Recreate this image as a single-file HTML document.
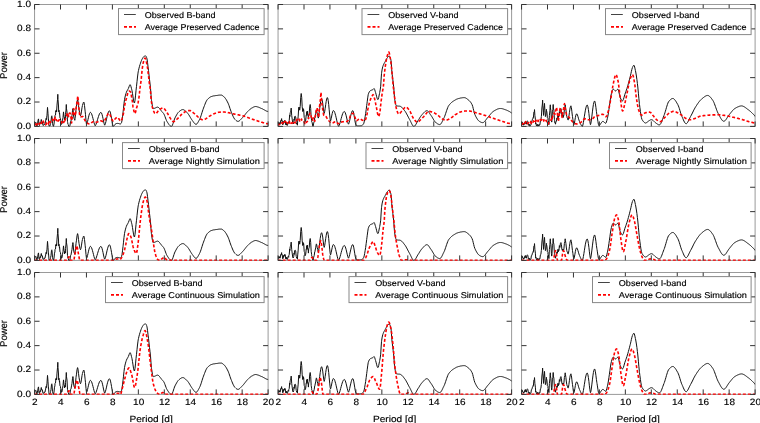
<!DOCTYPE html><html><head><meta charset="utf-8"><style>html,body{margin:0;padding:0;background:#fff;width:760px;height:423px;overflow:hidden}svg{display:block;will-change:transform}text{font-family:"Liberation Sans",sans-serif;fill:#000;stroke:#000;stroke-width:0.15px;text-rendering:geometricPrecision}</style></head><body>
<svg width="760" height="423" viewBox="0 0 760 423">
<rect width="760" height="423" fill="#fff"/>
<clipPath id="c00"><rect x="34.55" y="2.50" width="233.55" height="124.30"/></clipPath>
<rect x="34.55" y="4.50" width="233.55" height="121.90" fill="none" stroke="#9a9a9a" stroke-width="1"/>
<g clip-path="url(#c00)" fill="none" stroke-linejoin="round">
<polyline points="34.0,125.2 34.5,125.1 35.0,122.5 35.5,122.0 36.0,122.8 36.5,125.4 36.8,125.8 37.0,126.0 37.5,123.5 37.6,124.0 38.0,120.5 38.4,119.1 38.5,118.9 39.0,124.7 39.2,124.9 39.5,125.5 40.0,123.4 40.1,124.0 40.5,121.9 41.0,121.3 41.3,119.5 41.5,121.8 42.0,121.3 42.3,123.2 42.5,122.4 43.0,125.5 43.5,125.2 44.0,125.0 44.5,124.0 45.0,124.2 45.5,121.3 45.6,121.6 46.0,118.5 46.5,119.6 46.6,117.9 47.0,115.2 47.5,107.4 47.6,108.4 48.0,113.4 48.4,120.3 48.5,119.5 49.0,125.5 49.1,125.2 49.5,126.3 50.0,125.8 50.5,124.6 50.6,123.4 51.0,121.6 51.5,116.4 51.8,115.8 52.0,116.7 52.5,123.3 52.7,124.0 53.0,125.5 53.5,126.4 54.0,124.1 54.5,119.2 54.9,117.9 55.0,115.6 55.5,115.0 55.9,110.6 56.0,112.0 56.5,109.9 56.6,111.8 57.0,105.1 57.5,99.7 57.8,94.3 58.0,99.3 58.5,106.0 58.7,111.8 59.0,110.3 59.5,114.1 59.6,113.4 60.0,118.0 60.5,118.6 60.6,120.3 61.0,120.5 61.5,124.4 61.6,124.0 62.0,123.6 62.5,120.3 63.0,117.6 63.5,111.9 64.0,116.4 64.4,117.9 64.5,119.9 65.0,117.5 65.3,119.1 65.5,114.5 66.0,110.1 66.3,104.5 66.5,108.8 67.0,112.0 67.5,121.5 67.7,122.7 68.0,124.5 68.5,124.9 68.7,126.4 69.0,126.1 69.5,126.4 69.6,126.4 70.0,125.4 70.5,121.7 71.0,120.9 71.5,117.9 72.0,115.4 72.5,110.6 72.9,108.6 73.0,108.6 73.5,115.0 73.9,117.9 74.0,118.4 74.5,119.1 74.8,120.3 75.0,118.7 75.5,114.7 76.0,109.7 76.2,108.1 76.5,106.2 77.0,101.9 77.5,99.7 77.6,99.6 78.0,101.1 78.5,105.4 79.0,109.3 79.5,112.1 80.0,114.6 80.5,115.7 81.0,114.3 81.5,111.1 82.0,107.7 82.4,105.7 82.5,105.3 83.0,103.6 83.5,102.3 83.8,102.0 84.0,102.4 84.5,105.5 85.0,110.1 85.2,111.8 85.5,114.7 86.0,120.5 86.5,124.2 86.6,124.3 87.0,123.5 87.5,121.7 88.0,119.5 88.5,117.2 89.0,115.2 89.5,113.6 90.0,112.6 90.4,112.4 90.5,112.4 91.0,112.8 91.5,113.6 92.0,115.0 92.5,116.7 93.0,118.6 93.5,120.6 94.0,122.6 94.5,124.3 95.0,125.6 95.2,125.8 95.5,125.5 96.0,124.4 96.5,123.0 97.0,121.4 97.5,119.7 98.0,118.0 98.5,116.4 99.0,115.0 99.5,113.8 100.0,113.0 100.5,112.5 100.9,112.4 101.0,112.4 101.5,113.0 102.0,114.3 102.5,116.2 103.0,118.5 103.5,121.0 104.0,123.2 104.5,124.9 104.7,125.2 105.0,124.7 105.5,123.2 106.0,121.3 106.5,119.1 107.0,116.8 107.5,114.8 108.0,113.1 108.5,111.8 109.0,111.0 109.4,110.8 109.5,110.8 110.0,111.5 110.5,113.1 111.0,115.5 111.5,118.3 112.0,121.3 112.5,124.0 113.0,126.0 113.2,126.4 113.5,126.3 114.0,125.8 114.5,125.1 115.0,124.4 115.5,124.0 116.0,123.7 116.5,123.5 117.0,123.4 117.5,123.4 118.0,123.4 118.5,123.5 119.0,123.6 119.5,123.8 120.0,123.9 120.3,124.0 120.5,123.9 121.0,123.5 121.5,122.7 122.0,120.6 122.5,116.8 123.0,112.6 123.1,111.8 123.5,108.2 124.0,103.4 124.5,99.6 125.0,97.1 125.5,95.1 126.0,93.4 126.4,92.3 126.5,92.0 127.0,90.9 127.5,90.1 128.0,89.2 128.3,88.6 128.5,88.2 129.0,86.8 129.5,85.4 130.0,84.7 130.1,84.7 130.5,85.2 131.0,86.7 131.5,88.7 131.8,89.8 132.0,90.7 132.5,93.6 133.0,96.9 133.5,100.1 134.0,102.3 134.4,103.0 134.5,102.9 135.0,100.5 135.5,95.9 136.0,90.7 136.3,88.0 136.5,86.3 137.0,81.7 137.5,77.0 138.0,73.1 138.2,71.9 138.5,70.4 139.0,68.2 139.5,66.3 140.0,64.7 140.1,64.4 140.5,63.2 141.0,61.7 141.5,60.4 142.0,59.3 142.5,58.4 142.9,57.8 143.0,57.6 143.5,57.0 144.0,56.5 144.5,56.0 145.0,55.7 145.3,55.7 145.5,55.8 146.0,56.3 146.5,57.3 146.7,57.8 147.0,58.9 147.5,62.3 148.0,66.4 148.1,67.2 148.5,70.4 149.0,75.0 149.5,79.5 150.0,83.5 150.5,88.0 151.0,94.9 151.4,99.6 151.5,100.3 152.0,103.8 152.5,106.6 153.0,108.3 153.3,108.6 153.5,108.6 154.0,108.5 154.5,108.3 155.0,108.1 155.5,107.9 156.0,107.7 156.5,107.4 157.0,107.2 157.5,107.1 157.6,107.1 158.0,107.2 158.5,107.5 159.0,107.9 159.5,108.5 160.0,109.2 160.5,109.8 161.0,110.5 161.5,111.2 161.8,111.5 162.0,111.7 162.5,112.3 163.0,112.8 163.5,113.4 163.8,113.8 164.0,114.2 164.5,115.3 165.0,116.6 165.5,118.0 166.0,119.3 166.5,120.6 167.0,121.5 167.5,122.3 168.0,123.1 168.5,123.8 169.0,124.6 169.5,125.2 170.0,125.7 170.5,126.1 171.0,126.3 171.4,126.4 171.5,126.4 172.0,125.9 172.5,124.9 173.0,123.6 173.5,122.0 174.0,120.5 174.5,119.0 175.0,117.9 175.5,116.9 176.0,116.0 176.5,115.1 177.0,114.2 177.5,113.4 178.0,112.7 178.5,112.2 178.9,111.8 179.0,111.7 179.5,111.3 180.0,110.9 180.5,110.5 181.0,110.1 181.5,109.9 182.0,109.7 182.5,109.6 182.7,109.6 183.0,109.6 183.5,109.7 184.0,110.0 184.5,110.3 185.0,110.7 185.5,111.1 186.0,111.6 186.5,112.1 187.0,112.6 187.4,113.0 187.5,113.1 188.0,113.7 188.5,114.4 189.0,115.1 189.5,116.0 190.0,116.8 190.5,117.7 191.0,118.5 191.5,119.3 192.0,120.0 192.2,120.3 192.5,120.7 193.0,121.4 193.5,122.1 194.0,122.8 194.5,123.4 195.0,123.9 195.5,124.2 196.0,124.3 196.5,124.2 197.0,123.8 197.5,123.1 198.0,122.3 198.5,121.4 199.0,120.5 199.5,119.5 199.7,119.1 200.0,118.5 200.5,117.2 201.0,115.8 201.5,114.2 202.0,112.6 202.5,111.0 203.0,109.5 203.5,108.1 204.0,106.8 204.5,105.5 205.0,104.2 205.5,102.9 206.0,101.8 206.5,100.8 207.0,100.0 207.3,99.6 207.5,99.4 208.0,98.9 208.5,98.4 209.0,98.0 209.5,97.6 210.0,97.2 210.5,96.9 211.0,96.7 211.5,96.5 212.0,96.3 212.5,96.2 213.0,96.0 213.5,95.9 214.0,95.8 214.5,95.8 215.0,95.7 215.5,95.6 216.0,95.6 216.5,95.5 217.0,95.4 217.5,95.4 218.0,95.3 218.5,95.2 219.0,95.2 219.5,95.1 220.0,95.1 220.5,95.1 221.0,95.1 221.5,95.1 222.0,95.3 222.5,95.6 223.0,96.0 223.5,96.4 224.0,96.9 224.3,97.1 224.5,97.3 225.0,97.9 225.5,98.6 226.0,99.3 226.5,100.1 227.0,101.1 227.5,102.0 228.0,103.0 228.1,103.2 228.5,104.2 229.0,105.5 229.5,107.0 230.0,108.5 230.5,110.0 230.9,111.0 231.0,111.3 231.5,112.5 232.0,113.8 232.5,115.0 233.0,116.2 233.5,117.2 234.0,118.1 234.5,118.9 234.7,119.1 235.0,119.4 235.5,119.9 236.0,120.4 236.5,120.8 237.0,121.1 237.5,121.3 238.0,121.4 238.5,121.3 239.0,121.1 239.5,120.7 240.0,120.3 240.5,119.8 241.0,119.2 241.5,118.7 242.0,118.2 242.3,117.9 242.5,117.7 243.0,117.1 243.5,116.6 244.0,116.0 244.5,115.3 245.0,114.7 245.5,114.1 246.0,113.4 246.5,112.8 247.0,112.2 247.5,111.7 248.0,111.2 248.5,110.7 249.0,110.2 249.5,109.8 250.0,109.3 250.5,108.9 251.0,108.6 251.5,108.2 251.7,108.1 252.0,107.9 252.5,107.7 253.0,107.4 253.5,107.1 254.0,106.9 254.5,106.7 255.0,106.6 255.5,106.5 256.0,106.6 256.5,106.6 257.0,106.7 257.5,106.9 258.0,107.0 258.5,107.2 259.0,107.4 259.5,107.6 260.0,107.9 260.5,108.1 261.0,108.3 261.2,108.4 261.5,108.5 262.0,108.7 262.5,108.9 263.0,109.2 263.5,109.5 264.0,109.8 264.5,110.0 265.0,110.3 265.5,110.6 266.0,110.8 266.5,111.1 267.0,111.3 267.5,111.4 267.8,111.5 268.0,111.6 268.5,111.7 269.0,111.8" stroke="#111" stroke-width="1.0"/>
<polyline points="34.0,124.0 35.0,124.9 35.1,124.4 36.0,123.0 36.2,122.7 37.0,124.9 37.3,123.7 38.2,122.7 38.4,122.4 39.3,124.2 39.5,123.5 40.5,122.1 40.6,121.6 41.5,123.4 41.7,122.0 42.8,121.3 43.0,120.3 43.9,122.7 44.5,123.4 45.0,124.8 45.5,124.9 46.1,124.4 46.8,122.7 47.2,123.6 48.2,124.0 48.3,124.1 49.4,120.2 49.6,120.3 50.4,122.1 50.5,122.5 51.6,119.7 52.1,119.5 52.7,119.4 53.3,121.5 53.8,119.8 54.9,118.6 55.0,117.3 56.0,120.1 56.3,119.7 57.1,121.2 57.8,120.1 58.2,121.1 59.2,119.7 59.3,121.1 60.4,121.1 61.3,123.0 61.5,121.9 62.6,123.0 63.0,122.1 63.7,122.5 64.8,119.8 64.9,120.8 65.9,117.6 66.7,115.8 67.0,113.9 67.4,113.0 68.1,113.5 68.6,116.6 69.2,113.5 69.9,113.0 70.3,113.3 71.0,117.9 71.4,120.3 71.6,123.0 72.5,114.7 72.7,114.5 73.6,108.9 73.8,108.7 74.7,114.4 74.8,115.8 75.5,114.2 75.8,111.9 76.4,105.7 76.9,102.5 77.3,99.6 77.8,95.9 78.0,97.6 78.6,104.5 79.1,110.0 79.5,114.2 79.5,114.4 80.0,116.4 80.4,116.9 80.6,116.9 81.0,116.8 81.5,116.7 82.0,116.6 82.5,116.5 82.8,116.5 83.0,116.6 83.5,117.3 84.1,118.3 84.5,119.5 85.0,120.3 85.0,120.4 85.6,121.2 86.0,122.0 86.6,122.7 87.0,123.1 87.1,123.1 87.5,123.4 88.0,123.6 88.5,123.8 89.1,123.9 89.4,124.0 89.6,124.0 90.0,123.8 90.5,123.4 91.0,123.1 91.5,122.7 91.6,122.7 92.1,122.3 92.5,121.9 93.1,121.7 93.2,121.6 93.5,121.7 94.0,121.8 94.5,122.0 95.1,122.3 95.5,122.4 95.6,122.4 96.0,122.3 96.5,122.2 97.0,122.1 97.6,121.9 98.0,121.8 98.4,121.6 98.5,121.6 99.0,121.4 99.5,121.2 100.0,121.0 100.5,120.9 100.7,120.9 101.0,120.9 101.5,121.0 102.0,121.2 102.5,121.4 103.0,121.5 103.5,121.6 103.6,121.6 104.0,121.4 104.5,120.8 105.0,119.9 105.5,119.0 105.9,118.4 106.0,118.1 106.5,117.1 107.0,115.9 107.5,114.8 108.0,113.9 108.5,113.3 108.8,113.2 109.0,113.3 109.5,113.9 110.0,114.7 110.5,115.8 111.0,116.6 111.0,116.7 111.5,118.0 112.0,119.4 112.5,120.6 113.0,121.2 113.1,121.2 113.6,120.9 114.0,120.4 114.5,119.8 115.0,119.1 115.5,118.5 116.0,118.0 116.6,117.6 117.0,117.4 117.3,117.4 117.5,117.4 118.1,117.7 118.5,118.3 119.0,119.0 119.5,119.8 120.0,120.6 120.5,121.1 120.7,121.2 121.0,121.0 121.5,120.1 122.1,118.7 122.5,117.0 123.0,115.4 123.0,115.2 123.6,112.8 124.0,109.6 124.5,106.3 124.9,104.5 125.0,103.8 125.5,101.6 126.0,99.7 126.6,97.9 126.9,96.7 127.0,96.1 127.5,94.1 128.1,92.5 128.3,92.0 128.5,91.7 129.1,91.2 129.5,91.0 129.6,91.1 130.1,91.4 130.6,92.2 130.8,92.8 131.1,93.6 131.5,96.6 131.8,98.1 132.1,99.7 132.6,103.3 133.0,106.9 133.5,109.3 133.6,109.6 134.1,111.8 134.6,113.4 134.8,113.6 135.1,113.4 135.6,112.0 136.1,109.9 136.5,108.1 136.6,107.9 137.1,106.3 137.6,104.7 138.1,102.7 138.2,102.0 138.6,100.1 138.9,97.8 139.1,96.6 139.6,91.9 140.0,87.8 140.1,87.4 140.6,83.9 141.1,80.5 141.3,78.5 141.5,75.9 142.1,70.3 142.2,69.0 142.6,66.5 143.0,63.6 143.6,61.5 143.6,61.3 144.1,59.9 144.6,58.6 145.1,58.0 145.1,58.0 145.6,58.7 146.1,60.5 146.5,62.4 146.5,62.6 147.1,65.2 147.6,68.4 147.9,70.8 148.0,72.0 148.6,76.4 149.1,81.1 149.3,83.1 149.6,84.8 150.1,87.9 150.3,89.8 150.6,92.6 151.1,99.1 151.2,100.4 151.6,102.8 152.0,105.8 152.6,108.0 153.1,109.7 153.1,109.8 153.6,111.0 154.1,112.1 154.5,113.0 155.1,113.6 155.5,113.8 155.6,113.8 156.1,113.6 156.6,113.2 157.0,112.5 157.6,111.7 158.1,111.0 158.6,110.4 159.0,109.9 159.1,109.9 159.5,109.6 160.1,109.2 160.6,108.9 161.1,108.6 161.6,108.3 162.0,108.2 162.6,108.0 163.0,108.0 163.1,108.0 163.6,108.1 164.1,108.5 164.6,109.1 165.1,109.7 165.6,110.4 166.1,111.1 166.5,111.8 166.6,111.8 167.1,112.6 167.6,113.5 168.1,114.4 168.6,115.4 169.1,116.3 169.6,117.2 170.0,117.9 170.1,117.9 170.6,118.7 171.1,119.4 171.6,120.1 172.1,120.8 172.6,121.3 173.1,121.6 173.4,121.6 173.6,121.6 174.1,121.5 174.6,121.2 175.1,120.9 175.6,120.4 176.1,119.9 176.6,119.5 177.0,119.1 177.1,119.0 177.6,118.6 178.1,118.1 178.6,117.6 179.1,117.1 179.6,116.5 180.1,116.0 180.6,115.4 181.1,114.9 181.6,114.4 182.1,114.0 182.5,113.6 182.6,113.6 183.1,113.2 183.6,112.8 184.1,112.5 184.6,112.1 185.1,111.8 185.6,111.5 186.1,111.3 186.5,111.2 186.6,111.1 187.1,111.0 187.6,110.9 188.1,110.7 188.6,110.6 189.1,110.6 189.5,110.6 189.6,110.6 190.1,110.6 190.6,110.8 191.1,111.1 191.6,111.4 192.1,111.8 192.6,112.2 193.1,112.6 193.5,113.0 193.6,113.0 194.1,113.4 194.6,113.8 195.1,114.3 195.6,114.7 196.1,115.2 196.6,115.7 197.1,116.1 197.5,116.5 197.6,116.6 198.1,117.0 198.6,117.5 199.1,118.0 199.6,118.5 200.1,118.8 200.5,119.1 200.6,119.1 201.1,119.3 201.6,119.5 202.1,119.7 202.6,119.8 203.0,119.8 203.1,119.8 203.6,119.8 204.1,119.6 204.6,119.5 205.1,119.2 205.6,118.9 206.1,118.6 206.6,118.2 207.1,117.9 207.6,117.5 208.1,117.1 208.6,116.8 209.1,116.4 209.6,116.1 209.7,116.0 210.1,115.9 210.6,115.6 211.1,115.3 211.6,115.0 212.1,114.7 212.6,114.5 213.1,114.2 213.6,113.9 214.1,113.7 214.6,113.5 215.1,113.3 215.3,113.2 215.6,113.2 216.1,113.0 216.6,112.8 217.1,112.7 217.6,112.6 218.1,112.4 218.6,112.3 219.1,112.2 219.5,112.2 220.0,112.1 220.1,112.1 220.6,112.1 221.0,112.1 221.6,112.1 222.1,112.0 222.5,112.0 223.1,112.0 223.6,112.0 224.0,112.0 224.0,112.0 224.6,112.0 225.1,112.1 225.6,112.2 226.1,112.2 226.6,112.3 227.1,112.4 227.6,112.5 228.0,112.6 228.1,112.6 228.5,112.7 229.1,112.8 229.6,112.9 230.0,113.1 230.6,113.2 231.1,113.3 231.5,113.4 232.1,113.5 232.4,113.6 232.6,113.6 233.0,113.7 233.6,113.9 234.1,114.0 234.6,114.1 235.1,114.2 235.6,114.3 236.1,114.4 236.6,114.5 237.1,114.6 237.6,114.7 238.0,114.8 238.1,114.8 238.6,114.9 239.1,115.0 239.6,115.1 240.1,115.2 240.6,115.3 241.0,115.4 241.6,115.5 242.1,115.6 242.6,115.8 243.1,115.9 243.6,116.0 243.7,116.0 244.1,116.1 244.6,116.3 245.1,116.5 245.6,116.6 246.1,116.8 246.6,117.0 247.1,117.2 247.6,117.4 248.1,117.6 248.5,117.8 249.1,118.0 249.4,118.1 249.6,118.2 250.0,118.3 250.6,118.5 251.1,118.7 251.5,118.9 252.0,119.1 252.6,119.3 253.0,119.5 253.6,119.6 254.1,119.8 254.6,120.0 255.1,120.2 255.1,120.2 255.6,120.3 256.1,120.5 256.6,120.6 257.1,120.8 257.6,121.0 258.1,121.1 258.5,121.2 259.1,121.4 259.6,121.5 260.0,121.7 260.6,121.8 260.7,121.9 261.1,122.0 261.5,122.2 262.0,122.3 262.6,122.5 263.1,122.7 263.6,122.8 264.1,123.0 264.6,123.1 265.1,123.2 265.5,123.4 265.6,123.4 266.1,123.5 266.6,123.6 267.1,123.7 267.6,123.8 268.1,123.8 268.6,123.9 269.0,124.0" stroke="#f00" stroke-width="1.6" stroke-dasharray="3,2"/>
</g>
<path d="M34.55,126.40v-5M34.55,4.50v5M60.50,126.40v-5M60.50,4.50v5M86.45,126.40v-5M86.45,4.50v5M112.40,126.40v-5M112.40,4.50v5M138.35,126.40v-5M138.35,4.50v5M164.30,126.40v-5M164.30,4.50v5M190.25,126.40v-5M190.25,4.50v5M216.20,126.40v-5M216.20,4.50v5M242.15,126.40v-5M242.15,4.50v5M268.10,126.40v-5M268.10,4.50v5M34.55,126.40h5M268.10,126.40h-5M34.55,102.02h5M268.10,102.02h-5M34.55,77.64h5M268.10,77.64h-5M34.55,53.26h5M268.10,53.26h-5M34.55,28.88h5M268.10,28.88h-5M34.55,4.50h5M268.10,4.50h-5" stroke="#333" stroke-width="1"/>
<rect x="118.50" y="8.60" width="145.60" height="26.00" fill="#fff" stroke="#888" stroke-width="1"/>
<path d="M124.00,14.50h11.8" stroke="#444" stroke-width="1"/>
<path d="M124.00,26.90h12" stroke="#f00" stroke-width="1.6" stroke-dasharray="3,2"/>
<text x="144.80" y="17.70" font-size="8.45" textLength="70.84" lengthAdjust="spacingAndGlyphs">Observed B-band</text>
<text x="144.80" y="29.60" font-size="8.45" textLength="114.77" lengthAdjust="spacingAndGlyphs">Average Preserved Cadence</text>
<text x="17.09" y="128.70" font-size="9.10" textLength="13.91" lengthAdjust="spacingAndGlyphs">0.0</text>
<text x="17.09" y="104.32" font-size="9.10" textLength="13.91" lengthAdjust="spacingAndGlyphs">0.2</text>
<text x="17.09" y="79.94" font-size="9.10" textLength="13.91" lengthAdjust="spacingAndGlyphs">0.4</text>
<text x="17.09" y="55.56" font-size="9.10" textLength="13.91" lengthAdjust="spacingAndGlyphs">0.6</text>
<text x="17.09" y="31.18" font-size="9.10" textLength="13.91" lengthAdjust="spacingAndGlyphs">0.8</text>
<text x="17.09" y="6.80" font-size="9.10" textLength="13.91" lengthAdjust="spacingAndGlyphs">1.0</text>
<g transform="translate(7.1,65.45) rotate(-90)"><text x="-13.50" y="0.00" font-size="9.80" textLength="27.00" lengthAdjust="spacingAndGlyphs">Power</text></g>
<clipPath id="c01"><rect x="278.05" y="2.50" width="233.55" height="124.30"/></clipPath>
<rect x="278.05" y="4.50" width="233.55" height="121.90" fill="none" stroke="#9a9a9a" stroke-width="1"/>
<g clip-path="url(#c01)" fill="none" stroke-linejoin="round">
<polyline points="277.7,124.0 278.2,124.5 278.7,122.5 279.0,122.7 279.2,122.4 279.7,124.1 280.0,124.0 280.2,124.1 280.7,120.6 281.2,121.0 281.6,118.6 281.7,120.5 282.2,120.4 282.7,124.7 282.8,124.0 283.2,124.2 283.7,121.3 284.2,122.3 284.6,120.5 284.7,121.5 285.2,120.7 285.7,124.5 286.0,124.0 286.2,125.0 286.7,123.2 287.2,125.5 287.5,124.6 287.7,124.6 288.2,122.4 288.7,123.2 288.8,121.5 289.2,120.7 289.7,115.1 289.8,116.6 290.2,112.4 290.7,112.1 291.2,108.1 291.7,115.4 292.2,119.1 292.7,123.0 293.2,124.0 293.7,122.6 294.1,119.1 294.2,120.4 294.7,116.5 295.2,116.2 295.7,117.0 296.2,122.5 296.4,122.7 296.7,124.1 297.2,124.4 297.4,125.2 297.7,120.9 298.2,116.1 298.7,107.7 298.8,108.1 299.2,107.0 299.7,110.2 299.8,109.3 300.2,106.6 300.7,97.8 301.2,93.5 301.7,97.4 302.2,106.8 302.6,109.9 302.7,111.5 303.2,108.6 303.5,110.6 303.7,109.8 304.2,117.4 304.7,118.2 305.0,121.9 305.2,120.4 305.7,120.5 306.2,115.1 306.4,115.4 306.7,111.8 307.2,112.7 307.3,111.0 307.7,115.5 308.2,115.8 308.4,119.1 308.7,114.9 309.2,113.6 309.7,107.0 310.2,104.5 310.7,108.5 311.2,117.6 311.6,120.3 311.7,121.8 312.2,122.7 312.7,125.9 313.0,126.4 313.2,126.1 313.7,123.1 314.2,121.6 314.7,118.0 314.9,117.9 315.2,116.0 315.7,113.9 316.2,110.6 316.4,109.9 316.7,110.7 317.2,113.3 317.7,115.4 318.2,117.9 318.3,118.1 318.7,116.5 319.2,112.9 319.7,108.7 320.2,104.6 320.7,101.3 321.2,99.3 321.6,98.7 321.7,98.8 322.2,100.1 322.7,103.1 323.2,107.1 323.7,111.0 324.2,113.4 324.7,111.5 325.2,108.3 325.7,104.7 326.2,101.4 326.7,99.0 327.2,97.7 327.4,97.6 327.7,98.0 328.2,100.4 328.7,104.5 329.2,109.8 329.7,115.1 330.2,119.5 330.5,120.9 330.7,120.5 331.2,118.6 331.7,116.0 332.2,113.6 332.7,111.6 333.2,110.6 333.4,110.6 333.7,110.7 334.2,111.2 334.7,112.3 335.2,113.9 335.7,115.7 336.2,117.8 336.7,120.1 337.2,122.2 337.7,124.2 338.2,125.7 338.6,126.4 338.7,126.3 339.2,125.4 339.7,124.0 340.2,122.3 340.7,120.4 341.2,118.5 341.7,116.7 342.2,115.0 342.7,113.6 343.2,112.5 343.7,111.8 344.2,111.5 344.3,111.5 344.7,111.7 345.2,112.6 345.7,114.0 346.2,115.8 346.7,118.0 347.2,120.2 347.7,122.2 348.2,123.7 348.5,124.2 348.7,123.9 349.2,122.5 349.7,120.4 350.2,118.1 350.7,115.9 351.2,113.8 351.7,112.2 352.2,111.0 352.7,110.6 352.8,110.6 353.2,111.1 353.7,113.1 354.2,116.0 354.7,119.2 355.2,122.2 355.7,124.4 356.1,125.2 356.2,125.2 356.7,125.5 357.2,125.8 357.7,125.9 358.0,125.9 358.2,125.9 358.7,125.9 359.2,125.9 359.7,125.9 360.2,125.8 360.7,125.8 361.0,125.8 361.2,125.8 361.7,125.6 362.2,125.3 362.7,124.9 363.2,124.3 363.5,124.0 363.7,123.6 364.2,121.9 364.7,119.3 365.2,116.3 365.6,113.8 365.7,113.2 366.2,109.5 366.7,105.5 367.0,103.2 367.2,101.8 367.7,97.9 368.2,94.7 368.4,94.0 368.7,93.2 369.2,92.1 369.7,91.3 370.2,90.8 370.3,90.7 370.7,90.5 371.2,90.3 371.7,90.1 372.2,89.9 372.7,89.7 373.2,89.3 373.7,88.8 374.1,88.6 374.2,88.6 374.7,89.6 375.2,91.3 375.5,92.3 375.7,92.9 376.2,94.8 376.7,96.8 377.2,98.5 377.7,99.5 377.9,99.6 378.2,99.2 378.7,97.5 379.2,95.0 379.5,93.5 379.7,92.5 380.2,89.9 380.7,86.2 381.2,78.0 381.5,73.7 381.7,72.2 382.2,69.1 382.7,67.0 382.9,66.3 383.2,65.5 383.7,64.3 384.2,63.3 384.7,62.5 385.2,61.6 385.3,61.4 385.7,60.6 386.2,59.6 386.7,58.7 387.2,57.9 387.5,57.5 387.7,57.3 388.2,56.7 388.7,56.3 389.2,56.1 389.3,56.1 389.7,56.4 390.2,57.5 390.7,59.2 391.0,60.6 391.2,62.2 391.7,69.4 391.9,71.9 392.2,74.6 392.7,78.6 392.8,79.5 393.2,82.7 393.7,87.0 393.8,88.0 394.2,94.0 394.5,97.8 394.7,99.1 395.2,102.2 395.7,104.4 396.2,105.6 396.4,105.8 396.7,105.9 397.2,106.0 397.7,106.0 398.2,106.1 398.7,106.1 399.2,106.1 399.7,106.2 400.2,106.3 400.7,106.5 401.2,106.8 401.7,107.2 402.2,107.7 402.7,108.2 403.2,108.8 403.7,109.5 404.2,110.1 404.7,110.8 404.9,111.0 405.2,111.4 405.7,112.2 406.2,113.1 406.7,114.0 407.2,114.9 407.7,115.9 408.2,116.9 408.7,117.8 409.2,118.8 409.6,119.5 409.7,119.6 410.2,120.6 410.7,121.6 411.2,122.7 411.7,123.7 412.2,124.7 412.7,125.5 413.2,126.1 413.7,126.4 413.9,126.4 414.2,126.3 414.7,126.0 415.2,125.5 415.7,124.7 416.2,123.9 416.7,122.9 417.2,122.0 417.7,121.1 418.2,120.3 418.7,119.6 419.2,118.8 419.7,117.9 420.2,117.1 420.7,116.4 421.2,115.7 421.7,115.0 421.9,114.8 422.2,114.5 422.7,113.9 423.2,113.4 423.7,112.8 424.2,112.3 424.7,111.8 425.2,111.4 425.7,111.1 426.2,110.8 426.7,110.7 427.0,110.7 427.2,110.7 427.7,110.9 428.2,111.4 428.7,112.0 429.2,112.7 429.7,113.5 430.2,114.3 430.7,115.0 431.0,115.4 431.2,115.7 431.7,116.4 432.2,117.2 432.7,118.1 433.2,118.9 433.7,119.8 434.2,120.6 434.7,121.3 435.2,122.0 435.7,122.5 436.0,122.7 436.2,122.9 436.7,123.2 437.2,123.6 437.7,123.9 438.2,124.1 438.7,124.4 439.2,124.5 439.7,124.6 439.8,124.6 440.2,124.5 440.7,124.1 441.2,123.4 441.7,122.6 442.2,121.7 442.7,120.6 443.2,119.5 443.7,118.5 444.0,117.9 444.2,117.5 444.7,116.3 445.2,114.9 445.7,113.4 446.2,111.9 446.7,110.4 447.2,109.0 447.7,107.7 448.2,106.5 448.7,105.7 449.2,105.0 449.7,104.4 450.2,103.8 450.7,103.3 451.2,102.8 451.7,102.3 452.2,101.9 452.7,101.6 453.1,101.3 453.2,101.2 453.7,100.9 454.2,100.6 454.7,100.3 455.2,100.0 455.7,99.7 456.2,99.4 456.7,99.2 457.2,99.0 457.7,98.8 458.2,98.6 458.7,98.5 459.2,98.4 459.7,98.3 460.2,98.1 460.7,98.0 461.2,97.9 461.7,97.9 462.2,97.8 462.7,97.7 463.2,97.7 463.7,97.6 464.2,97.6 464.7,97.7 465.2,97.8 465.7,98.0 466.2,98.3 466.7,98.6 467.2,99.0 467.7,99.4 468.2,99.8 468.7,100.2 469.2,100.6 469.7,101.1 470.2,101.7 470.7,102.3 471.2,103.1 471.7,103.9 472.0,104.5 472.2,104.9 472.7,106.4 473.2,108.4 473.7,110.5 474.2,112.5 474.7,114.1 474.9,114.6 475.2,115.2 475.7,116.3 476.2,117.2 476.7,118.1 477.2,118.9 477.7,119.7 478.2,120.3 478.7,120.8 479.2,121.2 479.3,121.3 479.7,121.5 480.2,121.8 480.7,122.1 481.2,122.3 481.7,122.5 482.2,122.6 482.7,122.6 483.2,122.5 483.7,122.3 484.2,121.9 484.7,121.4 485.2,120.8 485.7,120.1 486.2,119.5 486.7,118.8 487.2,118.1 487.7,117.5 488.2,116.9 488.7,116.4 489.2,115.8 489.7,115.2 490.2,114.6 490.7,114.0 491.2,113.4 491.7,112.8 492.2,112.3 492.7,111.9 493.2,111.4 493.7,111.1 493.8,111.0 494.2,110.8 494.7,110.5 495.2,110.2 495.7,110.0 496.2,109.7 496.7,109.5 497.2,109.2 497.7,109.0 498.2,108.9 498.7,108.7 499.2,108.6 499.7,108.5 500.2,108.5 500.4,108.5 500.7,108.5 501.2,108.5 501.7,108.6 502.2,108.7 502.7,108.8 503.2,109.0 503.7,109.1 504.2,109.3 504.7,109.5 505.2,109.7 505.7,109.8 506.0,109.9 506.2,110.0 506.7,110.2 507.2,110.4 507.7,110.7 508.2,110.9 508.7,111.2 509.2,111.4 509.7,111.7 510.2,112.0 510.7,112.4 511.2,112.7 511.7,113.0 512.2,113.4 512.5,113.6" stroke="#111" stroke-width="1.0"/>
<polyline points="277.7,124.0 278.8,125.0 279.0,124.6 279.9,124.2 280.5,123.4 281.0,123.8 282.0,122.6 282.1,123.3 283.2,123.5 283.4,124.2 284.3,121.7 284.8,121.5 285.4,121.5 286.2,123.4 286.5,122.4 287.6,123.3 287.8,122.1 288.7,122.5 289.4,121.5 289.8,123.1 290.9,123.9 291.2,124.7 292.0,122.6 293.1,122.7 293.3,121.5 294.2,122.6 294.9,122.1 295.3,122.9 296.4,120.1 296.5,120.8 297.5,118.5 298.3,118.7 298.6,118.2 299.7,121.0 299.8,120.1 300.8,120.5 301.5,119.0 301.9,120.2 303.0,120.3 303.0,120.9 304.1,121.7 304.9,123.6 305.2,122.8 306.3,123.4 306.5,122.1 307.4,121.4 308.5,117.6 308.7,118.4 309.6,114.0 310.1,113.2 310.7,113.8 311.3,117.3 311.8,117.9 312.5,120.3 312.9,118.6 313.6,117.9 314.0,118.2 314.8,121.2 315.1,117.9 316.2,110.8 317.2,108.0 317.3,109.7 318.0,113.0 318.4,116.5 318.6,117.4 319.5,107.4 319.5,106.9 320.5,98.5 320.6,96.8 321.0,92.4 321.7,102.0 322.8,110.1 322.9,110.8 323.1,111.7 323.6,114.8 323.8,115.4 324.1,115.6 324.6,115.7 325.1,115.9 325.5,116.0 325.6,116.1 326.1,116.6 326.6,117.5 327.1,118.5 327.6,119.3 327.6,119.3 328.1,119.9 328.6,120.4 329.1,121.0 329.6,121.5 330.1,121.9 330.4,122.1 330.6,122.2 331.1,122.6 331.6,122.9 332.1,123.1 332.3,123.1 332.6,123.0 333.1,122.8 333.6,122.5 334.1,122.2 334.6,121.9 335.1,121.7 335.6,121.6 335.6,121.6 336.1,121.8 336.6,122.2 337.1,122.7 337.6,123.3 338.0,123.6 338.1,123.6 338.6,123.5 339.1,123.2 339.6,122.8 340.1,122.5 340.6,122.2 340.8,122.1 341.1,122.1 341.6,122.0 342.1,121.9 342.6,121.8 343.1,121.7 343.6,121.7 343.8,121.6 344.1,121.6 344.6,121.6 345.1,121.6 345.6,121.6 346.1,121.6 346.5,121.5 346.6,121.5 347.1,121.3 347.6,121.0 348.1,120.5 348.6,119.9 349.0,119.3 349.1,119.3 349.6,118.1 350.1,116.6 350.6,115.2 350.9,114.6 351.1,114.4 351.6,113.9 352.1,113.5 352.6,113.3 352.8,113.2 353.1,113.3 353.6,114.1 354.1,115.2 354.6,116.3 354.7,116.6 355.1,117.5 355.6,119.0 356.1,120.2 356.5,120.7 356.6,120.7 357.1,120.4 357.6,120.1 358.1,119.7 358.6,119.3 359.1,119.0 359.6,118.9 359.9,118.8 360.1,118.9 360.6,119.0 361.1,119.4 361.6,119.8 362.1,120.1 362.5,120.3 362.6,120.3 363.1,120.4 363.6,120.6 364.1,120.6 364.6,120.7 364.6,120.7 365.1,120.3 365.6,119.4 366.1,117.9 366.5,116.5 366.6,116.4 367.1,113.9 367.6,110.8 367.9,108.8 368.1,108.2 368.6,105.9 369.1,103.9 369.6,102.1 369.8,101.3 370.1,100.5 370.6,99.1 371.1,97.8 371.6,96.8 371.7,96.5 372.1,95.9 372.6,95.1 373.1,94.7 373.1,94.7 373.6,95.3 374.1,96.9 374.5,98.5 374.6,98.7 375.1,100.8 375.6,103.3 375.9,105.1 376.1,105.8 376.6,108.4 377.1,111.1 377.4,112.7 377.6,113.5 378.1,116.0 378.3,116.5 378.6,116.4 379.1,115.5 379.5,114.2 379.6,114.0 380.1,110.8 380.6,106.1 381.0,102.0 381.1,101.6 381.6,97.7 382.1,93.9 382.3,92.3 382.6,90.9 383.1,88.5 383.3,86.9 383.6,84.1 384.1,77.0 384.1,76.4 384.6,72.1 385.1,68.0 385.2,66.9 385.6,64.5 386.1,61.3 386.6,58.6 386.7,57.9 387.1,56.5 387.6,54.7 388.1,53.4 388.1,53.3 388.6,52.3 388.8,52.0 389.1,52.4 389.6,54.5 390.0,56.9 390.1,57.2 390.6,60.2 391.1,64.0 391.4,66.9 391.6,68.3 392.1,73.7 392.3,76.4 392.6,79.1 393.1,84.5 393.3,86.9 393.6,89.1 394.0,92.8 394.1,93.2 394.6,97.3 395.1,101.2 395.5,104.2 395.6,104.5 396.1,107.3 396.6,109.6 396.9,110.8 397.1,111.2 397.6,112.4 398.1,113.4 398.6,114.0 398.8,114.1 399.1,114.0 399.6,113.8 400.1,113.2 400.6,112.6 401.1,111.9 401.6,111.2 402.1,110.6 402.1,110.6 402.6,110.1 403.1,109.5 403.6,108.8 404.1,108.3 404.6,107.7 405.1,107.3 405.6,107.1 405.9,107.0 406.1,107.0 406.6,107.2 407.1,107.6 407.6,108.1 408.1,108.7 408.6,109.3 409.1,110.0 409.6,110.7 409.6,110.8 410.1,111.5 410.6,112.5 411.1,113.6 411.6,114.7 412.1,115.8 412.6,116.9 413.1,117.8 413.4,118.4 413.6,118.6 414.1,119.2 414.6,119.9 415.1,120.6 415.6,121.2 416.1,121.6 416.6,122.0 417.1,122.1 417.2,122.1 417.6,122.1 418.1,121.9 418.6,121.6 419.1,121.2 419.6,120.7 420.1,120.2 420.6,119.7 421.0,119.3 421.1,119.3 421.6,118.8 422.1,118.4 422.6,117.8 423.1,117.3 423.6,116.8 424.1,116.2 424.6,115.7 424.8,115.4 425.1,115.1 425.6,114.5 426.1,113.8 426.6,113.1 427.1,112.4 427.6,111.8 428.1,111.4 428.6,111.3 428.6,111.3 429.1,111.3 429.6,111.4 430.1,111.5 430.6,111.6 431.1,111.7 431.6,111.9 432.1,112.0 432.6,112.2 433.0,112.4 433.1,112.4 433.6,112.6 434.1,112.8 434.6,113.1 435.1,113.4 435.6,113.7 436.1,114.0 436.6,114.3 437.1,114.7 437.6,115.0 438.1,115.4 438.1,115.4 438.6,115.8 439.1,116.3 439.6,116.8 440.1,117.3 440.6,117.8 441.1,118.2 441.5,118.5 441.6,118.5 442.1,118.8 442.6,119.1 443.1,119.4 443.6,119.6 444.1,119.8 444.6,120.0 445.1,120.1 445.6,120.2 445.6,120.2 446.1,120.2 446.6,120.1 447.1,119.9 447.6,119.7 448.1,119.5 448.6,119.2 449.1,119.0 449.6,118.7 450.1,118.4 450.4,118.2 450.6,118.2 451.1,117.9 451.6,117.5 452.1,117.2 452.6,116.8 453.1,116.4 453.6,116.1 454.1,115.7 454.6,115.3 455.1,115.0 455.1,114.9 455.6,114.6 456.1,114.3 456.6,114.0 457.1,113.6 457.6,113.3 458.1,113.0 458.6,112.7 459.1,112.4 459.6,112.2 459.8,112.1 460.1,112.1 460.6,111.9 461.1,111.7 461.6,111.6 462.1,111.4 462.6,111.3 463.0,111.2 463.6,111.1 464.1,111.1 464.5,111.0 464.5,111.0 465.1,111.0 465.6,111.0 466.0,111.0 466.6,111.0 467.1,111.0 467.5,111.0 468.1,111.0 468.6,111.0 469.1,111.0 469.3,111.0 469.6,111.0 470.1,111.1 470.6,111.2 471.1,111.3 471.6,111.5 472.0,111.6 472.6,111.8 473.1,112.0 473.5,112.1 473.6,112.1 474.1,112.3 474.6,112.4 475.0,112.5 475.6,112.6 476.1,112.8 476.5,112.9 477.1,113.0 477.6,113.1 478.1,113.3 478.6,113.4 479.1,113.6 479.2,113.6 479.6,113.7 480.1,113.9 480.6,114.0 481.1,114.2 481.6,114.3 482.1,114.5 482.6,114.6 483.1,114.8 483.6,115.0 484.1,115.1 484.5,115.3 484.9,115.4 485.1,115.5 485.6,115.6 486.1,115.8 486.6,116.0 487.1,116.2 487.6,116.3 488.1,116.5 488.6,116.7 489.1,116.8 489.6,117.0 490.1,117.2 490.6,117.4 490.6,117.4 491.1,117.5 491.6,117.7 492.0,117.9 492.6,118.1 493.1,118.2 493.5,118.4 494.1,118.6 494.6,118.8 495.0,118.9 495.5,119.1 496.1,119.3 496.2,119.3 496.5,119.4 497.1,119.6 497.6,119.8 498.1,119.9 498.6,120.1 499.1,120.2 499.6,120.4 500.1,120.6 500.6,120.7 501.1,120.9 501.6,121.0 501.9,121.2 502.0,121.2 502.6,121.4 503.1,121.6 503.5,121.8 504.1,121.9 504.6,122.1 505.0,122.3 505.5,122.5 506.1,122.7 506.6,122.8 507.1,123.0 507.6,123.1 507.6,123.1 508.1,123.2 508.6,123.3 509.1,123.4 509.6,123.5 510.1,123.6 510.6,123.7 511.1,123.8 511.6,123.9 512.1,123.9 512.5,124.0" stroke="#f00" stroke-width="1.6" stroke-dasharray="3,2"/>
</g>
<path d="M278.05,126.40v-5M278.05,4.50v5M304.00,126.40v-5M304.00,4.50v5M329.95,126.40v-5M329.95,4.50v5M355.90,126.40v-5M355.90,4.50v5M381.85,126.40v-5M381.85,4.50v5M407.80,126.40v-5M407.80,4.50v5M433.75,126.40v-5M433.75,4.50v5M459.70,126.40v-5M459.70,4.50v5M485.65,126.40v-5M485.65,4.50v5M511.60,126.40v-5M511.60,4.50v5M278.05,126.40h5M511.60,126.40h-5M278.05,102.02h5M511.60,102.02h-5M278.05,77.64h5M511.60,77.64h-5M278.05,53.26h5M511.60,53.26h-5M278.05,28.88h5M511.60,28.88h-5M278.05,4.50h5M511.60,4.50h-5" stroke="#333" stroke-width="1"/>
<rect x="362.00" y="8.60" width="145.60" height="26.00" fill="#fff" stroke="#888" stroke-width="1"/>
<path d="M367.50,14.50h11.8" stroke="#444" stroke-width="1"/>
<path d="M367.50,26.90h12" stroke="#f00" stroke-width="1.6" stroke-dasharray="3,2"/>
<text x="388.30" y="17.70" font-size="8.45" textLength="70.35" lengthAdjust="spacingAndGlyphs">Observed V-band</text>
<text x="388.30" y="29.60" font-size="8.45" textLength="114.77" lengthAdjust="spacingAndGlyphs">Average Preserved Cadence</text>
<clipPath id="c02"><rect x="521.55" y="2.50" width="233.55" height="124.30"/></clipPath>
<rect x="521.55" y="4.50" width="233.55" height="121.90" fill="none" stroke="#9a9a9a" stroke-width="1"/>
<g clip-path="url(#c02)" fill="none" stroke-linejoin="round">
<polyline points="521.4,124.0 521.9,123.4 522.0,121.9 522.4,123.5 522.9,123.5 523.4,125.2 523.9,123.9 524.4,124.3 524.9,122.0 525.3,122.3 525.4,121.5 525.9,124.0 526.2,123.4 526.4,124.2 526.9,121.3 527.4,120.9 527.9,121.7 528.4,125.1 528.6,124.9 528.9,125.5 529.4,124.3 529.9,126.3 530.4,125.4 530.9,125.1 531.4,121.6 531.9,121.4 532.4,119.2 532.9,119.0 533.1,117.6 533.4,117.9 533.9,112.0 534.4,111.4 534.5,109.6 534.9,115.6 535.4,119.2 535.7,124.0 535.9,123.3 536.4,125.7 536.9,124.9 537.1,125.4 537.4,124.4 537.9,126.2 538.4,124.7 538.9,126.0 539.4,124.6 539.9,124.9 540.4,120.9 540.9,120.2 541.3,116.6 541.4,116.4 541.9,108.0 542.4,104.0 542.6,100.1 542.9,105.9 543.4,112.4 543.5,115.4 543.9,108.9 544.4,105.3 544.5,103.4 544.9,110.7 545.4,116.6 545.9,115.1 546.4,109.3 546.5,110.6 546.9,112.1 547.4,117.8 547.9,118.3 548.0,120.3 548.4,120.9 548.9,124.6 549.4,115.4 549.9,110.8 550.3,104.8 550.4,107.8 550.9,110.5 551.4,119.4 551.7,122.1 551.9,120.9 552.4,111.8 552.9,109.3 553.2,104.5 553.4,108.1 553.9,110.3 554.4,119.3 554.6,120.3 554.9,123.1 555.4,123.1 555.5,124.2 555.9,121.5 556.4,121.4 556.9,117.9 557.4,119.3 557.9,115.3 558.4,117.7 558.8,115.7 558.9,116.4 559.4,111.6 559.9,113.4 560.4,109.5 560.9,108.6 561.4,110.4 561.9,115.4 562.1,115.4 562.4,116.5 562.9,115.0 563.4,117.4 563.5,116.6 563.9,114.9 564.4,109.5 564.9,107.4 565.2,104.8 565.4,106.3 565.9,109.4 566.4,114.0 566.8,116.6 566.9,117.1 567.4,118.2 567.9,119.8 568.2,120.1 568.4,119.5 568.9,116.5 569.4,112.7 569.9,109.2 570.4,106.7 570.9,105.8 571.4,107.6 571.9,111.8 572.4,116.0 572.5,116.6 572.9,119.5 573.4,123.1 573.9,124.7 574.4,123.0 574.9,120.3 575.4,117.4 575.9,115.1 576.4,114.0 576.6,113.8 576.9,114.0 577.4,114.9 577.9,116.4 578.4,118.2 578.9,119.9 579.4,121.3 579.5,121.5 579.9,122.4 580.4,123.5 580.9,124.6 581.4,125.5 581.9,126.2 582.4,126.4 582.9,125.0 583.4,122.5 583.9,119.5 584.4,116.3 584.9,113.1 585.4,110.2 585.9,107.9 586.4,106.1 586.9,105.2 587.2,105.1 587.4,105.2 587.9,106.7 588.4,109.6 588.9,113.4 589.4,117.8 589.9,121.8 590.4,124.5 590.5,124.7 590.9,123.3 591.4,120.0 591.9,116.1 592.4,111.9 592.9,107.9 593.4,104.6 593.9,102.3 594.4,101.1 594.6,101.0 594.9,101.5 595.4,103.8 595.9,107.3 596.4,111.3 596.9,114.8 597.0,115.4 597.4,117.9 597.9,121.3 598.4,124.3 598.9,125.7 599.0,125.8 599.4,125.6 599.9,124.9 600.4,124.1 600.5,124.0 600.9,123.4 601.4,122.7 601.9,122.0 602.4,121.5 602.8,121.4 602.9,121.4 603.4,121.6 603.9,121.9 604.4,122.4 604.9,122.9 605.4,123.3 605.6,123.4 605.9,123.1 606.4,122.0 606.9,120.3 607.4,118.3 607.5,117.9 607.9,116.0 608.4,113.0 608.9,109.6 609.4,106.3 609.9,102.8 610.4,99.1 610.9,95.9 611.3,94.0 611.4,93.6 611.9,91.8 612.4,90.3 612.9,89.4 613.2,89.2 613.4,89.2 613.9,89.5 614.4,90.0 614.9,90.6 615.4,91.0 615.5,91.0 615.9,90.8 616.4,90.3 616.9,89.8 617.4,89.4 617.9,89.2 618.4,90.0 618.9,91.9 619.4,94.3 619.9,96.6 620.3,97.8 620.4,98.0 620.9,99.0 621.4,99.9 621.9,100.6 622.4,100.9 622.5,100.9 622.9,100.6 623.4,99.5 623.9,97.8 624.4,96.0 624.9,94.3 625.0,94.0 625.4,92.9 625.9,91.5 626.4,90.1 626.9,88.6 627.4,87.0 627.9,85.3 628.4,83.5 628.9,81.7 629.4,79.8 629.9,77.8 630.2,76.7 630.4,75.9 630.9,73.7 631.4,71.4 631.9,69.3 632.4,67.6 632.6,67.2 632.9,66.5 633.4,65.6 633.9,65.2 634.4,66.0 634.9,68.1 635.4,70.5 635.5,70.9 635.9,73.0 636.4,76.0 636.9,79.5 637.4,83.5 637.8,87.0 637.9,88.0 638.4,93.2 638.9,98.8 639.4,103.7 639.5,104.5 639.9,107.6 640.4,111.4 640.9,114.8 641.4,117.5 641.9,119.3 642.0,119.5 642.4,120.1 642.9,120.9 643.4,121.5 643.9,122.1 644.4,122.5 644.9,122.8 645.4,123.0 645.7,123.0 645.9,122.9 646.4,122.7 646.9,122.4 647.4,122.0 647.9,121.6 648.4,121.2 648.9,120.8 649.4,120.5 649.9,120.2 650.4,119.9 650.9,119.8 651.4,119.7 651.6,119.7 651.9,119.7 652.4,119.9 652.9,120.3 653.4,120.8 653.9,121.3 654.4,121.8 654.9,122.3 655.4,122.7 655.5,122.7 655.9,123.0 656.4,123.4 656.9,123.8 657.4,124.1 657.9,124.4 658.4,124.7 658.9,124.9 659.4,124.9 659.9,124.7 660.4,124.2 660.9,123.4 661.4,122.3 661.9,121.1 662.4,119.7 662.9,118.3 663.4,117.0 663.9,115.7 664.0,115.4 664.4,114.4 664.9,112.9 665.4,111.2 665.9,109.5 666.4,107.7 666.9,106.1 667.4,104.5 667.9,103.1 668.4,102.0 668.9,101.3 669.4,100.7 669.9,100.2 670.4,99.7 670.9,99.3 671.4,98.9 671.9,98.7 672.4,98.5 672.8,98.5 672.9,98.5 673.4,98.6 673.9,98.9 674.4,99.4 674.9,99.9 675.4,100.6 675.9,101.3 676.4,102.2 676.9,103.0 677.4,103.9 677.8,104.6 677.9,104.8 678.4,105.9 678.9,107.2 679.4,108.7 679.9,110.4 680.4,112.1 680.9,113.7 681.4,115.2 681.9,116.4 682.0,116.6 682.4,117.5 682.9,118.7 683.4,119.9 683.9,121.0 684.4,122.0 684.9,122.8 685.4,123.4 685.9,123.7 686.1,123.7 686.4,123.7 686.9,123.3 687.4,122.7 687.9,121.9 688.4,120.9 688.9,119.9 689.4,118.8 689.9,117.8 690.4,116.8 690.5,116.6 690.9,115.9 691.4,115.0 691.9,114.0 692.4,113.0 692.9,112.0 693.4,110.9 693.9,109.9 694.4,109.0 694.9,108.1 695.4,107.2 695.6,106.9 695.9,106.4 696.4,105.7 696.9,104.9 697.4,104.1 697.9,103.4 698.4,102.7 698.9,102.0 699.4,101.4 699.9,100.8 700.4,100.2 700.9,99.7 701.4,99.3 701.6,99.1 701.9,98.8 702.4,98.4 702.9,98.0 703.4,97.6 703.9,97.2 704.4,96.8 704.9,96.5 705.4,96.2 705.9,95.9 706.4,95.7 706.9,95.5 707.4,95.5 707.7,95.4 707.9,95.4 708.4,95.6 708.9,95.8 709.4,96.2 709.9,96.7 710.4,97.2 710.9,97.8 711.4,98.4 711.9,99.1 712.4,99.8 712.7,100.2 712.9,100.5 713.4,101.4 713.9,102.4 714.4,103.7 714.9,105.0 715.4,106.4 715.9,107.8 716.4,109.2 716.9,110.6 717.4,111.8 717.9,112.9 718.2,113.5 718.4,113.8 718.9,114.8 719.4,115.7 719.9,116.7 720.4,117.6 720.9,118.5 721.4,119.2 721.9,119.9 722.4,120.5 722.9,121.0 723.4,121.2 723.8,121.3 723.9,121.3 724.4,121.1 724.9,120.8 725.4,120.3 725.9,119.7 726.4,118.9 726.9,118.2 727.4,117.4 727.9,116.6 728.4,115.8 728.9,115.1 729.3,114.6 729.4,114.5 729.9,113.9 730.4,113.2 730.9,112.6 731.4,112.0 731.9,111.4 732.4,110.8 732.9,110.2 733.4,109.7 733.9,109.2 734.4,108.8 734.9,108.5 735.4,108.2 735.9,107.9 736.4,107.6 736.9,107.4 737.4,107.1 737.9,106.9 738.4,106.7 738.9,106.5 739.4,106.3 739.9,106.1 740.4,106.0 740.9,106.0 741.4,105.9 741.6,105.9 741.9,105.9 742.4,106.0 742.9,106.2 743.4,106.4 743.9,106.6 744.4,106.9 744.9,107.2 745.4,107.6 745.9,107.9 746.4,108.3 746.9,108.7 747.4,109.1 747.9,109.5 748.2,109.7 748.4,109.8 748.9,110.2 749.4,110.6 749.9,111.0 750.4,111.4 750.9,111.9 751.4,112.4 751.9,112.8 752.4,113.3 752.9,113.8 753.4,114.3 753.9,114.9 754.4,115.4 754.9,116.0 755.4,116.6 755.9,117.1 756.0,117.3" stroke="#111" stroke-width="1.0"/>
<polyline points="521.4,124.0 522.5,124.3 523.0,123.4 523.6,124.4 524.5,124.2 524.7,124.4 525.7,121.6 525.8,122.2 526.9,122.5 527.5,123.7 528.0,122.7 529.0,122.7 529.1,122.1 530.2,122.3 530.5,121.6 531.3,123.4 532.3,123.4 532.4,123.9 533.5,120.9 534.2,121.2 534.6,120.1 535.7,121.7 536.1,120.3 536.8,121.6 537.9,120.4 538.0,121.5 539.0,120.4 539.8,120.9 540.1,119.6 541.2,120.3 541.8,118.8 542.3,120.2 543.4,119.9 543.7,120.9 544.5,120.0 545.6,121.5 546.1,120.3 546.7,121.8 547.8,122.3 548.4,124.0 548.9,122.5 550.0,121.6 550.3,120.3 551.1,120.3 552.2,117.4 552.2,118.4 553.3,113.5 553.6,113.6 554.4,113.2 555.0,114.2 555.5,111.1 556.5,108.0 556.6,107.3 557.6,115.4 557.7,115.2 558.4,121.6 558.8,118.0 559.3,114.2 559.9,109.3 560.3,108.0 561.0,110.7 561.2,113.0 562.1,117.1 562.1,117.4 563.2,110.3 563.6,108.4 564.3,104.2 564.5,103.7 565.4,109.7 565.5,110.6 566.5,114.1 566.5,114.7 566.9,115.4 567.0,115.6 567.5,116.2 568.0,116.5 568.5,116.9 569.0,117.2 569.2,117.4 569.5,117.8 570.0,118.4 570.5,119.1 571.0,119.9 571.5,120.6 572.0,121.2 572.5,121.6 572.5,121.7 573.0,122.1 573.5,122.5 574.0,122.9 574.5,123.3 575.0,123.6 575.5,123.8 576.0,123.9 576.3,124.0 576.5,124.0 577.0,123.9 577.5,123.8 578.0,123.6 578.5,123.4 579.0,123.2 579.5,123.0 580.0,122.7 580.5,122.4 581.0,122.2 581.1,122.1 581.5,121.8 582.0,121.3 582.5,120.7 583.0,120.1 583.5,119.6 584.0,119.1 584.5,118.9 584.8,118.8 585.0,118.8 585.5,118.9 586.0,119.0 586.5,119.2 587.0,119.4 587.5,119.6 588.0,119.7 588.5,119.8 588.6,119.8 589.0,119.8 589.5,119.7 590.0,119.6 590.5,119.5 591.0,119.4 591.5,119.2 592.0,119.0 592.4,118.8 592.5,118.8 593.0,118.4 593.5,117.9 594.0,117.3 594.5,116.7 595.0,116.3 595.5,116.0 595.5,116.0 596.0,115.9 596.5,115.8 597.0,115.7 597.5,115.7 598.0,115.6 598.5,115.5 599.0,115.4 599.0,115.4 599.5,115.3 600.0,115.1 600.5,114.9 601.0,114.7 601.5,114.5 602.0,114.4 602.5,114.3 602.7,114.3 603.0,114.4 603.5,114.6 604.0,115.0 604.5,115.5 605.0,116.1 605.5,116.5 606.0,116.8 606.0,116.8 606.5,116.3 607.0,115.3 607.5,113.8 608.0,112.1 608.5,110.6 608.5,110.4 609.0,108.4 609.5,105.9 610.0,103.2 610.5,100.3 611.0,97.8 611.0,97.5 611.5,94.5 612.0,91.2 612.5,88.0 613.0,85.1 613.5,82.9 613.5,82.7 614.0,80.4 614.5,78.2 615.0,76.3 615.5,75.0 616.0,74.6 616.0,74.6 616.5,75.2 617.0,76.7 617.5,78.7 618.0,81.0 618.1,81.2 618.5,83.8 619.0,87.6 619.5,91.8 620.0,95.7 620.1,96.0 620.5,99.3 621.0,103.3 621.5,107.0 622.0,109.8 622.5,111.0 622.6,111.0 623.0,110.6 623.5,109.2 624.0,107.2 624.5,105.0 625.0,102.8 625.1,102.6 625.5,100.7 626.0,98.4 626.5,95.9 627.0,93.4 627.5,91.2 627.5,90.9 628.0,88.4 628.5,85.8 629.0,83.3 629.5,81.1 630.0,79.6 630.0,79.5 630.5,78.0 631.0,76.7 631.5,75.6 632.0,74.8 632.5,74.6 632.5,74.6 633.0,75.4 633.5,77.3 634.0,79.9 634.5,82.6 634.6,82.9 635.0,86.0 635.5,90.5 636.0,95.1 636.5,99.0 636.6,99.3 637.0,102.0 637.5,104.8 638.0,107.3 638.5,109.4 639.0,110.9 639.1,111.0 639.5,112.1 640.0,113.2 640.5,114.1 641.0,114.8 641.5,115.1 641.6,115.1 642.0,115.0 642.5,114.8 643.0,114.4 643.5,114.0 644.0,113.6 644.5,113.2 645.0,112.9 645.5,112.7 645.7,112.6 646.0,112.6 646.5,112.5 647.0,112.4 647.5,112.3 648.0,112.2 648.5,112.2 649.0,112.2 649.5,112.1 649.8,112.1 650.0,112.2 650.5,112.4 651.0,112.9 651.5,113.5 652.0,114.1 652.5,114.8 653.0,115.5 653.5,116.0 653.5,116.1 654.0,116.7 654.5,117.3 655.0,117.9 655.5,118.5 656.0,119.1 656.5,119.6 657.0,120.0 657.4,120.3 657.5,120.4 658.0,120.7 658.5,121.1 659.0,121.3 659.5,121.5 660.0,121.6 660.2,121.6 660.5,121.6 661.0,121.4 661.5,121.1 662.0,120.6 662.5,120.1 663.0,119.5 663.5,118.9 664.0,118.3 664.5,117.7 665.0,117.3 665.0,117.2 665.5,116.7 666.0,116.2 666.5,115.6 667.0,115.1 667.5,114.5 668.0,114.0 668.5,113.6 669.0,113.2 669.5,112.8 669.7,112.7 670.0,112.6 670.5,112.3 671.0,112.1 671.5,111.9 672.0,111.7 672.5,111.5 673.0,111.4 673.5,111.3 673.9,111.3 674.0,111.3 674.5,111.4 675.0,111.5 675.5,111.7 676.0,111.9 676.5,112.2 677.0,112.5 677.5,112.8 678.0,113.0 678.0,113.0 678.5,113.3 679.0,113.6 679.5,113.8 680.0,114.2 680.5,114.5 681.0,114.8 681.5,115.1 682.0,115.4 682.0,115.5 682.5,115.8 683.0,116.2 683.5,116.7 684.0,117.1 684.5,117.5 685.0,117.9 685.5,118.2 686.0,118.5 686.0,118.5 686.5,118.8 687.0,119.0 687.5,119.3 688.0,119.5 688.5,119.7 689.0,119.8 689.5,119.8 689.5,119.8 690.0,119.8 690.5,119.7 691.0,119.6 691.5,119.5 692.0,119.4 692.5,119.2 693.0,119.1 693.5,118.9 694.0,118.7 694.5,118.6 695.0,118.4 695.2,118.4 695.5,118.2 696.0,118.0 696.5,117.8 697.0,117.6 697.5,117.4 698.0,117.1 698.5,116.9 699.0,116.6 699.5,116.4 700.0,116.3 700.5,116.1 700.9,116.0 701.0,116.0 701.5,115.9 702.0,115.8 702.5,115.8 703.0,115.7 703.5,115.6 704.0,115.6 704.5,115.5 705.0,115.5 705.5,115.4 705.6,115.4 706.0,115.4 706.5,115.3 707.0,115.3 707.5,115.2 708.0,115.2 708.5,115.2 709.0,115.1 709.5,115.1 710.0,115.0 710.5,115.0 711.0,115.0 711.5,115.0 712.0,114.9 712.2,114.9 712.5,114.9 713.0,114.9 713.5,114.9 714.0,114.9 714.5,114.9 715.0,114.9 715.5,114.8 716.0,114.8 716.5,114.8 717.0,114.8 717.5,114.8 717.9,114.8 718.0,114.8 718.5,114.8 719.0,114.8 719.5,114.9 720.0,114.9 720.5,115.0 721.0,115.0 721.5,115.1 722.0,115.1 722.5,115.2 723.0,115.2 723.5,115.3 724.0,115.4 724.5,115.4 724.5,115.4 725.0,115.5 725.5,115.6 726.0,115.7 726.5,115.8 727.0,115.9 727.5,116.0 728.0,116.1 728.5,116.2 729.0,116.3 729.5,116.4 730.0,116.5 730.2,116.5 730.5,116.6 731.0,116.7 731.5,116.8 732.0,116.9 732.5,117.1 733.0,117.2 733.5,117.3 734.0,117.4 734.5,117.5 735.0,117.7 735.5,117.8 735.9,117.9 736.0,117.9 736.5,118.0 737.0,118.2 737.5,118.3 738.0,118.4 738.5,118.5 739.0,118.7 739.5,118.8 740.0,118.9 740.5,119.1 741.0,119.2 741.5,119.3 741.5,119.3 742.0,119.5 742.5,119.6 743.0,119.8 743.5,120.0 744.0,120.1 744.5,120.3 745.0,120.5 745.5,120.6 746.0,120.8 746.5,121.0 747.0,121.1 747.2,121.2 747.5,121.3 748.0,121.4 748.5,121.5 749.0,121.7 749.5,121.8 750.0,121.9 750.5,122.0 751.0,122.2 751.5,122.3 752.0,122.4 752.5,122.5 752.9,122.6 753.0,122.7 753.5,122.8 754.0,122.9 754.5,123.0 755.0,123.1 755.5,123.2 756.0,123.4" stroke="#f00" stroke-width="1.6" stroke-dasharray="3,2"/>
</g>
<path d="M521.55,126.40v-5M521.55,4.50v5M547.50,126.40v-5M547.50,4.50v5M573.45,126.40v-5M573.45,4.50v5M599.40,126.40v-5M599.40,4.50v5M625.35,126.40v-5M625.35,4.50v5M651.30,126.40v-5M651.30,4.50v5M677.25,126.40v-5M677.25,4.50v5M703.20,126.40v-5M703.20,4.50v5M729.15,126.40v-5M729.15,4.50v5M755.10,126.40v-5M755.10,4.50v5M521.55,126.40h5M755.10,126.40h-5M521.55,102.02h5M755.10,102.02h-5M521.55,77.64h5M755.10,77.64h-5M521.55,53.26h5M755.10,53.26h-5M521.55,28.88h5M755.10,28.88h-5M521.55,4.50h5M755.10,4.50h-5" stroke="#333" stroke-width="1"/>
<rect x="605.50" y="8.60" width="145.60" height="26.00" fill="#fff" stroke="#888" stroke-width="1"/>
<path d="M611.00,14.50h11.8" stroke="#444" stroke-width="1"/>
<path d="M611.00,26.90h12" stroke="#f00" stroke-width="1.6" stroke-dasharray="3,2"/>
<text x="631.80" y="17.70" font-size="8.45" textLength="67.66" lengthAdjust="spacingAndGlyphs">Observed I-band</text>
<text x="631.80" y="29.60" font-size="8.45" textLength="114.77" lengthAdjust="spacingAndGlyphs">Average Preserved Cadence</text>
<clipPath id="c10"><rect x="34.55" y="136.50" width="233.55" height="124.30"/></clipPath>
<rect x="34.55" y="138.50" width="233.55" height="121.90" fill="none" stroke="#9a9a9a" stroke-width="1"/>
<g clip-path="url(#c10)" fill="none" stroke-linejoin="round">
<polyline points="34.0,259.2 34.5,259.1 35.0,256.5 35.5,256.0 36.0,256.8 36.5,259.4 36.8,259.8 37.0,260.0 37.5,257.5 37.6,258.0 38.0,254.5 38.4,253.1 38.5,252.9 39.0,258.7 39.2,258.9 39.5,259.5 40.0,257.4 40.1,258.0 40.5,255.9 41.0,255.3 41.3,253.5 41.5,255.8 42.0,255.3 42.3,257.2 42.5,256.4 43.0,259.5 43.5,259.2 44.0,259.0 44.5,258.0 45.0,258.2 45.5,255.3 45.6,255.6 46.0,252.5 46.5,253.6 46.6,251.9 47.0,249.2 47.5,241.4 47.6,242.4 48.0,247.4 48.4,254.3 48.5,253.5 49.0,259.5 49.1,259.2 49.5,260.3 50.0,259.8 50.5,258.6 50.6,257.4 51.0,255.6 51.5,250.4 51.8,249.8 52.0,250.7 52.5,257.3 52.7,258.0 53.0,259.5 53.5,260.4 54.0,258.1 54.5,253.2 54.9,251.9 55.0,249.6 55.5,249.0 55.9,244.6 56.0,246.0 56.5,243.9 56.6,245.8 57.0,239.1 57.5,233.7 57.8,228.3 58.0,233.3 58.5,240.0 58.7,245.8 59.0,244.3 59.5,248.1 59.6,247.4 60.0,252.0 60.5,252.6 60.6,254.3 61.0,254.5 61.5,258.4 61.6,258.0 62.0,257.6 62.5,254.3 63.0,251.6 63.5,245.9 64.0,250.4 64.4,251.9 64.5,253.9 65.0,251.5 65.3,253.1 65.5,248.5 66.0,244.1 66.3,238.5 66.5,242.8 67.0,246.0 67.5,255.5 67.7,256.7 68.0,258.5 68.5,258.9 68.7,260.4 69.0,260.1 69.5,260.4 69.6,260.4 70.0,259.4 70.5,255.7 71.0,254.9 71.5,251.9 72.0,249.4 72.5,244.6 72.9,242.6 73.0,242.6 73.5,249.0 73.9,251.9 74.0,252.4 74.5,253.1 74.8,254.3 75.0,252.7 75.5,248.7 76.0,243.7 76.2,242.1 76.5,240.2 77.0,235.9 77.5,233.7 77.6,233.6 78.0,235.1 78.5,239.4 79.0,243.3 79.5,246.1 80.0,248.6 80.5,249.7 81.0,248.3 81.5,245.1 82.0,241.7 82.4,239.7 82.5,239.3 83.0,237.6 83.5,236.3 83.8,236.0 84.0,236.4 84.5,239.5 85.0,244.1 85.2,245.8 85.5,248.7 86.0,254.5 86.5,258.2 86.6,258.3 87.0,257.5 87.5,255.7 88.0,253.5 88.5,251.2 89.0,249.2 89.5,247.6 90.0,246.6 90.4,246.4 90.5,246.4 91.0,246.8 91.5,247.6 92.0,249.0 92.5,250.7 93.0,252.6 93.5,254.6 94.0,256.6 94.5,258.3 95.0,259.6 95.2,259.8 95.5,259.5 96.0,258.4 96.5,257.0 97.0,255.4 97.5,253.7 98.0,252.0 98.5,250.4 99.0,249.0 99.5,247.8 100.0,247.0 100.5,246.5 100.9,246.4 101.0,246.4 101.5,247.0 102.0,248.3 102.5,250.2 103.0,252.5 103.5,255.0 104.0,257.2 104.5,258.9 104.7,259.2 105.0,258.7 105.5,257.2 106.0,255.3 106.5,253.1 107.0,250.8 107.5,248.8 108.0,247.1 108.5,245.8 109.0,245.0 109.4,244.8 109.5,244.8 110.0,245.5 110.5,247.1 111.0,249.5 111.5,252.3 112.0,255.3 112.5,258.0 113.0,260.0 113.2,260.4 113.5,260.3 114.0,259.8 114.5,259.1 115.0,258.4 115.5,258.0 116.0,257.7 116.5,257.5 117.0,257.4 117.5,257.4 118.0,257.4 118.5,257.5 119.0,257.6 119.5,257.8 120.0,257.9 120.3,258.0 120.5,257.9 121.0,257.5 121.5,256.7 122.0,254.6 122.5,250.8 123.0,246.6 123.1,245.8 123.5,242.2 124.0,237.4 124.5,233.6 125.0,231.1 125.5,229.1 126.0,227.4 126.4,226.3 126.5,226.0 127.0,224.9 127.5,224.1 128.0,223.2 128.3,222.6 128.5,222.2 129.0,220.8 129.5,219.4 130.0,218.7 130.1,218.7 130.5,219.2 131.0,220.7 131.5,222.7 131.8,223.8 132.0,224.7 132.5,227.6 133.0,230.9 133.5,234.1 134.0,236.3 134.4,237.0 134.5,236.9 135.0,234.5 135.5,229.9 136.0,224.7 136.3,222.0 136.5,220.3 137.0,215.7 137.5,211.0 138.0,207.1 138.2,205.9 138.5,204.4 139.0,202.2 139.5,200.3 140.0,198.7 140.1,198.4 140.5,197.2 141.0,195.7 141.5,194.4 142.0,193.3 142.5,192.4 142.9,191.8 143.0,191.6 143.5,191.0 144.0,190.5 144.5,190.0 145.0,189.7 145.3,189.7 145.5,189.8 146.0,190.3 146.5,191.3 146.7,191.8 147.0,192.9 147.5,196.3 148.0,200.4 148.1,201.2 148.5,204.4 149.0,209.0 149.5,213.5 150.0,217.5 150.5,222.0 151.0,228.9 151.4,233.6 151.5,234.3 152.0,237.8 152.5,240.6 153.0,242.3 153.3,242.6 153.5,242.6 154.0,242.5 154.5,242.3 155.0,242.1 155.5,241.9 156.0,241.7 156.5,241.4 157.0,241.2 157.5,241.1 157.6,241.1 158.0,241.2 158.5,241.5 159.0,241.9 159.5,242.5 160.0,243.2 160.5,243.8 161.0,244.5 161.5,245.2 161.8,245.5 162.0,245.7 162.5,246.3 163.0,246.8 163.5,247.4 163.8,247.8 164.0,248.2 164.5,249.3 165.0,250.6 165.5,252.0 166.0,253.3 166.5,254.6 167.0,255.5 167.5,256.3 168.0,257.1 168.5,257.8 169.0,258.6 169.5,259.2 170.0,259.7 170.5,260.1 171.0,260.3 171.4,260.4 171.5,260.4 172.0,259.9 172.5,258.9 173.0,257.6 173.5,256.0 174.0,254.5 174.5,253.0 175.0,251.9 175.5,250.9 176.0,250.0 176.5,249.1 177.0,248.2 177.5,247.4 178.0,246.7 178.5,246.2 178.9,245.8 179.0,245.7 179.5,245.3 180.0,244.9 180.5,244.5 181.0,244.1 181.5,243.9 182.0,243.7 182.5,243.6 182.7,243.6 183.0,243.6 183.5,243.7 184.0,244.0 184.5,244.3 185.0,244.7 185.5,245.1 186.0,245.6 186.5,246.1 187.0,246.6 187.4,247.0 187.5,247.1 188.0,247.7 188.5,248.4 189.0,249.1 189.5,250.0 190.0,250.8 190.5,251.7 191.0,252.5 191.5,253.3 192.0,254.0 192.2,254.3 192.5,254.7 193.0,255.4 193.5,256.1 194.0,256.8 194.5,257.4 195.0,257.9 195.5,258.2 196.0,258.3 196.5,258.2 197.0,257.8 197.5,257.1 198.0,256.3 198.5,255.4 199.0,254.5 199.5,253.5 199.7,253.1 200.0,252.5 200.5,251.2 201.0,249.8 201.5,248.2 202.0,246.6 202.5,245.0 203.0,243.5 203.5,242.1 204.0,240.8 204.5,239.5 205.0,238.2 205.5,236.9 206.0,235.8 206.5,234.8 207.0,234.0 207.3,233.6 207.5,233.4 208.0,232.9 208.5,232.4 209.0,232.0 209.5,231.6 210.0,231.2 210.5,230.9 211.0,230.7 211.5,230.5 212.0,230.3 212.5,230.2 213.0,230.0 213.5,229.9 214.0,229.8 214.5,229.8 215.0,229.7 215.5,229.6 216.0,229.6 216.5,229.5 217.0,229.4 217.5,229.4 218.0,229.3 218.5,229.2 219.0,229.2 219.5,229.1 220.0,229.1 220.5,229.1 221.0,229.1 221.5,229.1 222.0,229.3 222.5,229.6 223.0,230.0 223.5,230.4 224.0,230.9 224.3,231.1 224.5,231.3 225.0,231.9 225.5,232.6 226.0,233.3 226.5,234.1 227.0,235.1 227.5,236.0 228.0,237.0 228.1,237.2 228.5,238.2 229.0,239.5 229.5,241.0 230.0,242.5 230.5,244.0 230.9,245.0 231.0,245.3 231.5,246.5 232.0,247.8 232.5,249.0 233.0,250.2 233.5,251.2 234.0,252.1 234.5,252.9 234.7,253.1 235.0,253.4 235.5,253.9 236.0,254.4 236.5,254.8 237.0,255.1 237.5,255.3 238.0,255.4 238.5,255.3 239.0,255.1 239.5,254.7 240.0,254.3 240.5,253.8 241.0,253.2 241.5,252.7 242.0,252.2 242.3,251.9 242.5,251.7 243.0,251.1 243.5,250.6 244.0,250.0 244.5,249.3 245.0,248.7 245.5,248.1 246.0,247.4 246.5,246.8 247.0,246.2 247.5,245.7 248.0,245.2 248.5,244.7 249.0,244.2 249.5,243.8 250.0,243.3 250.5,242.9 251.0,242.6 251.5,242.2 251.7,242.1 252.0,241.9 252.5,241.7 253.0,241.4 253.5,241.1 254.0,240.9 254.5,240.7 255.0,240.6 255.5,240.5 256.0,240.6 256.5,240.6 257.0,240.7 257.5,240.9 258.0,241.0 258.5,241.2 259.0,241.4 259.5,241.6 260.0,241.9 260.5,242.1 261.0,242.3 261.2,242.4 261.5,242.5 262.0,242.7 262.5,242.9 263.0,243.2 263.5,243.5 264.0,243.8 264.5,244.0 265.0,244.3 265.5,244.6 266.0,244.8 266.5,245.1 267.0,245.3 267.5,245.4 267.8,245.5 268.0,245.6 268.5,245.7 269.0,245.8" stroke="#111" stroke-width="1.0"/>
<polyline points="34.0,260.4 34.3,260.4 34.6,260.4 34.9,260.4 35.2,260.4 35.5,260.4 35.8,260.4 36.1,260.4 36.4,260.4 36.7,260.4 37.0,260.4 37.3,260.4 37.6,260.4 37.9,260.4 38.2,260.4 38.5,260.4 38.8,260.4 39.1,260.4 39.4,260.4 39.7,260.4 40.0,260.4 40.3,260.4 40.6,260.4 40.9,260.4 41.2,260.4 41.5,260.4 41.8,260.4 42.1,260.4 42.4,260.4 42.7,260.4 43.0,260.4 43.3,260.4 43.6,260.4 43.9,260.4 44.2,260.4 44.5,260.4 44.8,260.4 45.1,260.4 45.4,260.4 45.7,260.4 46.0,260.4 46.3,260.4 46.6,260.4 46.9,260.4 47.2,260.4 47.5,260.4 47.8,260.4 48.1,260.4 48.4,260.4 48.7,260.4 49.0,260.4 49.3,260.4 49.6,260.4 49.9,260.4 50.2,260.4 50.5,260.4 50.8,260.4 51.1,260.4 51.4,260.4 51.7,260.4 52.0,260.4 52.3,260.4 52.6,260.4 52.9,260.4 53.2,260.4 53.5,260.4 53.8,260.4 54.1,260.4 54.4,260.4 54.7,260.4 55.0,260.4 55.3,260.4 55.6,260.4 55.9,260.4 56.2,260.4 56.5,260.4 56.8,260.4 57.1,260.4 57.4,260.4 57.7,260.4 58.0,260.4 58.3,260.4 58.6,260.4 58.9,260.4 59.2,260.4 59.5,260.4 59.8,260.4 60.1,260.4 60.4,260.4 60.7,260.4 61.0,260.4 61.3,260.4 61.6,260.4 61.9,260.4 62.2,260.4 62.5,260.4 62.8,260.4 63.1,260.4 63.4,260.4 63.7,260.4 64.0,260.4 64.3,260.4 64.6,260.4 64.9,260.4 65.2,260.4 65.5,260.4 65.8,260.4 66.0,260.4 66.1,260.4 66.4,260.3 66.7,260.0 67.0,259.7 67.3,259.4 67.5,259.2 67.6,259.1 67.9,258.5 68.2,257.9 68.5,257.3 68.8,256.8 69.0,256.7 69.1,256.8 69.4,257.4 69.7,258.4 70.0,259.5 70.3,260.2 70.5,260.4 70.6,260.4 70.9,260.4 71.2,260.4 71.5,260.4 71.8,260.4 72.1,260.4 72.4,260.4 72.7,260.4 73.0,260.4 73.3,260.4 73.5,260.4 73.6,260.4 73.9,259.7 74.2,258.5 74.5,256.9 74.8,255.2 75.1,253.6 75.2,253.1 75.4,252.0 75.7,250.2 76.0,248.3 76.3,246.7 76.6,245.8 76.7,245.8 76.9,246.0 77.2,247.0 77.5,248.5 77.8,250.3 78.1,252.1 78.3,253.1 78.4,253.6 78.7,255.1 79.0,256.9 79.3,258.5 79.6,259.7 79.9,260.4 80.0,260.4 80.2,260.4 80.5,260.4 80.8,260.4 81.1,260.4 81.4,260.4 81.7,260.4 82.0,260.4 82.3,260.4 82.6,260.4 82.9,260.4 83.2,260.4 83.5,260.4 83.8,260.4 84.1,260.4 84.4,260.4 84.7,260.4 85.0,260.4 85.3,260.4 85.6,260.4 85.9,260.4 86.2,260.4 86.5,260.4 86.8,260.4 87.1,260.4 87.4,260.4 87.7,260.4 88.0,260.4 88.3,260.4 88.6,260.4 88.9,260.4 89.2,260.4 89.5,260.4 89.8,260.4 90.1,260.4 90.4,260.4 90.7,260.4 91.0,260.4 91.3,260.4 91.6,260.4 91.9,260.4 92.2,260.4 92.5,260.4 92.8,260.4 93.1,260.4 93.4,260.4 93.7,260.4 94.0,260.4 94.3,260.4 94.6,260.4 94.9,260.4 95.2,260.4 95.5,260.4 95.8,260.4 96.1,260.4 96.4,260.4 96.7,260.4 97.0,260.4 97.3,260.4 97.6,260.4 97.9,260.4 98.2,260.4 98.5,260.4 98.8,260.4 99.1,260.4 99.4,260.4 99.7,260.4 100.0,260.4 100.3,260.4 100.6,260.4 100.9,260.4 101.2,260.4 101.5,260.4 101.8,260.4 102.1,260.4 102.4,260.4 102.7,260.4 103.0,260.4 103.3,260.4 103.6,260.4 103.9,260.4 104.2,260.4 104.5,260.4 104.8,260.4 105.1,260.4 105.4,260.4 105.7,260.4 106.0,260.4 106.3,260.4 106.6,260.4 106.9,260.4 107.2,260.4 107.5,260.4 107.8,260.4 108.1,260.4 108.4,260.4 108.7,260.4 109.0,260.4 109.3,260.4 109.6,260.4 109.9,260.4 110.2,260.4 110.5,260.4 110.8,260.4 111.1,260.4 111.4,260.4 111.7,260.4 112.0,260.4 112.3,260.4 112.6,260.4 112.9,260.4 113.0,260.4 113.2,260.4 113.5,260.3 113.8,260.2 114.1,260.1 114.4,259.9 114.7,259.7 115.0,259.6 115.3,259.4 115.6,259.3 115.9,259.2 116.0,259.2 116.2,259.1 116.5,259.1 116.8,259.0 117.1,259.0 117.4,259.0 117.7,258.9 118.0,258.9 118.3,259.0 118.6,259.0 118.9,259.1 119.2,259.2 119.5,259.3 119.8,259.4 120.0,259.4 120.1,259.4 120.4,259.3 120.7,259.0 121.0,258.6 121.3,258.1 121.6,257.6 121.9,257.0 122.2,256.3 122.5,255.7 122.6,255.5 122.8,255.1 123.1,254.4 123.4,253.6 123.7,252.8 124.0,251.9 124.3,250.8 124.6,249.7 124.9,248.4 125.2,247.1 125.5,245.7 125.8,244.4 125.9,243.9 126.1,243.0 126.4,241.6 126.7,240.2 127.0,238.8 127.3,237.6 127.4,237.2 127.6,236.5 127.9,235.4 128.2,234.4 128.5,233.7 128.7,233.6 128.8,233.6 129.1,233.7 129.4,234.0 129.7,234.5 130.0,235.0 130.3,235.6 130.6,236.3 130.9,237.0 131.0,237.2 131.2,237.8 131.5,238.9 131.8,240.3 132.1,241.8 132.4,243.4 132.7,245.0 133.0,246.4 133.3,247.6 133.5,248.2 133.6,248.5 133.9,249.3 134.2,250.1 134.5,250.8 134.8,251.5 135.1,252.2 135.4,252.7 135.7,253.1 136.0,253.4 136.3,253.5 136.3,253.5 136.6,253.0 136.9,251.8 137.2,249.9 137.5,247.7 137.8,245.3 138.1,242.9 138.2,242.1 138.4,240.5 138.7,237.6 139.0,234.4 139.3,231.1 139.6,227.8 139.9,224.8 140.0,223.8 140.2,222.0 140.5,219.4 140.8,216.9 141.1,214.6 141.4,212.3 141.5,211.6 141.7,210.2 142.0,208.1 142.3,206.2 142.6,204.5 142.9,203.1 142.9,203.1 143.2,202.0 143.5,200.9 143.8,199.9 144.1,198.9 144.4,198.2 144.7,197.5 145.0,197.2 145.3,197.0 145.3,197.0 145.6,197.2 145.9,197.6 146.2,198.4 146.5,199.3 146.8,200.3 147.1,201.5 147.2,201.9 147.4,202.9 147.7,205.1 148.0,207.7 148.3,210.4 148.6,212.9 148.9,215.0 149.2,217.0 149.5,218.9 149.8,220.8 150.0,222.0 150.1,222.6 150.4,224.3 150.7,225.8 151.0,227.4 151.3,228.9 151.6,230.6 151.9,232.4 151.9,232.4 152.2,234.4 152.5,236.7 152.8,239.0 153.1,241.2 153.3,242.6 153.4,243.3 153.7,245.2 154.0,247.2 154.3,249.1 154.6,250.8 154.9,252.3 155.2,253.5 155.5,254.4 155.8,255.4 156.1,256.3 156.4,257.1 156.7,257.8 157.0,258.5 157.3,259.0 157.6,259.5 157.9,259.7 158.0,259.8 158.2,259.9 158.5,260.0 158.8,260.2 159.1,260.3 159.4,260.3 159.7,260.4 160.0,260.4 160.3,260.3 160.6,260.1 160.9,259.8 161.2,259.4 161.5,259.2 161.8,259.0 162.1,258.7 162.4,258.5 162.7,258.2 163.0,258.0 163.3,257.8 163.6,257.6 163.9,257.4 164.2,257.4 164.4,257.4 164.5,257.4 164.8,257.5 165.1,257.9 165.4,258.3 165.7,258.8 166.0,259.3 166.3,259.6 166.5,259.8 166.6,259.8 166.9,260.0 167.2,260.2 167.5,260.3 167.8,260.4 168.0,260.4 168.1,260.4 168.4,260.4 168.7,260.4 169.0,260.4 169.3,260.4 169.6,260.4 169.9,260.4 170.2,260.4 170.5,260.4 170.8,260.4 171.1,260.4 171.4,260.4 171.7,260.4 172.0,260.4 172.3,260.4 172.6,260.4 172.9,260.4 173.2,260.4 173.5,260.4 173.8,260.4 174.1,260.4 174.4,260.4 174.7,260.4 175.0,260.4 175.3,260.4 175.6,260.4 175.9,260.4 176.2,260.4 176.5,260.4 176.8,260.4 177.1,260.4 177.4,260.4 177.7,260.4 178.0,260.4 178.3,260.4 178.6,260.4 178.9,260.4 179.2,260.4 179.5,260.4 179.8,260.4 180.1,260.4 180.4,260.4 180.7,260.4 181.0,260.4 181.3,260.4 181.6,260.4 181.9,260.4 182.2,260.4 182.5,260.4 182.8,260.4 183.1,260.4 183.4,260.4 183.7,260.4 184.0,260.4 184.3,260.4 184.6,260.4 184.9,260.4 185.2,260.4 185.5,260.4 185.8,260.4 186.1,260.4 186.4,260.4 186.7,260.4 187.0,260.4 187.3,260.4 187.6,260.4 187.9,260.4 188.2,260.4 188.5,260.4 188.8,260.4 189.1,260.4 189.4,260.4 189.7,260.4 190.0,260.4 190.3,260.4 190.6,260.4 190.9,260.4 191.2,260.4 191.5,260.4 191.8,260.4 192.1,260.4 192.4,260.4 192.7,260.4 193.0,260.4 193.3,260.4 193.6,260.4 193.9,260.4 194.2,260.4 194.5,260.4 194.8,260.4 195.1,260.4 195.4,260.4 195.7,260.4 196.0,260.4 196.3,260.4 196.6,260.4 196.9,260.4 197.2,260.4 197.5,260.4 197.8,260.4 198.1,260.4 198.4,260.4 198.7,260.4 199.0,260.4 199.3,260.4 199.6,260.4 199.9,260.4 200.2,260.4 200.5,260.4 200.8,260.4 201.1,260.4 201.4,260.4 201.7,260.4 202.0,260.4 202.3,260.4 202.6,260.4 202.9,260.4 203.2,260.4 203.5,260.4 203.8,260.4 204.1,260.4 204.4,260.4 204.7,260.4 205.0,260.4 205.3,260.4 205.6,260.4 205.9,260.4 206.2,260.4 206.5,260.4 206.8,260.4 207.1,260.4 207.4,260.4 207.7,260.4 208.0,260.4 208.3,260.4 208.6,260.4 208.9,260.4 209.2,260.4 209.5,260.4 209.8,260.4 210.1,260.4 210.4,260.4 210.7,260.4 211.0,260.4 211.3,260.4 211.6,260.4 211.9,260.4 212.2,260.4 212.5,260.4 212.8,260.4 213.1,260.4 213.4,260.4 213.7,260.4 214.0,260.4 214.3,260.4 214.6,260.4 214.9,260.4 215.2,260.4 215.5,260.4 215.8,260.4 216.1,260.4 216.4,260.4 216.7,260.4 217.0,260.4 217.3,260.4 217.6,260.4 217.9,260.4 218.2,260.4 218.5,260.4 218.8,260.4 219.1,260.4 219.4,260.4 219.7,260.4 220.0,260.4 220.3,260.4 220.6,260.4 220.9,260.4 221.2,260.4 221.5,260.4 221.8,260.4 222.1,260.4 222.4,260.4 222.7,260.4 223.0,260.4 223.3,260.4 223.6,260.4 223.9,260.4 224.2,260.4 224.5,260.4 224.8,260.4 225.1,260.4 225.4,260.4 225.7,260.4 226.0,260.4 226.3,260.4 226.6,260.4 226.9,260.4 227.2,260.4 227.5,260.4 227.8,260.4 228.1,260.4 228.4,260.4 228.7,260.4 229.0,260.4 229.3,260.4 229.6,260.4 229.9,260.4 230.2,260.4 230.5,260.4 230.8,260.4 231.1,260.4 231.4,260.4 231.7,260.4 232.0,260.4 232.3,260.4 232.6,260.4 232.9,260.4 233.2,260.4 233.5,260.4 233.8,260.4 234.1,260.4 234.4,260.4 234.7,260.4 235.0,260.4 235.3,260.4 235.6,260.4 235.9,260.4 236.2,260.4 236.5,260.4 236.8,260.4 237.1,260.4 237.4,260.4 237.7,260.4 238.0,260.4 238.3,260.4 238.6,260.4 238.9,260.4 239.2,260.4 239.5,260.4 239.8,260.4 240.1,260.4 240.4,260.4 240.7,260.4 241.0,260.4 241.3,260.4 241.6,260.4 241.9,260.4 242.2,260.4 242.5,260.4 242.8,260.4 243.1,260.4 243.4,260.4 243.7,260.4 244.0,260.4 244.3,260.4 244.6,260.4 244.9,260.4 245.2,260.4 245.5,260.4 245.8,260.4 246.1,260.4 246.4,260.4 246.7,260.4 247.0,260.4 247.3,260.4 247.6,260.4 247.9,260.4 248.2,260.4 248.5,260.4 248.8,260.4 249.1,260.4 249.4,260.4 249.7,260.4 250.0,260.4 250.3,260.4 250.6,260.4 250.9,260.4 251.2,260.4 251.5,260.4 251.8,260.4 252.1,260.4 252.4,260.4 252.7,260.4 253.0,260.4 253.3,260.4 253.6,260.4 253.9,260.4 254.2,260.4 254.5,260.4 254.8,260.4 255.1,260.4 255.4,260.4 255.7,260.4 256.0,260.4 256.3,260.4 256.6,260.4 256.9,260.4 257.2,260.4 257.5,260.4 257.8,260.4 258.1,260.4 258.4,260.4 258.7,260.4 259.0,260.4 259.3,260.4 259.6,260.4 259.9,260.4 260.2,260.4 260.5,260.4 260.8,260.4 261.1,260.4 261.4,260.4 261.7,260.4 262.0,260.4 262.3,260.4 262.6,260.4 262.9,260.4 263.2,260.4 263.5,260.4 263.8,260.4 264.1,260.4 264.4,260.4 264.7,260.4 265.0,260.4 265.3,260.4 265.6,260.4 265.9,260.4 266.2,260.4 266.5,260.4 266.8,260.4 267.1,260.4 267.4,260.4 267.7,260.4 268.0,260.4 268.3,260.4 268.6,260.4 268.9,260.4 269.0,260.4" stroke="#f00" stroke-width="1.6" stroke-dasharray="3,2"/>
</g>
<path d="M34.55,260.40v-5M34.55,138.50v5M60.50,260.40v-5M60.50,138.50v5M86.45,260.40v-5M86.45,138.50v5M112.40,260.40v-5M112.40,138.50v5M138.35,260.40v-5M138.35,138.50v5M164.30,260.40v-5M164.30,138.50v5M190.25,260.40v-5M190.25,138.50v5M216.20,260.40v-5M216.20,138.50v5M242.15,260.40v-5M242.15,138.50v5M268.10,260.40v-5M268.10,138.50v5M34.55,260.40h5M268.10,260.40h-5M34.55,236.02h5M268.10,236.02h-5M34.55,211.64h5M268.10,211.64h-5M34.55,187.26h5M268.10,187.26h-5M34.55,162.88h5M268.10,162.88h-5M34.55,138.50h5M268.10,138.50h-5" stroke="#333" stroke-width="1"/>
<rect x="122.50" y="142.60" width="141.60" height="26.00" fill="#fff" stroke="#888" stroke-width="1"/>
<path d="M128.00,148.50h11.8" stroke="#444" stroke-width="1"/>
<path d="M128.00,160.90h12" stroke="#f00" stroke-width="1.6" stroke-dasharray="3,2"/>
<text x="148.80" y="151.70" font-size="8.45" textLength="70.84" lengthAdjust="spacingAndGlyphs">Observed B-band</text>
<text x="148.80" y="163.60" font-size="8.45" textLength="111.05" lengthAdjust="spacingAndGlyphs">Average Nightly Simulation</text>
<text x="17.09" y="262.70" font-size="9.10" textLength="13.91" lengthAdjust="spacingAndGlyphs">0.0</text>
<text x="17.09" y="238.32" font-size="9.10" textLength="13.91" lengthAdjust="spacingAndGlyphs">0.2</text>
<text x="17.09" y="213.94" font-size="9.10" textLength="13.91" lengthAdjust="spacingAndGlyphs">0.4</text>
<text x="17.09" y="189.56" font-size="9.10" textLength="13.91" lengthAdjust="spacingAndGlyphs">0.6</text>
<text x="17.09" y="165.18" font-size="9.10" textLength="13.91" lengthAdjust="spacingAndGlyphs">0.8</text>
<text x="17.09" y="140.80" font-size="9.10" textLength="13.91" lengthAdjust="spacingAndGlyphs">1.0</text>
<g transform="translate(7.1,199.45) rotate(-90)"><text x="-13.50" y="0.00" font-size="9.80" textLength="27.00" lengthAdjust="spacingAndGlyphs">Power</text></g>
<clipPath id="c11"><rect x="278.05" y="136.50" width="233.55" height="124.30"/></clipPath>
<rect x="278.05" y="138.50" width="233.55" height="121.90" fill="none" stroke="#9a9a9a" stroke-width="1"/>
<g clip-path="url(#c11)" fill="none" stroke-linejoin="round">
<polyline points="277.7,258.0 278.2,258.5 278.7,256.5 279.0,256.7 279.2,256.4 279.7,258.1 280.0,258.0 280.2,258.1 280.7,254.6 281.2,255.0 281.6,252.6 281.7,254.5 282.2,254.4 282.7,258.7 282.8,258.0 283.2,258.2 283.7,255.3 284.2,256.3 284.6,254.5 284.7,255.5 285.2,254.7 285.7,258.5 286.0,258.0 286.2,259.0 286.7,257.2 287.2,259.5 287.5,258.6 287.7,258.6 288.2,256.4 288.7,257.2 288.8,255.5 289.2,254.7 289.7,249.1 289.8,250.6 290.2,246.4 290.7,246.1 291.2,242.1 291.7,249.4 292.2,253.1 292.7,257.0 293.2,258.0 293.7,256.6 294.1,253.1 294.2,254.4 294.7,250.5 295.2,250.2 295.7,251.0 296.2,256.5 296.4,256.7 296.7,258.1 297.2,258.4 297.4,259.2 297.7,254.9 298.2,250.1 298.7,241.7 298.8,242.1 299.2,241.0 299.7,244.2 299.8,243.3 300.2,240.6 300.7,231.8 301.2,227.5 301.7,231.4 302.2,240.8 302.6,243.9 302.7,245.5 303.2,242.6 303.5,244.6 303.7,243.8 304.2,251.4 304.7,252.2 305.0,255.9 305.2,254.4 305.7,254.5 306.2,249.1 306.4,249.4 306.7,245.8 307.2,246.7 307.3,245.0 307.7,249.5 308.2,249.8 308.4,253.1 308.7,248.9 309.2,247.6 309.7,241.0 310.2,238.5 310.7,242.5 311.2,251.6 311.6,254.3 311.7,255.8 312.2,256.7 312.7,259.9 313.0,260.4 313.2,260.1 313.7,257.1 314.2,255.6 314.7,252.0 314.9,251.9 315.2,250.0 315.7,247.9 316.2,244.6 316.4,243.9 316.7,244.7 317.2,247.3 317.7,249.4 318.2,251.9 318.3,252.1 318.7,250.5 319.2,246.9 319.7,242.7 320.2,238.6 320.7,235.3 321.2,233.3 321.6,232.7 321.7,232.8 322.2,234.1 322.7,237.1 323.2,241.1 323.7,245.0 324.2,247.4 324.7,245.5 325.2,242.3 325.7,238.7 326.2,235.4 326.7,233.0 327.2,231.7 327.4,231.6 327.7,232.0 328.2,234.4 328.7,238.5 329.2,243.8 329.7,249.1 330.2,253.5 330.5,254.9 330.7,254.5 331.2,252.6 331.7,250.0 332.2,247.6 332.7,245.6 333.2,244.6 333.4,244.6 333.7,244.7 334.2,245.2 334.7,246.3 335.2,247.9 335.7,249.7 336.2,251.8 336.7,254.1 337.2,256.2 337.7,258.2 338.2,259.7 338.6,260.4 338.7,260.3 339.2,259.4 339.7,258.0 340.2,256.3 340.7,254.4 341.2,252.5 341.7,250.7 342.2,249.0 342.7,247.6 343.2,246.5 343.7,245.8 344.2,245.5 344.3,245.5 344.7,245.7 345.2,246.6 345.7,248.0 346.2,249.8 346.7,252.0 347.2,254.2 347.7,256.2 348.2,257.7 348.5,258.2 348.7,257.9 349.2,256.5 349.7,254.4 350.2,252.1 350.7,249.9 351.2,247.8 351.7,246.2 352.2,245.0 352.7,244.6 352.8,244.6 353.2,245.1 353.7,247.1 354.2,250.0 354.7,253.2 355.2,256.2 355.7,258.4 356.1,259.2 356.2,259.2 356.7,259.5 357.2,259.8 357.7,259.9 358.0,259.9 358.2,259.9 358.7,259.9 359.2,259.9 359.7,259.9 360.2,259.8 360.7,259.8 361.0,259.8 361.2,259.8 361.7,259.6 362.2,259.3 362.7,258.9 363.2,258.3 363.5,258.0 363.7,257.6 364.2,255.9 364.7,253.3 365.2,250.3 365.6,247.8 365.7,247.2 366.2,243.5 366.7,239.5 367.0,237.2 367.2,235.8 367.7,231.9 368.2,228.7 368.4,228.0 368.7,227.2 369.2,226.1 369.7,225.3 370.2,224.8 370.3,224.7 370.7,224.5 371.2,224.3 371.7,224.1 372.2,223.9 372.7,223.7 373.2,223.3 373.7,222.8 374.1,222.6 374.2,222.6 374.7,223.6 375.2,225.3 375.5,226.3 375.7,226.9 376.2,228.8 376.7,230.8 377.2,232.5 377.7,233.5 377.9,233.6 378.2,233.2 378.7,231.5 379.2,229.0 379.5,227.5 379.7,226.5 380.2,223.9 380.7,220.2 381.2,212.0 381.5,207.7 381.7,206.2 382.2,203.1 382.7,201.0 382.9,200.3 383.2,199.5 383.7,198.3 384.2,197.3 384.7,196.5 385.2,195.6 385.3,195.4 385.7,194.6 386.2,193.6 386.7,192.7 387.2,191.9 387.5,191.5 387.7,191.3 388.2,190.7 388.7,190.3 389.2,190.1 389.3,190.1 389.7,190.4 390.2,191.5 390.7,193.2 391.0,194.6 391.2,196.2 391.7,203.4 391.9,205.9 392.2,208.6 392.7,212.6 392.8,213.5 393.2,216.7 393.7,221.0 393.8,222.0 394.2,228.0 394.5,231.8 394.7,233.1 395.2,236.2 395.7,238.4 396.2,239.6 396.4,239.8 396.7,239.9 397.2,240.0 397.7,240.0 398.2,240.1 398.7,240.1 399.2,240.1 399.7,240.2 400.2,240.3 400.7,240.5 401.2,240.8 401.7,241.2 402.2,241.7 402.7,242.2 403.2,242.8 403.7,243.5 404.2,244.1 404.7,244.8 404.9,245.0 405.2,245.4 405.7,246.2 406.2,247.1 406.7,248.0 407.2,248.9 407.7,249.9 408.2,250.9 408.7,251.8 409.2,252.8 409.6,253.5 409.7,253.6 410.2,254.6 410.7,255.6 411.2,256.7 411.7,257.7 412.2,258.7 412.7,259.5 413.2,260.1 413.7,260.4 413.9,260.4 414.2,260.3 414.7,260.0 415.2,259.5 415.7,258.7 416.2,257.9 416.7,256.9 417.2,256.0 417.7,255.1 418.2,254.3 418.7,253.6 419.2,252.8 419.7,251.9 420.2,251.1 420.7,250.4 421.2,249.7 421.7,249.0 421.9,248.8 422.2,248.5 422.7,247.9 423.2,247.4 423.7,246.8 424.2,246.3 424.7,245.8 425.2,245.4 425.7,245.1 426.2,244.8 426.7,244.7 427.0,244.7 427.2,244.7 427.7,244.9 428.2,245.4 428.7,246.0 429.2,246.7 429.7,247.5 430.2,248.3 430.7,249.0 431.0,249.4 431.2,249.7 431.7,250.4 432.2,251.2 432.7,252.1 433.2,252.9 433.7,253.8 434.2,254.6 434.7,255.3 435.2,256.0 435.7,256.5 436.0,256.7 436.2,256.9 436.7,257.2 437.2,257.6 437.7,257.9 438.2,258.1 438.7,258.4 439.2,258.5 439.7,258.6 439.8,258.6 440.2,258.5 440.7,258.1 441.2,257.4 441.7,256.6 442.2,255.7 442.7,254.6 443.2,253.5 443.7,252.5 444.0,251.9 444.2,251.5 444.7,250.3 445.2,248.9 445.7,247.4 446.2,245.9 446.7,244.4 447.2,243.0 447.7,241.7 448.2,240.5 448.7,239.7 449.2,239.0 449.7,238.4 450.2,237.8 450.7,237.3 451.2,236.8 451.7,236.3 452.2,235.9 452.7,235.6 453.1,235.3 453.2,235.2 453.7,234.9 454.2,234.6 454.7,234.3 455.2,234.0 455.7,233.7 456.2,233.4 456.7,233.2 457.2,233.0 457.7,232.8 458.2,232.6 458.7,232.5 459.2,232.4 459.7,232.3 460.2,232.1 460.7,232.0 461.2,231.9 461.7,231.9 462.2,231.8 462.7,231.7 463.2,231.7 463.7,231.6 464.2,231.6 464.7,231.7 465.2,231.8 465.7,232.0 466.2,232.3 466.7,232.6 467.2,233.0 467.7,233.4 468.2,233.8 468.7,234.2 469.2,234.6 469.7,235.1 470.2,235.7 470.7,236.3 471.2,237.1 471.7,237.9 472.0,238.5 472.2,238.9 472.7,240.4 473.2,242.4 473.7,244.5 474.2,246.5 474.7,248.1 474.9,248.6 475.2,249.2 475.7,250.3 476.2,251.2 476.7,252.1 477.2,252.9 477.7,253.7 478.2,254.3 478.7,254.8 479.2,255.2 479.3,255.3 479.7,255.5 480.2,255.8 480.7,256.1 481.2,256.3 481.7,256.5 482.2,256.6 482.7,256.6 483.2,256.5 483.7,256.3 484.2,255.9 484.7,255.4 485.2,254.8 485.7,254.1 486.2,253.5 486.7,252.8 487.2,252.1 487.7,251.5 488.2,250.9 488.7,250.4 489.2,249.8 489.7,249.2 490.2,248.6 490.7,248.0 491.2,247.4 491.7,246.8 492.2,246.3 492.7,245.9 493.2,245.4 493.7,245.1 493.8,245.0 494.2,244.8 494.7,244.5 495.2,244.2 495.7,244.0 496.2,243.7 496.7,243.5 497.2,243.2 497.7,243.0 498.2,242.9 498.7,242.7 499.2,242.6 499.7,242.5 500.2,242.5 500.4,242.5 500.7,242.5 501.2,242.5 501.7,242.6 502.2,242.7 502.7,242.8 503.2,243.0 503.7,243.1 504.2,243.3 504.7,243.5 505.2,243.7 505.7,243.8 506.0,243.9 506.2,244.0 506.7,244.2 507.2,244.4 507.7,244.7 508.2,244.9 508.7,245.2 509.2,245.4 509.7,245.7 510.2,246.0 510.7,246.4 511.2,246.7 511.7,247.0 512.2,247.4 512.5,247.6" stroke="#111" stroke-width="1.0"/>
<polyline points="277.7,260.4 278.0,260.4 278.3,260.4 278.6,260.4 278.9,260.4 279.2,260.4 279.5,260.4 279.8,260.4 280.1,260.4 280.4,260.4 280.7,260.4 281.0,260.4 281.3,260.4 281.6,260.4 281.9,260.4 282.2,260.4 282.5,260.4 282.8,260.4 283.1,260.4 283.4,260.4 283.7,260.4 284.0,260.4 284.3,260.4 284.6,260.4 284.9,260.4 285.2,260.4 285.5,260.4 285.8,260.4 286.1,260.4 286.4,260.4 286.7,260.4 287.0,260.4 287.3,260.4 287.6,260.4 287.9,260.4 288.2,260.4 288.5,260.4 288.8,260.4 289.1,260.4 289.4,260.4 289.7,260.4 290.0,260.4 290.3,260.4 290.6,260.4 290.9,260.4 291.2,260.4 291.5,260.4 291.8,260.4 292.1,260.4 292.4,260.4 292.7,260.4 293.0,260.4 293.3,260.4 293.6,260.4 293.9,260.4 294.2,260.4 294.5,260.4 294.8,260.4 295.1,260.4 295.4,260.4 295.7,260.4 296.0,260.4 296.3,260.4 296.6,260.4 296.9,260.4 297.2,260.4 297.5,260.4 297.8,260.4 298.1,260.4 298.4,260.4 298.7,260.4 299.0,260.4 299.3,260.4 299.6,260.4 299.9,260.4 300.2,260.4 300.5,260.4 300.8,260.4 301.1,260.4 301.4,260.4 301.7,260.4 302.0,260.4 302.3,260.4 302.6,260.4 302.9,260.4 303.2,260.4 303.5,260.4 303.8,260.4 304.1,260.4 304.4,260.4 304.7,260.4 305.0,260.4 305.3,260.4 305.6,260.4 305.9,260.4 306.2,260.4 306.5,260.4 306.8,260.4 307.1,260.4 307.4,260.4 307.7,260.4 308.0,260.4 308.3,260.4 308.6,260.4 308.9,260.4 309.2,260.4 309.5,260.4 309.8,260.4 310.0,260.4 310.1,260.4 310.4,260.1 310.7,259.5 311.0,258.9 311.3,258.2 311.6,257.7 311.9,257.4 312.0,257.4 312.2,257.4 312.5,257.8 312.8,258.4 313.1,259.1 313.4,259.7 313.7,260.2 314.0,260.4 314.0,260.4 314.3,260.4 314.6,260.4 314.9,260.4 315.2,260.4 315.5,260.4 315.8,260.4 316.1,260.4 316.4,260.4 316.5,260.4 316.7,260.3 317.0,259.8 317.3,259.0 317.6,258.1 317.8,257.4 317.9,256.9 318.2,254.8 318.5,252.1 318.8,249.6 319.0,248.2 319.1,247.7 319.4,245.9 319.7,244.2 320.0,242.7 320.3,241.5 320.6,240.8 320.8,240.7 320.9,240.7 321.2,242.0 321.5,244.2 321.8,246.7 322.0,248.2 322.1,249.0 322.4,251.7 322.7,254.4 323.0,256.4 323.0,256.4 323.3,257.6 323.6,258.7 323.9,259.6 324.2,260.2 324.5,260.4 324.5,260.4 324.8,260.4 325.1,260.4 325.4,260.4 325.7,260.4 326.0,260.4 326.3,260.4 326.6,260.4 326.9,260.4 327.2,260.4 327.5,260.4 327.8,260.4 328.1,260.4 328.4,260.4 328.7,260.4 329.0,260.4 329.3,260.4 329.6,260.4 329.9,260.4 330.2,260.4 330.5,260.4 330.8,260.4 331.1,260.4 331.4,260.4 331.7,260.4 332.0,260.4 332.3,260.4 332.6,260.4 332.9,260.4 333.2,260.4 333.5,260.4 333.8,260.4 334.1,260.4 334.4,260.4 334.7,260.4 335.0,260.4 335.3,260.4 335.6,260.4 335.9,260.4 336.2,260.4 336.5,260.4 336.8,260.4 337.1,260.4 337.4,260.4 337.7,260.4 338.0,260.4 338.3,260.4 338.6,260.4 338.9,260.4 339.2,260.4 339.5,260.4 339.8,260.4 340.1,260.4 340.4,260.4 340.7,260.4 341.0,260.4 341.3,260.4 341.6,260.4 341.9,260.4 342.2,260.4 342.5,260.4 342.8,260.4 343.1,260.4 343.4,260.4 343.7,260.4 344.0,260.4 344.3,260.4 344.6,260.4 344.9,260.4 345.2,260.4 345.5,260.4 345.8,260.4 346.1,260.4 346.4,260.4 346.7,260.4 347.0,260.4 347.3,260.4 347.6,260.4 347.9,260.4 348.2,260.4 348.5,260.4 348.8,260.4 349.1,260.4 349.4,260.4 349.7,260.4 350.0,260.4 350.3,260.4 350.6,260.4 350.9,260.4 351.2,260.4 351.5,260.4 351.8,260.4 352.1,260.4 352.4,260.4 352.7,260.4 353.0,260.4 353.3,260.4 353.6,260.4 353.9,260.4 354.2,260.4 354.5,260.4 354.8,260.4 355.1,260.4 355.4,260.4 355.7,260.4 356.0,260.4 356.3,260.4 356.6,260.4 356.9,260.4 357.2,260.4 357.5,260.4 357.8,260.4 358.1,260.4 358.4,260.4 358.7,260.4 359.0,260.4 359.3,260.4 359.6,260.4 359.9,260.4 360.2,260.4 360.5,260.4 360.8,260.4 361.1,260.4 361.4,260.4 361.7,260.4 362.0,260.4 362.3,260.4 362.6,260.4 362.9,260.4 363.0,260.4 363.2,260.4 363.5,260.3 363.8,260.1 364.1,259.8 364.4,259.4 364.7,259.1 365.0,258.7 365.3,258.2 365.5,258.0 365.6,257.8 365.9,257.3 366.2,256.6 366.5,255.9 366.8,255.1 367.0,254.5 367.1,254.3 367.4,253.4 367.7,252.5 368.0,251.5 368.3,250.5 368.6,249.6 368.9,248.8 368.9,248.8 369.2,248.1 369.5,247.4 369.8,246.7 370.1,246.1 370.4,245.5 370.7,244.9 371.0,244.4 371.3,243.9 371.3,243.9 371.6,243.5 371.9,243.0 372.2,242.5 372.5,242.1 372.8,241.8 373.1,241.6 373.2,241.6 373.4,241.7 373.7,242.1 374.0,242.8 374.3,243.6 374.6,244.5 374.9,245.4 375.1,245.9 375.2,246.2 375.5,247.0 375.8,248.0 376.1,249.0 376.4,250.0 376.7,250.9 377.0,251.7 377.3,252.4 377.4,252.6 377.6,252.9 377.9,253.4 378.2,253.9 378.5,254.4 378.8,254.8 379.1,255.1 379.4,255.3 379.7,255.4 379.8,255.4 380.0,255.2 380.3,254.1 380.6,252.3 380.9,250.3 381.2,248.2 381.5,245.9 381.8,243.2 382.1,240.3 382.2,239.3 382.4,237.3 382.7,233.9 383.0,230.6 383.2,228.7 383.3,227.9 383.6,225.8 383.9,223.8 384.2,221.3 384.3,220.2 384.5,216.6 384.8,210.7 384.8,210.7 385.1,207.3 385.4,204.7 385.6,203.1 385.7,202.3 386.0,199.8 386.3,197.6 386.6,195.9 386.7,195.4 386.9,194.7 387.2,193.7 387.5,192.9 387.8,192.3 388.1,191.8 388.1,191.8 388.4,191.3 388.7,190.9 389.0,190.7 389.3,190.6 389.3,190.6 389.6,190.8 389.9,191.5 390.2,192.6 390.5,193.9 390.8,195.4 391.0,196.4 391.1,197.0 391.4,199.3 391.7,202.2 391.9,204.0 392.0,204.8 392.3,207.4 392.6,209.9 392.8,211.6 392.9,212.5 393.2,215.0 393.5,217.5 393.8,220.2 393.8,220.2 394.1,223.0 394.4,226.1 394.7,229.2 395.0,232.2 395.3,234.9 395.5,236.5 395.6,237.2 395.9,239.2 396.2,241.0 396.5,242.7 396.8,244.3 397.1,245.9 397.3,246.9 397.4,247.4 397.7,248.9 398.0,250.4 398.3,251.9 398.6,253.2 398.9,254.4 399.2,255.4 399.5,256.3 399.8,257.2 400.1,258.0 400.4,258.8 400.7,259.4 401.0,259.9 401.3,260.3 401.6,260.4 401.6,260.4 401.9,260.4 402.2,260.4 402.5,260.3 402.8,260.3 403.1,260.2 403.4,260.2 403.7,260.1 404.0,260.1 404.3,260.0 404.6,260.0 404.9,259.9 405.2,259.9 405.5,259.8 405.8,259.8 406.1,259.8 406.4,259.7 406.7,259.7 407.0,259.7 407.3,259.7 407.6,259.7 407.7,259.7 407.9,259.7 408.2,259.7 408.5,259.7 408.8,259.8 409.1,259.9 409.4,259.9 409.7,260.0 410.0,260.1 410.3,260.1 410.5,260.2 410.6,260.2 410.9,260.2 411.2,260.2 411.5,260.3 411.8,260.3 412.1,260.4 412.4,260.4 412.7,260.4 413.0,260.4 413.0,260.4 413.3,260.4 413.6,260.4 413.9,260.4 414.2,260.4 414.5,260.4 414.8,260.4 415.1,260.4 415.4,260.4 415.7,260.4 416.0,260.4 416.3,260.4 416.6,260.4 416.9,260.4 417.2,260.4 417.5,260.4 417.8,260.4 418.1,260.4 418.4,260.4 418.7,260.4 419.0,260.4 419.3,260.4 419.6,260.4 419.9,260.4 420.2,260.4 420.5,260.4 420.8,260.4 421.1,260.4 421.4,260.4 421.7,260.4 422.0,260.4 422.3,260.4 422.6,260.4 422.9,260.4 423.2,260.4 423.5,260.4 423.8,260.4 424.1,260.4 424.4,260.4 424.7,260.4 425.0,260.4 425.3,260.4 425.6,260.4 425.9,260.4 426.2,260.4 426.5,260.4 426.8,260.4 427.1,260.4 427.4,260.4 427.7,260.4 428.0,260.4 428.3,260.4 428.6,260.4 428.9,260.4 429.2,260.4 429.5,260.4 429.8,260.4 430.1,260.4 430.4,260.4 430.7,260.4 431.0,260.4 431.3,260.4 431.6,260.4 431.9,260.4 432.2,260.4 432.5,260.4 432.8,260.4 433.1,260.4 433.4,260.4 433.7,260.4 434.0,260.4 434.3,260.4 434.6,260.4 434.9,260.4 435.2,260.4 435.5,260.4 435.8,260.4 436.1,260.4 436.4,260.4 436.7,260.4 437.0,260.4 437.3,260.4 437.6,260.4 437.9,260.4 438.2,260.4 438.5,260.4 438.8,260.4 439.1,260.4 439.4,260.4 439.7,260.4 440.0,260.4 440.3,260.4 440.6,260.4 440.9,260.4 441.2,260.4 441.5,260.4 441.8,260.4 442.1,260.4 442.4,260.4 442.7,260.4 443.0,260.4 443.3,260.4 443.6,260.4 443.9,260.4 444.2,260.4 444.5,260.4 444.8,260.4 445.1,260.4 445.4,260.4 445.7,260.4 446.0,260.4 446.3,260.4 446.6,260.4 446.9,260.4 447.2,260.4 447.5,260.4 447.8,260.4 448.1,260.4 448.4,260.4 448.7,260.4 449.0,260.4 449.3,260.4 449.6,260.4 449.9,260.4 450.2,260.4 450.5,260.4 450.8,260.4 451.1,260.4 451.4,260.4 451.7,260.4 452.0,260.4 452.3,260.4 452.6,260.4 452.9,260.4 453.2,260.4 453.5,260.4 453.8,260.4 454.1,260.4 454.4,260.4 454.7,260.4 455.0,260.4 455.3,260.4 455.6,260.4 455.9,260.4 456.2,260.4 456.5,260.4 456.8,260.4 457.1,260.4 457.4,260.4 457.7,260.4 458.0,260.4 458.3,260.4 458.6,260.4 458.9,260.4 459.2,260.4 459.5,260.4 459.8,260.4 460.1,260.4 460.4,260.4 460.7,260.4 461.0,260.4 461.3,260.4 461.6,260.4 461.9,260.4 462.2,260.4 462.5,260.4 462.8,260.4 463.1,260.4 463.4,260.4 463.7,260.4 464.0,260.4 464.3,260.4 464.6,260.4 464.9,260.4 465.2,260.4 465.5,260.4 465.8,260.4 466.1,260.4 466.4,260.4 466.7,260.4 467.0,260.4 467.3,260.4 467.6,260.4 467.9,260.4 468.2,260.4 468.5,260.4 468.8,260.4 469.1,260.4 469.4,260.4 469.7,260.4 470.0,260.4 470.3,260.4 470.6,260.4 470.9,260.4 471.2,260.4 471.5,260.4 471.8,260.4 472.1,260.4 472.4,260.4 472.7,260.4 473.0,260.4 473.3,260.4 473.6,260.4 473.9,260.4 474.2,260.4 474.5,260.4 474.8,260.4 475.1,260.4 475.4,260.4 475.7,260.4 476.0,260.4 476.3,260.4 476.6,260.4 476.9,260.4 477.2,260.4 477.5,260.4 477.8,260.4 478.1,260.4 478.4,260.4 478.7,260.4 479.0,260.4 479.3,260.4 479.6,260.4 479.9,260.4 480.2,260.4 480.5,260.4 480.8,260.4 481.1,260.4 481.4,260.4 481.7,260.4 482.0,260.4 482.3,260.4 482.6,260.4 482.9,260.4 483.2,260.4 483.5,260.4 483.8,260.4 484.1,260.4 484.4,260.4 484.7,260.4 485.0,260.4 485.3,260.4 485.6,260.4 485.9,260.4 486.2,260.4 486.5,260.4 486.8,260.4 487.1,260.4 487.4,260.4 487.7,260.4 488.0,260.4 488.3,260.4 488.6,260.4 488.9,260.4 489.2,260.4 489.5,260.4 489.8,260.4 490.1,260.4 490.4,260.4 490.7,260.4 491.0,260.4 491.3,260.4 491.6,260.4 491.9,260.4 492.2,260.4 492.5,260.4 492.8,260.4 493.1,260.4 493.4,260.4 493.7,260.4 494.0,260.4 494.3,260.4 494.6,260.4 494.9,260.4 495.2,260.4 495.5,260.4 495.8,260.4 496.1,260.4 496.4,260.4 496.7,260.4 497.0,260.4 497.3,260.4 497.6,260.4 497.9,260.4 498.2,260.4 498.5,260.4 498.8,260.4 499.1,260.4 499.4,260.4 499.7,260.4 500.0,260.4 500.3,260.4 500.6,260.4 500.9,260.4 501.2,260.4 501.5,260.4 501.8,260.4 502.1,260.4 502.4,260.4 502.7,260.4 503.0,260.4 503.3,260.4 503.6,260.4 503.9,260.4 504.2,260.4 504.5,260.4 504.8,260.4 505.1,260.4 505.4,260.4 505.7,260.4 506.0,260.4 506.3,260.4 506.6,260.4 506.9,260.4 507.2,260.4 507.5,260.4 507.8,260.4 508.1,260.4 508.4,260.4 508.7,260.4 509.0,260.4 509.3,260.4 509.6,260.4 509.9,260.4 510.2,260.4 510.5,260.4 510.8,260.4 511.1,260.4 511.4,260.4 511.7,260.4 512.0,260.4 512.3,260.4 512.5,260.4" stroke="#f00" stroke-width="1.6" stroke-dasharray="3,2"/>
</g>
<path d="M278.05,260.40v-5M278.05,138.50v5M304.00,260.40v-5M304.00,138.50v5M329.95,260.40v-5M329.95,138.50v5M355.90,260.40v-5M355.90,138.50v5M381.85,260.40v-5M381.85,138.50v5M407.80,260.40v-5M407.80,138.50v5M433.75,260.40v-5M433.75,138.50v5M459.70,260.40v-5M459.70,138.50v5M485.65,260.40v-5M485.65,138.50v5M511.60,260.40v-5M511.60,138.50v5M278.05,260.40h5M511.60,260.40h-5M278.05,236.02h5M511.60,236.02h-5M278.05,211.64h5M511.60,211.64h-5M278.05,187.26h5M511.60,187.26h-5M278.05,162.88h5M511.60,162.88h-5M278.05,138.50h5M511.60,138.50h-5" stroke="#333" stroke-width="1"/>
<rect x="366.00" y="142.60" width="141.60" height="26.00" fill="#fff" stroke="#888" stroke-width="1"/>
<path d="M371.50,148.50h11.8" stroke="#444" stroke-width="1"/>
<path d="M371.50,160.90h12" stroke="#f00" stroke-width="1.6" stroke-dasharray="3,2"/>
<text x="392.30" y="151.70" font-size="8.45" textLength="70.35" lengthAdjust="spacingAndGlyphs">Observed V-band</text>
<text x="392.30" y="163.60" font-size="8.45" textLength="111.05" lengthAdjust="spacingAndGlyphs">Average Nightly Simulation</text>
<clipPath id="c12"><rect x="521.55" y="136.50" width="233.55" height="124.30"/></clipPath>
<rect x="521.55" y="138.50" width="233.55" height="121.90" fill="none" stroke="#9a9a9a" stroke-width="1"/>
<g clip-path="url(#c12)" fill="none" stroke-linejoin="round">
<polyline points="521.4,258.0 521.9,257.4 522.0,255.9 522.4,257.5 522.9,257.5 523.4,259.2 523.9,257.9 524.4,258.3 524.9,256.0 525.3,256.3 525.4,255.5 525.9,258.0 526.2,257.4 526.4,258.2 526.9,255.3 527.4,254.9 527.9,255.7 528.4,259.1 528.6,258.9 528.9,259.5 529.4,258.3 529.9,260.3 530.4,259.4 530.9,259.1 531.4,255.6 531.9,255.4 532.4,253.2 532.9,253.0 533.1,251.6 533.4,251.9 533.9,246.0 534.4,245.4 534.5,243.6 534.9,249.6 535.4,253.2 535.7,258.0 535.9,257.3 536.4,259.7 536.9,258.9 537.1,259.4 537.4,258.4 537.9,260.2 538.4,258.7 538.9,260.0 539.4,258.6 539.9,258.9 540.4,254.9 540.9,254.2 541.3,250.6 541.4,250.4 541.9,242.0 542.4,238.0 542.6,234.1 542.9,239.9 543.4,246.4 543.5,249.4 543.9,242.9 544.4,239.3 544.5,237.4 544.9,244.7 545.4,250.6 545.9,249.1 546.4,243.3 546.5,244.6 546.9,246.1 547.4,251.8 547.9,252.3 548.0,254.3 548.4,254.9 548.9,258.6 549.4,249.4 549.9,244.8 550.3,238.8 550.4,241.8 550.9,244.5 551.4,253.4 551.7,256.1 551.9,254.9 552.4,245.8 552.9,243.3 553.2,238.5 553.4,242.1 553.9,244.3 554.4,253.3 554.6,254.3 554.9,257.1 555.4,257.1 555.5,258.2 555.9,255.5 556.4,255.4 556.9,251.9 557.4,253.3 557.9,249.3 558.4,251.7 558.8,249.7 558.9,250.4 559.4,245.6 559.9,247.4 560.4,243.5 560.9,242.6 561.4,244.4 561.9,249.4 562.1,249.4 562.4,250.5 562.9,249.0 563.4,251.4 563.5,250.6 563.9,248.9 564.4,243.5 564.9,241.4 565.2,238.8 565.4,240.3 565.9,243.4 566.4,248.0 566.8,250.6 566.9,251.1 567.4,252.2 567.9,253.8 568.2,254.1 568.4,253.5 568.9,250.5 569.4,246.7 569.9,243.2 570.4,240.7 570.9,239.8 571.4,241.6 571.9,245.8 572.4,250.0 572.5,250.6 572.9,253.5 573.4,257.1 573.9,258.7 574.4,257.0 574.9,254.3 575.4,251.4 575.9,249.1 576.4,248.0 576.6,247.8 576.9,248.0 577.4,248.9 577.9,250.4 578.4,252.2 578.9,253.9 579.4,255.3 579.5,255.5 579.9,256.4 580.4,257.5 580.9,258.6 581.4,259.5 581.9,260.2 582.4,260.4 582.9,259.0 583.4,256.5 583.9,253.5 584.4,250.3 584.9,247.1 585.4,244.2 585.9,241.9 586.4,240.1 586.9,239.2 587.2,239.1 587.4,239.2 587.9,240.7 588.4,243.6 588.9,247.4 589.4,251.8 589.9,255.8 590.4,258.5 590.5,258.7 590.9,257.3 591.4,254.0 591.9,250.1 592.4,245.9 592.9,241.9 593.4,238.6 593.9,236.3 594.4,235.1 594.6,235.0 594.9,235.5 595.4,237.8 595.9,241.3 596.4,245.3 596.9,248.8 597.0,249.4 597.4,251.9 597.9,255.3 598.4,258.3 598.9,259.7 599.0,259.8 599.4,259.6 599.9,258.9 600.4,258.1 600.5,258.0 600.9,257.4 601.4,256.7 601.9,256.0 602.4,255.5 602.8,255.4 602.9,255.4 603.4,255.6 603.9,255.9 604.4,256.4 604.9,256.9 605.4,257.3 605.6,257.4 605.9,257.1 606.4,256.0 606.9,254.3 607.4,252.3 607.5,251.9 607.9,250.0 608.4,247.0 608.9,243.6 609.4,240.3 609.9,236.8 610.4,233.1 610.9,229.9 611.3,228.0 611.4,227.6 611.9,225.8 612.4,224.3 612.9,223.4 613.2,223.2 613.4,223.2 613.9,223.5 614.4,224.0 614.9,224.6 615.4,225.0 615.5,225.0 615.9,224.8 616.4,224.3 616.9,223.8 617.4,223.4 617.9,223.2 618.4,224.0 618.9,225.9 619.4,228.3 619.9,230.6 620.3,231.8 620.4,232.0 620.9,233.0 621.4,233.9 621.9,234.6 622.4,234.9 622.5,234.9 622.9,234.6 623.4,233.5 623.9,231.8 624.4,230.0 624.9,228.3 625.0,228.0 625.4,226.9 625.9,225.5 626.4,224.1 626.9,222.6 627.4,221.0 627.9,219.3 628.4,217.5 628.9,215.7 629.4,213.8 629.9,211.8 630.2,210.7 630.4,209.9 630.9,207.7 631.4,205.4 631.9,203.3 632.4,201.6 632.6,201.2 632.9,200.5 633.4,199.6 633.9,199.2 634.4,200.0 634.9,202.1 635.4,204.5 635.5,204.9 635.9,207.0 636.4,210.0 636.9,213.5 637.4,217.5 637.8,221.0 637.9,222.0 638.4,227.2 638.9,232.8 639.4,237.7 639.5,238.5 639.9,241.6 640.4,245.4 640.9,248.8 641.4,251.5 641.9,253.3 642.0,253.5 642.4,254.1 642.9,254.9 643.4,255.5 643.9,256.1 644.4,256.5 644.9,256.8 645.4,257.0 645.7,257.0 645.9,256.9 646.4,256.7 646.9,256.4 647.4,256.0 647.9,255.6 648.4,255.2 648.9,254.8 649.4,254.5 649.9,254.2 650.4,253.9 650.9,253.8 651.4,253.7 651.6,253.7 651.9,253.7 652.4,253.9 652.9,254.3 653.4,254.8 653.9,255.3 654.4,255.8 654.9,256.3 655.4,256.7 655.5,256.7 655.9,257.0 656.4,257.4 656.9,257.8 657.4,258.1 657.9,258.4 658.4,258.7 658.9,258.9 659.4,258.9 659.9,258.7 660.4,258.2 660.9,257.4 661.4,256.3 661.9,255.1 662.4,253.7 662.9,252.3 663.4,251.0 663.9,249.7 664.0,249.4 664.4,248.4 664.9,246.9 665.4,245.2 665.9,243.5 666.4,241.7 666.9,240.1 667.4,238.5 667.9,237.1 668.4,236.0 668.9,235.3 669.4,234.7 669.9,234.2 670.4,233.7 670.9,233.3 671.4,232.9 671.9,232.7 672.4,232.5 672.8,232.5 672.9,232.5 673.4,232.6 673.9,232.9 674.4,233.4 674.9,233.9 675.4,234.6 675.9,235.3 676.4,236.2 676.9,237.0 677.4,237.9 677.8,238.6 677.9,238.8 678.4,239.9 678.9,241.2 679.4,242.7 679.9,244.4 680.4,246.1 680.9,247.7 681.4,249.2 681.9,250.4 682.0,250.6 682.4,251.5 682.9,252.7 683.4,253.9 683.9,255.0 684.4,256.0 684.9,256.8 685.4,257.4 685.9,257.7 686.1,257.7 686.4,257.7 686.9,257.3 687.4,256.7 687.9,255.9 688.4,254.9 688.9,253.9 689.4,252.8 689.9,251.8 690.4,250.8 690.5,250.6 690.9,249.9 691.4,249.0 691.9,248.0 692.4,247.0 692.9,246.0 693.4,244.9 693.9,243.9 694.4,243.0 694.9,242.1 695.4,241.2 695.6,240.9 695.9,240.4 696.4,239.7 696.9,238.9 697.4,238.1 697.9,237.4 698.4,236.7 698.9,236.0 699.4,235.4 699.9,234.8 700.4,234.2 700.9,233.7 701.4,233.3 701.6,233.1 701.9,232.8 702.4,232.4 702.9,232.0 703.4,231.6 703.9,231.2 704.4,230.8 704.9,230.5 705.4,230.2 705.9,229.9 706.4,229.7 706.9,229.5 707.4,229.5 707.7,229.4 707.9,229.4 708.4,229.6 708.9,229.8 709.4,230.2 709.9,230.7 710.4,231.2 710.9,231.8 711.4,232.4 711.9,233.1 712.4,233.8 712.7,234.2 712.9,234.5 713.4,235.4 713.9,236.4 714.4,237.7 714.9,239.0 715.4,240.4 715.9,241.8 716.4,243.2 716.9,244.6 717.4,245.8 717.9,246.9 718.2,247.5 718.4,247.8 718.9,248.8 719.4,249.7 719.9,250.7 720.4,251.6 720.9,252.5 721.4,253.2 721.9,253.9 722.4,254.5 722.9,255.0 723.4,255.2 723.8,255.3 723.9,255.3 724.4,255.1 724.9,254.8 725.4,254.3 725.9,253.7 726.4,252.9 726.9,252.2 727.4,251.4 727.9,250.6 728.4,249.8 728.9,249.1 729.3,248.6 729.4,248.5 729.9,247.9 730.4,247.2 730.9,246.6 731.4,246.0 731.9,245.4 732.4,244.8 732.9,244.2 733.4,243.7 733.9,243.2 734.4,242.8 734.9,242.5 735.4,242.2 735.9,241.9 736.4,241.6 736.9,241.4 737.4,241.1 737.9,240.9 738.4,240.7 738.9,240.5 739.4,240.3 739.9,240.1 740.4,240.0 740.9,240.0 741.4,239.9 741.6,239.9 741.9,239.9 742.4,240.0 742.9,240.2 743.4,240.4 743.9,240.6 744.4,240.9 744.9,241.2 745.4,241.6 745.9,241.9 746.4,242.3 746.9,242.7 747.4,243.1 747.9,243.5 748.2,243.7 748.4,243.8 748.9,244.2 749.4,244.6 749.9,245.0 750.4,245.4 750.9,245.9 751.4,246.4 751.9,246.8 752.4,247.3 752.9,247.8 753.4,248.3 753.9,248.9 754.4,249.4 754.9,250.0 755.4,250.6 755.9,251.1 756.0,251.3" stroke="#111" stroke-width="1.0"/>
<polyline points="521.4,260.4 521.7,260.4 522.0,260.4 522.3,260.4 522.6,260.4 522.9,260.4 523.2,260.4 523.5,260.4 523.8,260.4 524.1,260.4 524.4,260.4 524.7,260.4 525.0,260.4 525.3,260.4 525.6,260.4 525.9,260.4 526.2,260.4 526.5,260.4 526.8,260.4 527.1,260.4 527.4,260.4 527.7,260.4 528.0,260.4 528.3,260.4 528.6,260.4 528.9,260.4 529.2,260.4 529.5,260.4 529.8,260.4 530.1,260.4 530.4,260.4 530.7,260.4 531.0,260.4 531.3,260.4 531.6,260.4 531.9,260.4 532.2,260.4 532.5,260.4 532.8,260.4 533.1,260.4 533.4,260.4 533.7,260.4 534.0,260.4 534.3,260.4 534.6,260.4 534.9,260.4 535.2,260.4 535.5,260.4 535.8,260.4 536.1,260.4 536.4,260.4 536.7,260.4 537.0,260.4 537.3,260.4 537.6,260.4 537.9,260.4 538.2,260.4 538.5,260.4 538.8,260.4 539.1,260.4 539.4,260.4 539.7,260.4 540.0,260.4 540.3,260.4 540.6,260.4 540.9,260.4 541.2,260.4 541.5,260.4 541.8,260.4 542.1,260.4 542.4,260.4 542.7,260.4 543.0,260.4 543.3,260.4 543.6,260.4 543.9,260.4 544.2,260.4 544.5,260.4 544.8,260.4 545.1,260.4 545.4,260.4 545.7,260.4 546.0,260.4 546.3,260.4 546.6,260.4 546.9,260.4 547.2,260.4 547.5,260.4 547.8,260.4 548.1,260.4 548.4,260.4 548.7,260.4 549.0,260.4 549.3,260.4 549.6,260.4 549.9,260.4 550.2,260.4 550.5,260.4 550.8,260.4 551.1,260.4 551.4,260.4 551.7,260.4 552.0,260.4 552.3,260.4 552.6,260.4 552.9,260.4 553.2,260.4 553.5,260.4 553.5,260.4 553.8,259.4 554.1,257.1 554.4,254.8 554.5,254.3 554.7,253.3 555.0,251.9 555.3,250.9 555.5,250.6 555.6,250.7 555.9,251.5 556.2,252.8 556.5,254.3 556.5,254.3 556.8,256.3 557.1,258.7 557.4,260.3 557.5,260.4 557.7,260.4 558.0,260.4 558.3,260.4 558.6,260.4 558.9,260.4 559.2,260.4 559.5,260.4 559.8,260.4 560.1,260.4 560.4,260.4 560.7,260.4 561.0,260.4 561.3,260.4 561.5,260.4 561.6,260.3 561.9,258.7 562.2,256.3 562.5,254.3 562.5,254.3 562.8,252.8 563.1,251.5 563.4,250.7 563.5,250.6 563.7,250.8 564.0,251.5 564.3,252.5 564.6,253.6 564.8,254.3 564.9,254.6 565.2,255.7 565.5,256.8 565.8,257.9 566.1,258.8 566.3,259.2 566.4,259.3 566.7,259.8 567.0,260.1 567.3,260.4 567.5,260.4 567.6,260.4 567.9,260.4 568.2,260.4 568.5,260.4 568.8,260.4 569.1,260.4 569.4,260.4 569.7,260.4 570.0,260.4 570.3,260.4 570.6,260.4 570.9,260.4 571.2,260.4 571.5,260.4 571.8,260.4 572.1,260.4 572.4,260.4 572.7,260.4 573.0,260.4 573.3,260.4 573.6,260.4 573.9,260.4 574.2,260.4 574.5,260.4 574.8,260.4 575.1,260.4 575.4,260.4 575.7,260.4 576.0,260.4 576.3,260.4 576.6,260.4 576.9,260.4 577.2,260.4 577.5,260.4 577.8,260.4 578.1,260.4 578.4,260.4 578.7,260.4 579.0,260.4 579.3,260.4 579.6,260.4 579.9,260.4 580.2,260.4 580.5,260.4 580.8,260.4 581.1,260.4 581.4,260.4 581.7,260.4 582.0,260.4 582.3,260.4 582.6,260.4 582.9,260.4 583.2,260.4 583.5,260.4 583.8,260.4 584.1,260.4 584.4,260.4 584.7,260.4 585.0,260.4 585.3,260.4 585.6,260.4 585.9,260.4 586.2,260.4 586.5,260.4 586.8,260.4 587.1,260.4 587.4,260.4 587.7,260.4 588.0,260.4 588.3,260.4 588.6,260.4 588.9,260.4 589.2,260.4 589.5,260.4 589.8,260.4 590.1,260.4 590.4,260.4 590.7,260.4 591.0,260.4 591.3,260.4 591.6,260.4 591.9,260.4 592.2,260.4 592.5,260.4 592.8,260.4 593.1,260.4 593.4,260.4 593.7,260.4 594.0,260.4 594.3,260.4 594.6,260.4 594.9,260.4 595.2,260.4 595.5,260.4 595.8,260.4 596.1,260.4 596.4,260.4 596.7,260.4 597.0,260.4 597.3,260.4 597.6,260.4 597.9,260.4 598.2,260.4 598.5,260.4 598.8,260.4 599.1,260.4 599.4,260.4 599.7,260.4 600.0,260.4 600.3,260.4 600.6,260.4 600.9,260.4 601.2,260.4 601.5,260.4 601.8,260.4 602.1,260.4 602.4,260.4 602.7,260.4 603.0,260.4 603.3,260.4 603.6,260.4 603.9,260.4 604.0,260.4 604.2,260.4 604.5,260.3 604.8,260.2 605.1,260.0 605.4,259.8 605.7,259.6 606.0,259.4 606.2,259.2 606.3,259.1 606.6,258.7 606.9,258.2 607.2,257.6 607.5,257.0 607.8,256.2 608.1,255.3 608.4,254.4 608.7,253.4 609.0,252.3 609.3,251.2 609.6,250.0 609.6,250.0 609.9,248.7 610.2,247.0 610.5,245.0 610.8,242.9 611.1,240.7 611.4,238.4 611.7,236.2 612.0,234.1 612.2,232.9 612.3,232.2 612.6,230.3 612.9,228.2 613.2,226.2 613.5,224.2 613.8,222.4 614.1,220.7 614.4,219.4 614.7,218.3 614.7,218.3 615.0,217.5 615.3,216.7 615.6,216.0 615.9,215.4 616.2,215.1 616.5,214.9 616.5,214.9 616.8,215.1 617.1,215.5 617.4,216.2 617.7,217.1 618.0,218.2 618.3,219.4 618.6,220.6 618.7,221.0 618.9,222.1 619.2,224.2 619.5,226.9 619.8,229.9 620.1,232.9 620.4,235.7 620.7,238.0 620.7,238.0 621.0,240.0 621.3,242.2 621.6,244.3 621.9,246.4 622.2,248.2 622.5,249.8 622.8,250.9 623.1,251.6 623.3,251.7 623.4,251.7 623.7,251.3 624.0,250.4 624.3,249.2 624.6,247.8 624.9,246.2 625.2,244.5 625.5,242.9 625.8,241.4 625.8,241.4 626.1,239.9 626.4,238.2 626.7,236.5 627.0,234.6 627.3,232.8 627.6,230.9 627.9,229.1 628.2,227.3 628.5,225.7 628.8,224.2 629.1,223.0 629.2,222.6 629.4,221.9 629.7,220.8 630.0,219.7 630.3,218.6 630.6,217.6 630.9,216.8 631.2,216.0 631.5,215.4 631.8,215.1 632.1,214.9 632.1,214.9 632.4,215.1 632.7,215.5 633.0,216.2 633.3,217.1 633.6,218.1 633.9,219.2 634.2,220.3 634.4,221.0 634.5,221.4 634.8,222.7 635.1,224.1 635.4,225.8 635.7,227.5 636.0,229.3 636.3,231.1 636.6,232.9 636.9,234.6 637.2,236.2 637.5,237.9 637.8,239.5 638.1,241.2 638.4,242.9 638.7,244.5 639.0,246.0 639.3,247.4 639.5,248.2 639.6,248.6 639.9,249.9 640.2,251.1 640.5,252.2 640.8,253.3 641.1,254.3 641.4,255.2 641.7,256.1 642.0,256.7 642.0,256.7 642.3,257.4 642.6,258.0 642.9,258.6 643.2,259.1 643.5,259.6 643.8,260.0 644.1,260.3 644.4,260.4 644.5,260.4 644.7,260.4 645.0,260.4 645.3,260.4 645.6,260.4 645.9,260.4 646.2,260.4 646.5,260.4 646.8,260.4 647.0,260.4 647.1,260.4 647.4,260.3 647.7,260.2 648.0,260.0 648.3,259.8 648.6,259.6 648.9,259.4 649.2,259.2 649.5,259.0 649.8,259.0 650.0,258.9 650.1,258.9 650.4,258.9 650.7,259.0 651.0,259.0 651.3,259.0 651.6,259.0 651.9,259.0 652.2,259.1 652.5,259.1 652.8,259.2 653.0,259.2 653.1,259.2 653.4,259.3 653.7,259.4 654.0,259.6 654.3,259.7 654.6,259.9 654.9,260.1 655.2,260.2 655.5,260.3 655.8,260.4 656.0,260.4 656.1,260.4 656.4,260.4 656.7,260.4 657.0,260.4 657.3,260.4 657.6,260.4 657.9,260.4 658.2,260.4 658.5,260.4 658.8,260.4 659.1,260.4 659.4,260.4 659.7,260.4 660.0,260.4 660.3,260.4 660.6,260.4 660.9,260.4 661.2,260.4 661.5,260.4 661.8,260.4 662.1,260.4 662.4,260.4 662.7,260.4 663.0,260.4 663.3,260.4 663.6,260.4 663.9,260.4 664.2,260.4 664.5,260.4 664.8,260.4 665.1,260.4 665.4,260.4 665.7,260.4 666.0,260.4 666.3,260.4 666.6,260.4 666.9,260.4 667.2,260.4 667.5,260.4 667.8,260.4 668.1,260.4 668.4,260.4 668.7,260.4 669.0,260.4 669.3,260.4 669.6,260.4 669.9,260.4 670.2,260.4 670.5,260.4 670.8,260.4 671.1,260.4 671.4,260.4 671.7,260.4 672.0,260.4 672.3,260.4 672.6,260.4 672.9,260.4 673.2,260.4 673.5,260.4 673.8,260.4 674.1,260.4 674.4,260.4 674.7,260.4 675.0,260.4 675.3,260.4 675.6,260.4 675.9,260.4 676.2,260.4 676.5,260.4 676.8,260.4 677.1,260.4 677.4,260.4 677.7,260.4 678.0,260.4 678.3,260.4 678.6,260.4 678.9,260.4 679.2,260.4 679.5,260.4 679.8,260.4 680.1,260.4 680.4,260.4 680.7,260.4 681.0,260.4 681.3,260.4 681.6,260.4 681.9,260.4 682.2,260.4 682.5,260.4 682.8,260.4 683.1,260.4 683.4,260.4 683.7,260.4 684.0,260.4 684.3,260.4 684.6,260.4 684.9,260.4 685.2,260.4 685.5,260.4 685.8,260.4 686.1,260.4 686.4,260.4 686.7,260.4 687.0,260.4 687.3,260.4 687.6,260.4 687.9,260.4 688.2,260.4 688.5,260.4 688.8,260.4 689.1,260.4 689.4,260.4 689.7,260.4 690.0,260.4 690.3,260.4 690.6,260.4 690.9,260.4 691.2,260.4 691.5,260.4 691.8,260.4 692.1,260.4 692.4,260.4 692.7,260.4 693.0,260.4 693.3,260.4 693.6,260.4 693.9,260.4 694.2,260.4 694.5,260.4 694.8,260.4 695.1,260.4 695.4,260.4 695.7,260.4 696.0,260.4 696.3,260.4 696.6,260.4 696.9,260.4 697.2,260.4 697.5,260.4 697.8,260.4 698.1,260.4 698.4,260.4 698.7,260.4 699.0,260.4 699.3,260.4 699.6,260.4 699.9,260.4 700.2,260.4 700.5,260.4 700.8,260.4 701.1,260.4 701.4,260.4 701.7,260.4 702.0,260.4 702.3,260.4 702.6,260.4 702.9,260.4 703.2,260.4 703.5,260.4 703.8,260.4 704.1,260.4 704.4,260.4 704.7,260.4 705.0,260.4 705.3,260.4 705.6,260.4 705.9,260.4 706.2,260.4 706.5,260.4 706.8,260.4 707.1,260.4 707.4,260.4 707.7,260.4 708.0,260.4 708.3,260.4 708.6,260.4 708.9,260.4 709.2,260.4 709.5,260.4 709.8,260.4 710.1,260.4 710.4,260.4 710.7,260.4 711.0,260.4 711.3,260.4 711.6,260.4 711.9,260.4 712.2,260.4 712.5,260.4 712.8,260.4 713.1,260.4 713.4,260.4 713.7,260.4 714.0,260.4 714.3,260.4 714.6,260.4 714.9,260.4 715.2,260.4 715.5,260.4 715.8,260.4 716.1,260.4 716.4,260.4 716.7,260.4 717.0,260.4 717.3,260.4 717.6,260.4 717.9,260.4 718.2,260.4 718.5,260.4 718.8,260.4 719.1,260.4 719.4,260.4 719.7,260.4 720.0,260.4 720.3,260.4 720.6,260.4 720.9,260.4 721.2,260.4 721.5,260.4 721.8,260.4 722.1,260.4 722.4,260.4 722.7,260.4 723.0,260.4 723.3,260.4 723.6,260.4 723.9,260.4 724.2,260.4 724.5,260.4 724.8,260.4 725.1,260.4 725.4,260.4 725.7,260.4 726.0,260.4 726.3,260.4 726.6,260.4 726.9,260.4 727.2,260.4 727.5,260.4 727.8,260.4 728.1,260.4 728.4,260.4 728.7,260.4 729.0,260.4 729.3,260.4 729.6,260.4 729.9,260.4 730.2,260.4 730.5,260.4 730.8,260.4 731.1,260.4 731.4,260.4 731.7,260.4 732.0,260.4 732.3,260.4 732.6,260.4 732.9,260.4 733.2,260.4 733.5,260.4 733.8,260.4 734.1,260.4 734.4,260.4 734.7,260.4 735.0,260.4 735.3,260.4 735.6,260.4 735.9,260.4 736.2,260.4 736.5,260.4 736.8,260.4 737.1,260.4 737.4,260.4 737.7,260.4 738.0,260.4 738.3,260.4 738.6,260.4 738.9,260.4 739.2,260.4 739.5,260.4 739.8,260.4 740.1,260.4 740.4,260.4 740.7,260.4 741.0,260.4 741.3,260.4 741.6,260.4 741.9,260.4 742.2,260.4 742.5,260.4 742.8,260.4 743.1,260.4 743.4,260.4 743.7,260.4 744.0,260.4 744.3,260.4 744.6,260.4 744.9,260.4 745.2,260.4 745.5,260.4 745.8,260.4 746.1,260.4 746.4,260.4 746.7,260.4 747.0,260.4 747.3,260.4 747.6,260.4 747.9,260.4 748.2,260.4 748.5,260.4 748.8,260.4 749.1,260.4 749.4,260.4 749.7,260.4 750.0,260.4 750.3,260.4 750.6,260.4 750.9,260.4 751.2,260.4 751.5,260.4 751.8,260.4 752.1,260.4 752.4,260.4 752.7,260.4 753.0,260.4 753.3,260.4 753.6,260.4 753.9,260.4 754.2,260.4 754.5,260.4 754.8,260.4 755.1,260.4 755.4,260.4 755.7,260.4 756.0,260.4 756.0,260.4" stroke="#f00" stroke-width="1.6" stroke-dasharray="3,2"/>
</g>
<path d="M521.55,260.40v-5M521.55,138.50v5M547.50,260.40v-5M547.50,138.50v5M573.45,260.40v-5M573.45,138.50v5M599.40,260.40v-5M599.40,138.50v5M625.35,260.40v-5M625.35,138.50v5M651.30,260.40v-5M651.30,138.50v5M677.25,260.40v-5M677.25,138.50v5M703.20,260.40v-5M703.20,138.50v5M729.15,260.40v-5M729.15,138.50v5M755.10,260.40v-5M755.10,138.50v5M521.55,260.40h5M755.10,260.40h-5M521.55,236.02h5M755.10,236.02h-5M521.55,211.64h5M755.10,211.64h-5M521.55,187.26h5M755.10,187.26h-5M521.55,162.88h5M755.10,162.88h-5M521.55,138.50h5M755.10,138.50h-5" stroke="#333" stroke-width="1"/>
<rect x="609.50" y="142.60" width="141.60" height="26.00" fill="#fff" stroke="#888" stroke-width="1"/>
<path d="M615.00,148.50h11.8" stroke="#444" stroke-width="1"/>
<path d="M615.00,160.90h12" stroke="#f00" stroke-width="1.6" stroke-dasharray="3,2"/>
<text x="635.80" y="151.70" font-size="8.45" textLength="67.66" lengthAdjust="spacingAndGlyphs">Observed I-band</text>
<text x="635.80" y="163.60" font-size="8.45" textLength="111.05" lengthAdjust="spacingAndGlyphs">Average Nightly Simulation</text>
<clipPath id="c20"><rect x="34.55" y="270.50" width="233.55" height="124.30"/></clipPath>
<rect x="34.55" y="272.50" width="233.55" height="121.90" fill="none" stroke="#9a9a9a" stroke-width="1"/>
<g clip-path="url(#c20)" fill="none" stroke-linejoin="round">
<polyline points="34.0,393.2 34.5,393.1 35.0,390.5 35.5,390.0 36.0,390.8 36.5,393.4 36.8,393.8 37.0,394.0 37.5,391.5 37.6,392.0 38.0,388.5 38.4,387.1 38.5,386.9 39.0,392.7 39.2,392.9 39.5,393.5 40.0,391.4 40.1,392.0 40.5,389.9 41.0,389.3 41.3,387.5 41.5,389.8 42.0,389.3 42.3,391.2 42.5,390.4 43.0,393.5 43.5,393.2 44.0,393.0 44.5,392.0 45.0,392.2 45.5,389.3 45.6,389.6 46.0,386.5 46.5,387.6 46.6,385.9 47.0,383.2 47.5,375.4 47.6,376.4 48.0,381.4 48.4,388.3 48.5,387.5 49.0,393.5 49.1,393.2 49.5,394.3 50.0,393.8 50.5,392.6 50.6,391.4 51.0,389.6 51.5,384.4 51.8,383.8 52.0,384.7 52.5,391.3 52.7,392.0 53.0,393.5 53.5,394.4 54.0,392.1 54.5,387.2 54.9,385.9 55.0,383.6 55.5,383.0 55.9,378.6 56.0,380.0 56.5,377.9 56.6,379.8 57.0,373.1 57.5,367.7 57.8,362.3 58.0,367.3 58.5,374.0 58.7,379.8 59.0,378.3 59.5,382.1 59.6,381.4 60.0,386.0 60.5,386.6 60.6,388.3 61.0,388.5 61.5,392.4 61.6,392.0 62.0,391.6 62.5,388.3 63.0,385.6 63.5,379.9 64.0,384.4 64.4,385.9 64.5,387.9 65.0,385.5 65.3,387.1 65.5,382.5 66.0,378.1 66.3,372.5 66.5,376.8 67.0,380.0 67.5,389.5 67.7,390.7 68.0,392.5 68.5,392.9 68.7,394.4 69.0,394.1 69.5,394.4 69.6,394.4 70.0,393.4 70.5,389.7 71.0,388.9 71.5,385.9 72.0,383.4 72.5,378.6 72.9,376.6 73.0,376.6 73.5,383.0 73.9,385.9 74.0,386.4 74.5,387.1 74.8,388.3 75.0,386.7 75.5,382.7 76.0,377.7 76.2,376.1 76.5,374.2 77.0,369.9 77.5,367.7 77.6,367.6 78.0,369.1 78.5,373.4 79.0,377.3 79.5,380.1 80.0,382.6 80.5,383.7 81.0,382.3 81.5,379.1 82.0,375.7 82.4,373.7 82.5,373.3 83.0,371.6 83.5,370.3 83.8,370.0 84.0,370.4 84.5,373.5 85.0,378.1 85.2,379.8 85.5,382.7 86.0,388.5 86.5,392.2 86.6,392.3 87.0,391.5 87.5,389.7 88.0,387.5 88.5,385.2 89.0,383.2 89.5,381.6 90.0,380.6 90.4,380.4 90.5,380.4 91.0,380.8 91.5,381.6 92.0,383.0 92.5,384.7 93.0,386.6 93.5,388.6 94.0,390.6 94.5,392.3 95.0,393.6 95.2,393.8 95.5,393.5 96.0,392.4 96.5,391.0 97.0,389.4 97.5,387.7 98.0,386.0 98.5,384.4 99.0,383.0 99.5,381.8 100.0,381.0 100.5,380.5 100.9,380.4 101.0,380.4 101.5,381.0 102.0,382.3 102.5,384.2 103.0,386.5 103.5,389.0 104.0,391.2 104.5,392.9 104.7,393.2 105.0,392.7 105.5,391.2 106.0,389.3 106.5,387.1 107.0,384.8 107.5,382.8 108.0,381.1 108.5,379.8 109.0,379.0 109.4,378.8 109.5,378.8 110.0,379.5 110.5,381.1 111.0,383.5 111.5,386.3 112.0,389.3 112.5,392.0 113.0,394.0 113.2,394.4 113.5,394.3 114.0,393.8 114.5,393.1 115.0,392.4 115.5,392.0 116.0,391.7 116.5,391.5 117.0,391.4 117.5,391.4 118.0,391.4 118.5,391.5 119.0,391.6 119.5,391.8 120.0,391.9 120.3,392.0 120.5,391.9 121.0,391.5 121.5,390.7 122.0,388.6 122.5,384.8 123.0,380.6 123.1,379.8 123.5,376.2 124.0,371.4 124.5,367.6 125.0,365.1 125.5,363.1 126.0,361.4 126.4,360.3 126.5,360.0 127.0,358.9 127.5,358.1 128.0,357.2 128.3,356.6 128.5,356.2 129.0,354.8 129.5,353.4 130.0,352.7 130.1,352.7 130.5,353.2 131.0,354.7 131.5,356.7 131.8,357.8 132.0,358.7 132.5,361.6 133.0,364.9 133.5,368.1 134.0,370.3 134.4,371.0 134.5,370.9 135.0,368.5 135.5,363.9 136.0,358.7 136.3,356.0 136.5,354.3 137.0,349.7 137.5,345.0 138.0,341.1 138.2,339.9 138.5,338.4 139.0,336.2 139.5,334.3 140.0,332.7 140.1,332.4 140.5,331.2 141.0,329.7 141.5,328.4 142.0,327.3 142.5,326.4 142.9,325.8 143.0,325.6 143.5,325.0 144.0,324.5 144.5,324.0 145.0,323.7 145.3,323.7 145.5,323.8 146.0,324.3 146.5,325.3 146.7,325.8 147.0,326.9 147.5,330.3 148.0,334.4 148.1,335.2 148.5,338.4 149.0,343.0 149.5,347.5 150.0,351.5 150.5,356.0 151.0,362.9 151.4,367.6 151.5,368.3 152.0,371.8 152.5,374.6 153.0,376.3 153.3,376.6 153.5,376.6 154.0,376.5 154.5,376.3 155.0,376.1 155.5,375.9 156.0,375.7 156.5,375.4 157.0,375.2 157.5,375.1 157.6,375.1 158.0,375.2 158.5,375.5 159.0,375.9 159.5,376.5 160.0,377.2 160.5,377.8 161.0,378.5 161.5,379.2 161.8,379.5 162.0,379.7 162.5,380.3 163.0,380.8 163.5,381.4 163.8,381.8 164.0,382.2 164.5,383.3 165.0,384.6 165.5,386.0 166.0,387.3 166.5,388.6 167.0,389.5 167.5,390.3 168.0,391.1 168.5,391.8 169.0,392.6 169.5,393.2 170.0,393.7 170.5,394.1 171.0,394.3 171.4,394.4 171.5,394.4 172.0,393.9 172.5,392.9 173.0,391.6 173.5,390.0 174.0,388.5 174.5,387.0 175.0,385.9 175.5,384.9 176.0,384.0 176.5,383.1 177.0,382.2 177.5,381.4 178.0,380.7 178.5,380.2 178.9,379.8 179.0,379.7 179.5,379.3 180.0,378.9 180.5,378.5 181.0,378.1 181.5,377.9 182.0,377.7 182.5,377.6 182.7,377.6 183.0,377.6 183.5,377.7 184.0,378.0 184.5,378.3 185.0,378.7 185.5,379.1 186.0,379.6 186.5,380.1 187.0,380.6 187.4,381.0 187.5,381.1 188.0,381.7 188.5,382.4 189.0,383.1 189.5,384.0 190.0,384.8 190.5,385.7 191.0,386.5 191.5,387.3 192.0,388.0 192.2,388.3 192.5,388.7 193.0,389.4 193.5,390.1 194.0,390.8 194.5,391.4 195.0,391.9 195.5,392.2 196.0,392.3 196.5,392.2 197.0,391.8 197.5,391.1 198.0,390.3 198.5,389.4 199.0,388.5 199.5,387.5 199.7,387.1 200.0,386.5 200.5,385.2 201.0,383.8 201.5,382.2 202.0,380.6 202.5,379.0 203.0,377.5 203.5,376.1 204.0,374.8 204.5,373.5 205.0,372.2 205.5,370.9 206.0,369.8 206.5,368.8 207.0,368.0 207.3,367.6 207.5,367.4 208.0,366.9 208.5,366.4 209.0,366.0 209.5,365.6 210.0,365.2 210.5,364.9 211.0,364.7 211.5,364.5 212.0,364.3 212.5,364.2 213.0,364.0 213.5,363.9 214.0,363.8 214.5,363.8 215.0,363.7 215.5,363.6 216.0,363.6 216.5,363.5 217.0,363.4 217.5,363.4 218.0,363.3 218.5,363.2 219.0,363.2 219.5,363.1 220.0,363.1 220.5,363.1 221.0,363.1 221.5,363.1 222.0,363.3 222.5,363.6 223.0,364.0 223.5,364.4 224.0,364.9 224.3,365.1 224.5,365.3 225.0,365.9 225.5,366.6 226.0,367.3 226.5,368.1 227.0,369.1 227.5,370.0 228.0,371.0 228.1,371.2 228.5,372.2 229.0,373.5 229.5,375.0 230.0,376.5 230.5,378.0 230.9,379.0 231.0,379.3 231.5,380.5 232.0,381.8 232.5,383.0 233.0,384.2 233.5,385.2 234.0,386.1 234.5,386.9 234.7,387.1 235.0,387.4 235.5,387.9 236.0,388.4 236.5,388.8 237.0,389.1 237.5,389.3 238.0,389.4 238.5,389.3 239.0,389.1 239.5,388.7 240.0,388.3 240.5,387.8 241.0,387.2 241.5,386.7 242.0,386.2 242.3,385.9 242.5,385.7 243.0,385.1 243.5,384.6 244.0,384.0 244.5,383.3 245.0,382.7 245.5,382.1 246.0,381.4 246.5,380.8 247.0,380.2 247.5,379.7 248.0,379.2 248.5,378.7 249.0,378.2 249.5,377.8 250.0,377.3 250.5,376.9 251.0,376.6 251.5,376.2 251.7,376.1 252.0,375.9 252.5,375.7 253.0,375.4 253.5,375.1 254.0,374.9 254.5,374.7 255.0,374.6 255.5,374.5 256.0,374.6 256.5,374.6 257.0,374.7 257.5,374.9 258.0,375.0 258.5,375.2 259.0,375.4 259.5,375.6 260.0,375.9 260.5,376.1 261.0,376.3 261.2,376.4 261.5,376.5 262.0,376.7 262.5,376.9 263.0,377.2 263.5,377.5 264.0,377.8 264.5,378.0 265.0,378.3 265.5,378.6 266.0,378.8 266.5,379.1 267.0,379.3 267.5,379.4 267.8,379.5 268.0,379.6 268.5,379.7 269.0,379.8" stroke="#111" stroke-width="1.0"/>
<polyline points="34.0,394.4 34.3,394.4 34.6,394.4 34.9,394.4 35.2,394.4 35.5,394.4 35.8,394.4 36.1,394.4 36.4,394.4 36.7,394.4 37.0,394.4 37.3,394.4 37.6,394.4 37.9,394.4 38.2,394.4 38.5,394.4 38.8,394.4 39.1,394.4 39.4,394.4 39.7,394.4 40.0,394.4 40.3,394.4 40.6,394.4 40.9,394.4 41.2,394.4 41.5,394.4 41.8,394.4 42.1,394.4 42.4,394.4 42.7,394.4 43.0,394.4 43.3,394.4 43.6,394.4 43.9,394.4 44.2,394.4 44.5,394.4 44.8,394.4 45.1,394.4 45.4,394.4 45.7,394.4 46.0,394.4 46.3,394.4 46.6,394.4 46.9,394.4 47.2,394.4 47.5,394.4 47.8,394.4 48.1,394.4 48.4,394.4 48.7,394.4 49.0,394.4 49.3,394.4 49.6,394.4 49.9,394.4 50.2,394.4 50.5,394.4 50.8,394.4 51.1,394.4 51.4,394.4 51.7,394.4 52.0,394.4 52.3,394.4 52.6,394.4 52.9,394.4 53.2,394.4 53.5,394.4 53.8,394.4 54.1,394.4 54.4,394.4 54.7,394.4 55.0,394.4 55.3,394.4 55.6,394.4 55.9,394.4 56.2,394.4 56.5,394.4 56.8,394.4 57.1,394.4 57.4,394.4 57.7,394.4 58.0,394.4 58.3,394.4 58.6,394.4 58.9,394.4 59.2,394.4 59.5,394.4 59.8,394.4 60.1,394.4 60.4,394.4 60.7,394.4 61.0,394.4 61.3,394.4 61.6,394.4 61.9,394.4 62.2,394.4 62.5,394.4 62.8,394.4 63.1,394.4 63.4,394.4 63.7,394.4 64.0,394.4 64.3,394.4 64.6,394.4 64.9,394.4 65.2,394.4 65.5,394.4 65.8,394.4 66.0,394.4 66.1,394.4 66.4,394.3 66.7,394.0 67.0,393.7 67.3,393.4 67.5,393.2 67.6,393.1 67.9,392.5 68.2,391.9 68.5,391.3 68.8,390.8 69.0,390.7 69.1,390.8 69.4,391.4 69.7,392.4 70.0,393.5 70.3,394.2 70.5,394.4 70.6,394.4 70.9,394.4 71.2,394.4 71.5,394.4 71.8,394.4 72.1,394.4 72.4,394.4 72.7,394.4 73.0,394.4 73.3,394.4 73.5,394.4 73.6,394.3 73.9,393.7 74.2,392.4 74.5,390.8 74.8,389.1 75.1,387.5 75.2,387.1 75.4,386.2 75.7,384.7 76.0,383.2 76.3,381.8 76.6,380.7 76.9,380.2 77.0,380.1 77.2,380.3 77.5,381.3 77.8,382.7 78.1,384.5 78.4,386.1 78.6,387.1 78.7,387.5 79.0,389.1 79.3,390.8 79.6,392.4 79.9,393.7 80.2,394.4 80.3,394.4 80.5,394.4 80.8,394.4 81.1,394.4 81.4,394.4 81.7,394.4 82.0,394.4 82.3,394.4 82.6,394.4 82.9,394.4 83.2,394.4 83.5,394.4 83.8,394.4 84.1,394.4 84.4,394.4 84.7,394.4 85.0,394.4 85.3,394.4 85.6,394.4 85.9,394.4 86.2,394.4 86.5,394.4 86.8,394.4 87.1,394.4 87.4,394.4 87.7,394.4 88.0,394.4 88.3,394.4 88.6,394.4 88.9,394.4 89.2,394.4 89.5,394.4 89.8,394.4 90.1,394.4 90.4,394.4 90.7,394.4 91.0,394.4 91.3,394.4 91.6,394.4 91.9,394.4 92.2,394.4 92.5,394.4 92.8,394.4 93.1,394.4 93.4,394.4 93.7,394.4 94.0,394.4 94.3,394.4 94.6,394.4 94.9,394.4 95.2,394.4 95.5,394.4 95.8,394.4 96.1,394.4 96.4,394.4 96.7,394.4 97.0,394.4 97.3,394.4 97.6,394.4 97.9,394.4 98.2,394.4 98.5,394.4 98.8,394.4 99.1,394.4 99.4,394.4 99.7,394.4 100.0,394.4 100.3,394.4 100.6,394.4 100.9,394.4 101.2,394.4 101.5,394.4 101.8,394.4 102.1,394.4 102.4,394.4 102.7,394.4 103.0,394.4 103.3,394.4 103.6,394.4 103.9,394.4 104.2,394.4 104.5,394.4 104.8,394.4 105.1,394.4 105.4,394.4 105.7,394.4 106.0,394.4 106.3,394.4 106.6,394.4 106.9,394.4 107.2,394.4 107.5,394.4 107.8,394.4 108.1,394.4 108.4,394.4 108.7,394.4 109.0,394.4 109.3,394.4 109.6,394.4 109.9,394.4 110.2,394.4 110.5,394.4 110.8,394.4 111.1,394.4 111.4,394.4 111.7,394.4 112.0,394.4 112.3,394.4 112.6,394.4 112.9,394.4 113.0,394.4 113.2,394.4 113.5,394.3 113.8,394.3 114.1,394.1 114.4,394.0 114.7,393.9 115.0,393.8 115.3,393.6 115.6,393.5 115.9,393.4 116.0,393.4 116.2,393.4 116.5,393.3 116.8,393.3 117.1,393.2 117.4,393.2 117.7,393.2 118.0,393.2 118.3,393.2 118.6,393.3 118.9,393.5 119.2,393.7 119.5,393.9 119.8,394.1 120.1,394.3 120.4,394.4 120.4,394.4 120.7,394.1 121.0,393.4 121.3,392.4 121.6,391.2 121.9,389.9 122.2,388.7 122.3,388.3 122.5,387.6 122.8,386.5 123.1,385.3 123.4,384.1 123.7,382.9 124.0,381.7 124.2,381.0 124.3,380.6 124.6,379.5 124.9,378.3 125.2,377.2 125.5,376.0 125.8,374.9 126.1,373.8 126.4,372.9 126.7,372.0 127.0,371.2 127.3,370.5 127.6,369.8 127.9,369.2 128.2,368.6 128.5,368.2 128.8,368.0 128.9,367.9 129.1,368.0 129.4,368.3 129.7,368.8 130.0,369.4 130.3,370.2 130.6,371.2 130.9,372.1 131.2,373.1 131.5,374.2 131.8,375.1 131.8,375.1 132.1,376.3 132.4,377.8 132.7,379.5 133.0,381.2 133.3,383.0 133.6,384.6 133.9,385.9 134.2,386.9 134.5,387.4 134.6,387.5 134.8,387.3 135.1,386.7 135.4,385.7 135.7,384.4 136.0,382.8 136.3,380.9 136.6,379.0 136.9,376.9 137.2,375.0 137.4,373.7 137.5,373.0 137.8,370.8 138.1,368.3 138.4,365.5 138.7,362.6 139.0,359.7 139.3,356.8 139.6,354.0 139.9,351.5 140.2,349.3 140.3,348.7 140.5,347.5 140.8,345.7 141.1,344.1 141.4,342.5 141.7,341.0 142.0,339.6 142.3,338.3 142.6,337.2 142.9,336.1 143.1,335.4 143.2,335.1 143.5,334.1 143.8,333.0 144.1,332.1 144.4,331.4 144.7,330.8 145.0,330.6 145.3,330.9 145.6,331.5 145.9,332.4 146.2,333.6 146.5,335.0 146.8,336.6 147.1,338.3 147.4,340.1 147.7,341.8 147.9,343.0 148.0,343.5 148.3,345.5 148.6,347.7 148.9,350.2 149.2,352.8 149.5,355.5 149.8,358.1 150.1,360.8 150.4,363.3 150.7,365.6 151.0,367.9 151.3,370.3 151.6,372.6 151.9,375.0 152.2,377.3 152.5,379.4 152.8,381.3 153.1,382.9 153.4,384.3 153.5,384.6 153.7,385.3 154.0,386.3 154.3,387.3 154.6,388.1 154.9,389.0 155.2,389.7 155.5,390.4 155.8,391.1 156.1,391.7 156.4,392.2 156.7,392.6 157.0,392.9 157.3,393.2 157.3,393.2 157.6,393.4 157.9,393.6 158.2,393.8 158.5,394.0 158.8,394.1 159.1,394.2 159.4,394.3 159.7,394.4 160.0,394.4 160.3,394.3 160.6,394.1 160.9,393.8 161.2,393.5 161.5,393.2 161.8,393.0 162.1,392.8 162.4,392.6 162.7,392.6 162.8,392.6 163.0,392.6 163.3,392.7 163.6,393.0 163.9,393.2 164.2,393.5 164.5,393.8 164.8,394.0 165.0,394.0 165.1,394.1 165.4,394.1 165.7,394.2 166.0,394.2 166.3,394.3 166.6,394.3 166.9,394.3 167.2,394.4 167.5,394.4 167.8,394.4 168.0,394.4 168.1,394.4 168.4,394.4 168.7,394.4 169.0,394.4 169.3,394.4 169.6,394.4 169.9,394.4 170.2,394.4 170.5,394.4 170.8,394.4 171.1,394.4 171.4,394.4 171.7,394.4 172.0,394.4 172.3,394.4 172.6,394.4 172.9,394.4 173.2,394.4 173.5,394.4 173.8,394.4 174.1,394.4 174.4,394.4 174.7,394.4 175.0,394.4 175.3,394.4 175.6,394.4 175.9,394.4 176.2,394.4 176.5,394.4 176.8,394.4 177.1,394.4 177.4,394.4 177.7,394.4 178.0,394.4 178.3,394.4 178.6,394.4 178.9,394.4 179.2,394.4 179.5,394.4 179.8,394.4 180.1,394.4 180.4,394.4 180.7,394.4 181.0,394.4 181.3,394.4 181.6,394.4 181.9,394.4 182.2,394.4 182.5,394.4 182.8,394.4 183.1,394.4 183.4,394.4 183.7,394.4 184.0,394.4 184.3,394.4 184.6,394.4 184.9,394.4 185.2,394.4 185.5,394.4 185.8,394.4 186.1,394.4 186.4,394.4 186.7,394.4 187.0,394.4 187.3,394.4 187.6,394.4 187.9,394.4 188.2,394.4 188.5,394.4 188.8,394.4 189.1,394.4 189.4,394.4 189.7,394.4 190.0,394.4 190.3,394.4 190.6,394.4 190.9,394.4 191.2,394.4 191.5,394.4 191.8,394.4 192.1,394.4 192.4,394.4 192.7,394.4 193.0,394.4 193.3,394.4 193.6,394.4 193.9,394.4 194.2,394.4 194.5,394.4 194.8,394.4 195.1,394.4 195.4,394.4 195.7,394.4 196.0,394.4 196.3,394.4 196.6,394.4 196.9,394.4 197.2,394.4 197.5,394.4 197.8,394.4 198.1,394.4 198.4,394.4 198.7,394.4 199.0,394.4 199.3,394.4 199.6,394.4 199.9,394.4 200.2,394.4 200.5,394.4 200.8,394.4 201.1,394.4 201.4,394.4 201.7,394.4 202.0,394.4 202.3,394.4 202.6,394.4 202.9,394.4 203.2,394.4 203.5,394.4 203.8,394.4 204.1,394.4 204.4,394.4 204.7,394.4 205.0,394.4 205.3,394.4 205.6,394.4 205.9,394.4 206.2,394.4 206.5,394.4 206.8,394.4 207.1,394.4 207.4,394.4 207.7,394.4 208.0,394.4 208.3,394.4 208.6,394.4 208.9,394.4 209.2,394.4 209.5,394.4 209.8,394.4 210.1,394.4 210.4,394.4 210.7,394.4 211.0,394.4 211.3,394.4 211.6,394.4 211.9,394.4 212.2,394.4 212.5,394.4 212.8,394.4 213.1,394.4 213.4,394.4 213.7,394.4 214.0,394.4 214.3,394.4 214.6,394.4 214.9,394.4 215.2,394.4 215.5,394.4 215.8,394.4 216.1,394.4 216.4,394.4 216.7,394.4 217.0,394.4 217.3,394.4 217.6,394.4 217.9,394.4 218.2,394.4 218.5,394.4 218.8,394.4 219.1,394.4 219.4,394.4 219.7,394.4 220.0,394.4 220.3,394.4 220.6,394.4 220.9,394.4 221.2,394.4 221.5,394.4 221.8,394.4 222.1,394.4 222.4,394.4 222.7,394.4 223.0,394.4 223.3,394.4 223.6,394.4 223.9,394.4 224.2,394.4 224.5,394.4 224.8,394.4 225.1,394.4 225.4,394.4 225.7,394.4 226.0,394.4 226.3,394.4 226.6,394.4 226.9,394.4 227.2,394.4 227.5,394.4 227.8,394.4 228.1,394.4 228.4,394.4 228.7,394.4 229.0,394.4 229.3,394.4 229.6,394.4 229.9,394.4 230.2,394.4 230.5,394.4 230.8,394.4 231.1,394.4 231.4,394.4 231.7,394.4 232.0,394.4 232.3,394.4 232.6,394.4 232.9,394.4 233.2,394.4 233.5,394.4 233.8,394.4 234.1,394.4 234.4,394.4 234.7,394.4 235.0,394.4 235.3,394.4 235.6,394.4 235.9,394.4 236.2,394.4 236.5,394.4 236.8,394.4 237.1,394.4 237.4,394.4 237.7,394.4 238.0,394.4 238.3,394.4 238.6,394.4 238.9,394.4 239.2,394.4 239.5,394.4 239.8,394.4 240.1,394.4 240.4,394.4 240.7,394.4 241.0,394.4 241.3,394.4 241.6,394.4 241.9,394.4 242.2,394.4 242.5,394.4 242.8,394.4 243.1,394.4 243.4,394.4 243.7,394.4 244.0,394.4 244.3,394.4 244.6,394.4 244.9,394.4 245.2,394.4 245.5,394.4 245.8,394.4 246.1,394.4 246.4,394.4 246.7,394.4 247.0,394.4 247.3,394.4 247.6,394.4 247.9,394.4 248.2,394.4 248.5,394.4 248.8,394.4 249.1,394.4 249.4,394.4 249.7,394.4 250.0,394.4 250.3,394.4 250.6,394.4 250.9,394.4 251.2,394.4 251.5,394.4 251.8,394.4 252.1,394.4 252.4,394.4 252.7,394.4 253.0,394.4 253.3,394.4 253.6,394.4 253.9,394.4 254.2,394.4 254.5,394.4 254.8,394.4 255.1,394.4 255.4,394.4 255.7,394.4 256.0,394.4 256.3,394.4 256.6,394.4 256.9,394.4 257.2,394.4 257.5,394.4 257.8,394.4 258.1,394.4 258.4,394.4 258.7,394.4 259.0,394.4 259.3,394.4 259.6,394.4 259.9,394.4 260.2,394.4 260.5,394.4 260.8,394.4 261.1,394.4 261.4,394.4 261.7,394.4 262.0,394.4 262.3,394.4 262.6,394.4 262.9,394.4 263.2,394.4 263.5,394.4 263.8,394.4 264.1,394.4 264.4,394.4 264.7,394.4 265.0,394.4 265.3,394.4 265.6,394.4 265.9,394.4 266.2,394.4 266.5,394.4 266.8,394.4 267.1,394.4 267.4,394.4 267.7,394.4 268.0,394.4 268.3,394.4 268.6,394.4 268.9,394.4 269.0,394.4" stroke="#f00" stroke-width="1.6" stroke-dasharray="3,2"/>
</g>
<path d="M34.55,394.40v-5M34.55,272.50v5M60.50,394.40v-5M60.50,272.50v5M86.45,394.40v-5M86.45,272.50v5M112.40,394.40v-5M112.40,272.50v5M138.35,394.40v-5M138.35,272.50v5M164.30,394.40v-5M164.30,272.50v5M190.25,394.40v-5M190.25,272.50v5M216.20,394.40v-5M216.20,272.50v5M242.15,394.40v-5M242.15,272.50v5M268.10,394.40v-5M268.10,272.50v5M34.55,394.40h5M268.10,394.40h-5M34.55,370.02h5M268.10,370.02h-5M34.55,345.64h5M268.10,345.64h-5M34.55,321.26h5M268.10,321.26h-5M34.55,296.88h5M268.10,296.88h-5M34.55,272.50h5M268.10,272.50h-5" stroke="#333" stroke-width="1"/>
<rect x="105.50" y="276.60" width="158.60" height="26.00" fill="#fff" stroke="#888" stroke-width="1"/>
<path d="M111.00,282.50h11.8" stroke="#444" stroke-width="1"/>
<path d="M111.00,294.90h12" stroke="#f00" stroke-width="1.6" stroke-dasharray="3,2"/>
<text x="131.80" y="285.70" font-size="8.45" textLength="70.84" lengthAdjust="spacingAndGlyphs">Observed B-band</text>
<text x="131.80" y="297.60" font-size="8.45" textLength="128.09" lengthAdjust="spacingAndGlyphs">Average Continuous Simulation</text>
<text x="17.09" y="396.70" font-size="9.10" textLength="13.91" lengthAdjust="spacingAndGlyphs">0.0</text>
<text x="17.09" y="372.32" font-size="9.10" textLength="13.91" lengthAdjust="spacingAndGlyphs">0.2</text>
<text x="17.09" y="347.94" font-size="9.10" textLength="13.91" lengthAdjust="spacingAndGlyphs">0.4</text>
<text x="17.09" y="323.56" font-size="9.10" textLength="13.91" lengthAdjust="spacingAndGlyphs">0.6</text>
<text x="17.09" y="299.18" font-size="9.10" textLength="13.91" lengthAdjust="spacingAndGlyphs">0.8</text>
<text x="17.09" y="274.80" font-size="9.10" textLength="13.91" lengthAdjust="spacingAndGlyphs">1.0</text>
<g transform="translate(7.1,333.45) rotate(-90)"><text x="-13.50" y="0.00" font-size="9.80" textLength="27.00" lengthAdjust="spacingAndGlyphs">Power</text></g>
<text x="32.07" y="405.00" font-size="9.10" textLength="5.57" lengthAdjust="spacingAndGlyphs">2</text>
<text x="58.02" y="405.00" font-size="9.10" textLength="5.57" lengthAdjust="spacingAndGlyphs">4</text>
<text x="83.97" y="405.00" font-size="9.10" textLength="5.57" lengthAdjust="spacingAndGlyphs">6</text>
<text x="109.92" y="405.00" font-size="9.10" textLength="5.57" lengthAdjust="spacingAndGlyphs">8</text>
<text x="133.09" y="405.00" font-size="9.10" textLength="11.13" lengthAdjust="spacingAndGlyphs">10</text>
<text x="159.04" y="405.00" font-size="9.10" textLength="11.13" lengthAdjust="spacingAndGlyphs">12</text>
<text x="184.99" y="405.00" font-size="9.10" textLength="11.13" lengthAdjust="spacingAndGlyphs">14</text>
<text x="210.94" y="405.00" font-size="9.10" textLength="11.13" lengthAdjust="spacingAndGlyphs">16</text>
<text x="236.88" y="405.00" font-size="9.10" textLength="11.13" lengthAdjust="spacingAndGlyphs">18</text>
<text x="262.84" y="405.00" font-size="9.10" textLength="11.13" lengthAdjust="spacingAndGlyphs">20</text>
<text x="129.53" y="421.60" font-size="9.10" textLength="43.20" lengthAdjust="spacingAndGlyphs">Period [d]</text>
<clipPath id="c21"><rect x="278.05" y="270.50" width="233.55" height="124.30"/></clipPath>
<rect x="278.05" y="272.50" width="233.55" height="121.90" fill="none" stroke="#9a9a9a" stroke-width="1"/>
<g clip-path="url(#c21)" fill="none" stroke-linejoin="round">
<polyline points="277.7,392.0 278.2,392.5 278.7,390.5 279.0,390.7 279.2,390.4 279.7,392.1 280.0,392.0 280.2,392.1 280.7,388.6 281.2,389.0 281.6,386.6 281.7,388.5 282.2,388.4 282.7,392.7 282.8,392.0 283.2,392.2 283.7,389.3 284.2,390.3 284.6,388.5 284.7,389.5 285.2,388.7 285.7,392.5 286.0,392.0 286.2,393.0 286.7,391.2 287.2,393.5 287.5,392.6 287.7,392.6 288.2,390.4 288.7,391.2 288.8,389.5 289.2,388.7 289.7,383.1 289.8,384.6 290.2,380.4 290.7,380.1 291.2,376.1 291.7,383.4 292.2,387.1 292.7,391.0 293.2,392.0 293.7,390.6 294.1,387.1 294.2,388.4 294.7,384.5 295.2,384.2 295.7,385.0 296.2,390.5 296.4,390.7 296.7,392.1 297.2,392.4 297.4,393.2 297.7,388.9 298.2,384.1 298.7,375.7 298.8,376.1 299.2,375.0 299.7,378.2 299.8,377.3 300.2,374.6 300.7,365.8 301.2,361.5 301.7,365.4 302.2,374.8 302.6,377.9 302.7,379.5 303.2,376.6 303.5,378.6 303.7,377.8 304.2,385.4 304.7,386.2 305.0,389.9 305.2,388.4 305.7,388.5 306.2,383.1 306.4,383.4 306.7,379.8 307.2,380.7 307.3,379.0 307.7,383.5 308.2,383.8 308.4,387.1 308.7,382.9 309.2,381.6 309.7,375.0 310.2,372.5 310.7,376.5 311.2,385.6 311.6,388.3 311.7,389.8 312.2,390.7 312.7,393.9 313.0,394.4 313.2,394.1 313.7,391.1 314.2,389.6 314.7,386.0 314.9,385.9 315.2,384.0 315.7,381.9 316.2,378.6 316.4,377.9 316.7,378.7 317.2,381.3 317.7,383.4 318.2,385.9 318.3,386.1 318.7,384.5 319.2,380.9 319.7,376.7 320.2,372.6 320.7,369.3 321.2,367.3 321.6,366.7 321.7,366.8 322.2,368.1 322.7,371.1 323.2,375.1 323.7,379.0 324.2,381.4 324.7,379.5 325.2,376.3 325.7,372.7 326.2,369.4 326.7,367.0 327.2,365.7 327.4,365.6 327.7,366.0 328.2,368.4 328.7,372.5 329.2,377.8 329.7,383.1 330.2,387.5 330.5,388.9 330.7,388.5 331.2,386.6 331.7,384.0 332.2,381.6 332.7,379.6 333.2,378.6 333.4,378.6 333.7,378.7 334.2,379.2 334.7,380.3 335.2,381.9 335.7,383.7 336.2,385.8 336.7,388.1 337.2,390.2 337.7,392.2 338.2,393.7 338.6,394.4 338.7,394.3 339.2,393.4 339.7,392.0 340.2,390.3 340.7,388.4 341.2,386.5 341.7,384.7 342.2,383.0 342.7,381.6 343.2,380.5 343.7,379.8 344.2,379.5 344.3,379.5 344.7,379.7 345.2,380.6 345.7,382.0 346.2,383.8 346.7,386.0 347.2,388.2 347.7,390.2 348.2,391.7 348.5,392.2 348.7,391.9 349.2,390.5 349.7,388.4 350.2,386.1 350.7,383.9 351.2,381.8 351.7,380.2 352.2,379.0 352.7,378.6 352.8,378.6 353.2,379.1 353.7,381.1 354.2,384.0 354.7,387.2 355.2,390.2 355.7,392.4 356.1,393.2 356.2,393.2 356.7,393.5 357.2,393.8 357.7,393.9 358.0,393.9 358.2,393.9 358.7,393.9 359.2,393.9 359.7,393.9 360.2,393.8 360.7,393.8 361.0,393.8 361.2,393.8 361.7,393.6 362.2,393.3 362.7,392.9 363.2,392.3 363.5,392.0 363.7,391.6 364.2,389.9 364.7,387.3 365.2,384.3 365.6,381.8 365.7,381.2 366.2,377.5 366.7,373.5 367.0,371.2 367.2,369.8 367.7,365.9 368.2,362.7 368.4,362.0 368.7,361.2 369.2,360.1 369.7,359.3 370.2,358.8 370.3,358.7 370.7,358.5 371.2,358.3 371.7,358.1 372.2,357.9 372.7,357.7 373.2,357.3 373.7,356.8 374.1,356.6 374.2,356.6 374.7,357.6 375.2,359.3 375.5,360.3 375.7,360.9 376.2,362.8 376.7,364.8 377.2,366.5 377.7,367.5 377.9,367.6 378.2,367.2 378.7,365.5 379.2,363.0 379.5,361.5 379.7,360.5 380.2,357.9 380.7,354.2 381.2,346.0 381.5,341.7 381.7,340.2 382.2,337.1 382.7,335.0 382.9,334.3 383.2,333.5 383.7,332.3 384.2,331.3 384.7,330.5 385.2,329.6 385.3,329.4 385.7,328.6 386.2,327.6 386.7,326.7 387.2,325.9 387.5,325.5 387.7,325.3 388.2,324.7 388.7,324.3 389.2,324.1 389.3,324.1 389.7,324.4 390.2,325.5 390.7,327.2 391.0,328.6 391.2,330.2 391.7,337.4 391.9,339.9 392.2,342.6 392.7,346.6 392.8,347.5 393.2,350.7 393.7,355.0 393.8,356.0 394.2,362.0 394.5,365.8 394.7,367.1 395.2,370.2 395.7,372.4 396.2,373.6 396.4,373.8 396.7,373.9 397.2,374.0 397.7,374.0 398.2,374.1 398.7,374.1 399.2,374.1 399.7,374.2 400.2,374.3 400.7,374.5 401.2,374.8 401.7,375.2 402.2,375.7 402.7,376.2 403.2,376.8 403.7,377.5 404.2,378.1 404.7,378.8 404.9,379.0 405.2,379.4 405.7,380.2 406.2,381.1 406.7,382.0 407.2,382.9 407.7,383.9 408.2,384.9 408.7,385.8 409.2,386.8 409.6,387.5 409.7,387.6 410.2,388.6 410.7,389.6 411.2,390.7 411.7,391.7 412.2,392.7 412.7,393.5 413.2,394.1 413.7,394.4 413.9,394.4 414.2,394.3 414.7,394.0 415.2,393.5 415.7,392.7 416.2,391.9 416.7,390.9 417.2,390.0 417.7,389.1 418.2,388.3 418.7,387.6 419.2,386.8 419.7,385.9 420.2,385.1 420.7,384.4 421.2,383.7 421.7,383.0 421.9,382.8 422.2,382.5 422.7,381.9 423.2,381.4 423.7,380.8 424.2,380.3 424.7,379.8 425.2,379.4 425.7,379.1 426.2,378.8 426.7,378.7 427.0,378.7 427.2,378.7 427.7,378.9 428.2,379.4 428.7,380.0 429.2,380.7 429.7,381.5 430.2,382.3 430.7,383.0 431.0,383.4 431.2,383.7 431.7,384.4 432.2,385.2 432.7,386.1 433.2,386.9 433.7,387.8 434.2,388.6 434.7,389.3 435.2,390.0 435.7,390.5 436.0,390.7 436.2,390.9 436.7,391.2 437.2,391.6 437.7,391.9 438.2,392.1 438.7,392.4 439.2,392.5 439.7,392.6 439.8,392.6 440.2,392.5 440.7,392.1 441.2,391.4 441.7,390.6 442.2,389.7 442.7,388.6 443.2,387.5 443.7,386.5 444.0,385.9 444.2,385.5 444.7,384.3 445.2,382.9 445.7,381.4 446.2,379.9 446.7,378.4 447.2,377.0 447.7,375.7 448.2,374.5 448.7,373.7 449.2,373.0 449.7,372.4 450.2,371.8 450.7,371.3 451.2,370.8 451.7,370.3 452.2,369.9 452.7,369.6 453.1,369.3 453.2,369.2 453.7,368.9 454.2,368.6 454.7,368.3 455.2,368.0 455.7,367.7 456.2,367.4 456.7,367.2 457.2,367.0 457.7,366.8 458.2,366.6 458.7,366.5 459.2,366.4 459.7,366.3 460.2,366.1 460.7,366.0 461.2,365.9 461.7,365.9 462.2,365.8 462.7,365.7 463.2,365.7 463.7,365.6 464.2,365.6 464.7,365.7 465.2,365.8 465.7,366.0 466.2,366.3 466.7,366.6 467.2,367.0 467.7,367.4 468.2,367.8 468.7,368.2 469.2,368.6 469.7,369.1 470.2,369.7 470.7,370.3 471.2,371.1 471.7,371.9 472.0,372.5 472.2,372.9 472.7,374.4 473.2,376.4 473.7,378.5 474.2,380.5 474.7,382.1 474.9,382.6 475.2,383.2 475.7,384.3 476.2,385.2 476.7,386.1 477.2,386.9 477.7,387.7 478.2,388.3 478.7,388.8 479.2,389.2 479.3,389.3 479.7,389.5 480.2,389.8 480.7,390.1 481.2,390.3 481.7,390.5 482.2,390.6 482.7,390.6 483.2,390.5 483.7,390.3 484.2,389.9 484.7,389.4 485.2,388.8 485.7,388.1 486.2,387.5 486.7,386.8 487.2,386.1 487.7,385.5 488.2,384.9 488.7,384.4 489.2,383.8 489.7,383.2 490.2,382.6 490.7,382.0 491.2,381.4 491.7,380.8 492.2,380.3 492.7,379.9 493.2,379.4 493.7,379.1 493.8,379.0 494.2,378.8 494.7,378.5 495.2,378.2 495.7,378.0 496.2,377.7 496.7,377.5 497.2,377.2 497.7,377.0 498.2,376.9 498.7,376.7 499.2,376.6 499.7,376.5 500.2,376.5 500.4,376.5 500.7,376.5 501.2,376.5 501.7,376.6 502.2,376.7 502.7,376.8 503.2,377.0 503.7,377.1 504.2,377.3 504.7,377.5 505.2,377.7 505.7,377.8 506.0,377.9 506.2,378.0 506.7,378.2 507.2,378.4 507.7,378.7 508.2,378.9 508.7,379.2 509.2,379.4 509.7,379.7 510.2,380.0 510.7,380.4 511.2,380.7 511.7,381.0 512.2,381.4 512.5,381.6" stroke="#111" stroke-width="1.0"/>
<polyline points="277.7,394.4 278.0,394.4 278.3,394.4 278.6,394.4 278.9,394.4 279.2,394.4 279.5,394.4 279.8,394.4 280.1,394.4 280.4,394.4 280.7,394.4 281.0,394.4 281.3,394.4 281.6,394.4 281.9,394.4 282.2,394.4 282.5,394.4 282.8,394.4 283.1,394.4 283.4,394.4 283.7,394.4 284.0,394.4 284.3,394.4 284.6,394.4 284.9,394.4 285.2,394.4 285.5,394.4 285.8,394.4 286.1,394.4 286.4,394.4 286.7,394.4 287.0,394.4 287.3,394.4 287.6,394.4 287.9,394.4 288.2,394.4 288.5,394.4 288.8,394.4 289.1,394.4 289.4,394.4 289.7,394.4 290.0,394.4 290.3,394.4 290.6,394.4 290.9,394.4 291.2,394.4 291.5,394.4 291.8,394.4 292.1,394.4 292.4,394.4 292.7,394.4 293.0,394.4 293.3,394.4 293.6,394.4 293.9,394.4 294.2,394.4 294.5,394.4 294.8,394.4 295.1,394.4 295.4,394.4 295.7,394.4 296.0,394.4 296.3,394.4 296.6,394.4 296.9,394.4 297.2,394.4 297.5,394.4 297.8,394.4 298.1,394.4 298.4,394.4 298.7,394.4 299.0,394.4 299.3,394.4 299.6,394.4 299.9,394.4 300.2,394.4 300.5,394.4 300.8,394.4 301.1,394.4 301.4,394.4 301.7,394.4 302.0,394.4 302.3,394.4 302.6,394.4 302.9,394.4 303.2,394.4 303.5,394.4 303.8,394.4 304.1,394.4 304.4,394.4 304.7,394.4 305.0,394.4 305.3,394.4 305.6,394.4 305.9,394.4 306.2,394.4 306.5,394.4 306.8,394.4 307.1,394.4 307.4,394.4 307.7,394.4 308.0,394.4 308.3,394.4 308.6,394.4 308.9,394.4 309.2,394.4 309.5,394.4 309.8,394.4 310.0,394.4 310.1,394.4 310.4,394.1 310.7,393.7 311.0,393.2 311.3,392.6 311.6,392.2 311.9,392.0 312.0,392.0 312.2,392.0 312.5,392.3 312.8,392.8 313.1,393.4 313.4,393.9 313.7,394.3 314.0,394.4 314.0,394.4 314.3,394.4 314.6,394.4 314.9,394.4 315.2,394.4 315.5,394.4 315.8,394.4 316.1,394.4 316.4,394.4 316.5,394.4 316.7,394.3 317.0,393.8 317.3,392.9 317.6,391.8 317.9,390.5 318.2,389.0 318.5,387.5 318.7,386.5 318.8,385.9 319.1,383.4 319.4,380.5 319.7,378.1 320.0,377.1 320.0,377.1 320.3,377.5 320.6,378.6 320.9,380.0 321.2,381.7 321.5,383.4 321.5,383.4 321.8,385.6 322.1,388.4 322.4,391.3 322.7,393.5 323.0,394.4 323.0,394.4 323.3,394.4 323.6,394.4 323.9,394.4 324.2,394.4 324.5,394.4 324.8,394.4 325.1,394.4 325.4,394.4 325.7,394.4 326.0,394.4 326.3,394.4 326.6,394.4 326.9,394.4 327.2,394.4 327.5,394.4 327.8,394.4 328.1,394.4 328.4,394.4 328.7,394.4 329.0,394.4 329.3,394.4 329.6,394.4 329.9,394.4 330.2,394.4 330.5,394.4 330.8,394.4 331.1,394.4 331.4,394.4 331.7,394.4 332.0,394.4 332.3,394.4 332.6,394.4 332.9,394.4 333.2,394.4 333.5,394.4 333.8,394.4 334.1,394.4 334.4,394.4 334.7,394.4 335.0,394.4 335.3,394.4 335.6,394.4 335.9,394.4 336.2,394.4 336.5,394.4 336.8,394.4 337.1,394.4 337.4,394.4 337.7,394.4 338.0,394.4 338.3,394.4 338.6,394.4 338.9,394.4 339.2,394.4 339.5,394.4 339.8,394.4 340.1,394.4 340.4,394.4 340.7,394.4 341.0,394.4 341.3,394.4 341.6,394.4 341.9,394.4 342.2,394.4 342.5,394.4 342.8,394.4 343.1,394.4 343.4,394.4 343.7,394.4 344.0,394.4 344.3,394.4 344.6,394.4 344.9,394.4 345.2,394.4 345.5,394.4 345.8,394.4 346.1,394.4 346.4,394.4 346.7,394.4 347.0,394.4 347.3,394.4 347.6,394.4 347.9,394.4 348.2,394.4 348.5,394.4 348.8,394.4 349.1,394.4 349.4,394.4 349.7,394.4 350.0,394.4 350.3,394.4 350.6,394.4 350.9,394.4 351.2,394.4 351.5,394.4 351.8,394.4 352.1,394.4 352.4,394.4 352.7,394.4 353.0,394.4 353.3,394.4 353.6,394.4 353.9,394.4 354.2,394.4 354.5,394.4 354.8,394.4 355.1,394.4 355.4,394.4 355.7,394.4 356.0,394.4 356.3,394.4 356.6,394.4 356.9,394.4 357.2,394.4 357.5,394.4 357.8,394.4 358.1,394.4 358.4,394.4 358.7,394.4 359.0,394.4 359.3,394.4 359.6,394.4 359.9,394.4 360.2,394.4 360.5,394.4 360.8,394.4 361.1,394.4 361.4,394.4 361.7,394.4 362.0,394.4 362.3,394.4 362.6,394.4 362.7,394.4 362.9,394.4 363.2,394.2 363.5,394.0 363.8,393.6 364.1,393.2 364.4,392.6 364.7,392.1 365.0,391.5 365.3,390.8 365.6,390.2 365.9,389.5 366.2,388.9 366.5,388.3 366.5,388.3 366.8,387.7 367.1,386.9 367.4,386.2 367.7,385.3 368.0,384.4 368.3,383.6 368.6,382.7 368.9,381.8 369.2,381.1 369.5,380.3 369.8,379.7 370.1,379.2 370.3,378.9 370.4,378.8 370.7,378.4 371.0,378.1 371.3,377.7 371.6,377.4 371.9,377.2 372.2,376.9 372.5,376.8 372.8,376.6 373.1,376.6 373.1,376.6 373.4,376.7 373.7,377.0 374.0,377.5 374.3,378.1 374.6,378.7 374.9,379.4 375.2,380.2 375.5,380.9 375.8,381.5 375.9,381.7 376.1,382.1 376.4,382.8 376.7,383.5 377.0,384.3 377.3,385.1 377.6,385.9 377.9,386.7 378.2,387.4 378.5,388.0 378.8,388.5 379.1,388.9 379.4,389.2 379.7,389.3 380.0,388.6 380.3,386.8 380.6,384.1 380.9,380.9 381.2,377.5 381.5,374.2 381.6,373.2 381.8,371.1 382.1,367.5 382.4,363.7 382.7,359.8 383.0,356.0 383.3,352.6 383.5,350.5 383.6,349.6 383.9,346.8 384.2,344.3 384.5,341.8 384.8,339.6 385.1,337.4 385.4,335.4 385.4,335.4 385.7,333.4 386.0,331.4 386.3,329.6 386.6,327.8 386.9,326.4 387.2,325.2 387.3,324.9 387.5,324.4 387.8,323.6 388.1,322.9 388.4,322.4 388.7,322.1 388.8,322.1 389.0,322.2 389.3,322.7 389.6,323.4 389.9,324.5 390.2,325.6 390.5,326.9 390.7,327.7 390.8,328.2 391.1,329.7 391.4,331.6 391.7,333.7 392.0,336.1 392.3,338.6 392.6,341.3 392.9,344.0 393.0,344.9 393.2,346.9 393.5,350.3 393.8,354.1 394.1,358.0 394.4,361.6 394.7,364.7 394.8,365.6 395.0,367.3 395.3,369.7 395.6,372.0 395.9,374.2 396.2,376.3 396.5,378.2 396.8,380.0 397.1,381.7 397.4,383.2 397.7,384.6 398.0,386.0 398.3,387.5 398.6,388.9 398.9,390.3 399.2,391.5 399.5,392.6 399.8,393.5 400.1,394.1 400.4,394.4 400.5,394.4 400.7,394.4 401.0,394.4 401.3,394.4 401.6,394.4 401.9,394.4 402.2,394.4 402.5,394.4 402.8,394.4 403.1,394.4 403.4,394.4 403.7,394.4 404.0,394.4 404.3,394.4 404.6,394.4 404.9,394.4 405.0,394.4 405.2,394.4 405.5,394.3 405.8,394.1 406.1,394.0 406.4,393.7 406.7,393.5 407.0,393.3 407.3,393.1 407.6,393.0 407.9,392.9 408.0,392.9 408.2,393.0 408.5,393.0 408.8,393.2 409.1,393.4 409.4,393.6 409.7,393.8 410.0,394.0 410.3,394.2 410.6,394.3 410.9,394.4 411.0,394.4 411.2,394.4 411.5,394.4 411.8,394.4 412.1,394.4 412.4,394.4 412.7,394.4 413.0,394.4 413.3,394.4 413.6,394.4 413.9,394.4 414.2,394.4 414.5,394.4 414.8,394.4 415.1,394.4 415.4,394.4 415.7,394.4 416.0,394.4 416.3,394.4 416.6,394.4 416.9,394.4 417.2,394.4 417.5,394.4 417.8,394.4 418.1,394.4 418.4,394.4 418.7,394.4 419.0,394.4 419.3,394.4 419.6,394.4 419.9,394.4 420.2,394.4 420.5,394.4 420.8,394.4 421.1,394.4 421.4,394.4 421.7,394.4 422.0,394.4 422.3,394.4 422.6,394.4 422.9,394.4 423.2,394.4 423.5,394.4 423.8,394.4 424.1,394.4 424.4,394.4 424.7,394.4 425.0,394.4 425.3,394.4 425.6,394.4 425.9,394.4 426.2,394.4 426.5,394.4 426.8,394.4 427.1,394.4 427.4,394.4 427.7,394.4 428.0,394.4 428.3,394.4 428.6,394.4 428.9,394.4 429.2,394.4 429.5,394.4 429.8,394.4 430.1,394.4 430.4,394.4 430.7,394.4 431.0,394.4 431.3,394.4 431.6,394.4 431.9,394.4 432.2,394.4 432.5,394.4 432.8,394.4 433.1,394.4 433.4,394.4 433.7,394.4 434.0,394.4 434.3,394.4 434.6,394.4 434.9,394.4 435.2,394.4 435.5,394.4 435.8,394.4 436.1,394.4 436.4,394.4 436.7,394.4 437.0,394.4 437.3,394.4 437.6,394.4 437.9,394.4 438.2,394.4 438.5,394.4 438.8,394.4 439.1,394.4 439.4,394.4 439.7,394.4 440.0,394.4 440.3,394.4 440.6,394.4 440.9,394.4 441.2,394.4 441.5,394.4 441.8,394.4 442.1,394.4 442.4,394.4 442.7,394.4 443.0,394.4 443.3,394.4 443.6,394.4 443.9,394.4 444.2,394.4 444.5,394.4 444.8,394.4 445.1,394.4 445.4,394.4 445.7,394.4 446.0,394.4 446.3,394.4 446.6,394.4 446.9,394.4 447.2,394.4 447.5,394.4 447.8,394.4 448.1,394.4 448.4,394.4 448.7,394.4 449.0,394.4 449.3,394.4 449.6,394.4 449.9,394.4 450.2,394.4 450.5,394.4 450.8,394.4 451.1,394.4 451.4,394.4 451.7,394.4 452.0,394.4 452.3,394.4 452.6,394.4 452.9,394.4 453.2,394.4 453.5,394.4 453.8,394.4 454.1,394.4 454.4,394.4 454.7,394.4 455.0,394.4 455.3,394.4 455.6,394.4 455.9,394.4 456.2,394.4 456.5,394.4 456.8,394.4 457.1,394.4 457.4,394.4 457.7,394.4 458.0,394.4 458.3,394.4 458.6,394.4 458.9,394.4 459.2,394.4 459.5,394.4 459.8,394.4 460.1,394.4 460.4,394.4 460.7,394.4 461.0,394.4 461.3,394.4 461.6,394.4 461.9,394.4 462.2,394.4 462.5,394.4 462.8,394.4 463.1,394.4 463.4,394.4 463.7,394.4 464.0,394.4 464.3,394.4 464.6,394.4 464.9,394.4 465.2,394.4 465.5,394.4 465.8,394.4 466.1,394.4 466.4,394.4 466.7,394.4 467.0,394.4 467.3,394.4 467.6,394.4 467.9,394.4 468.2,394.4 468.5,394.4 468.8,394.4 469.1,394.4 469.4,394.4 469.7,394.4 470.0,394.4 470.3,394.4 470.6,394.4 470.9,394.4 471.2,394.4 471.5,394.4 471.8,394.4 472.1,394.4 472.4,394.4 472.7,394.4 473.0,394.4 473.3,394.4 473.6,394.4 473.9,394.4 474.2,394.4 474.5,394.4 474.8,394.4 475.1,394.4 475.4,394.4 475.7,394.4 476.0,394.4 476.3,394.4 476.6,394.4 476.9,394.4 477.2,394.4 477.5,394.4 477.8,394.4 478.1,394.4 478.4,394.4 478.7,394.4 479.0,394.4 479.3,394.4 479.6,394.4 479.9,394.4 480.2,394.4 480.5,394.4 480.8,394.4 481.1,394.4 481.4,394.4 481.7,394.4 482.0,394.4 482.3,394.4 482.6,394.4 482.9,394.4 483.2,394.4 483.5,394.4 483.8,394.4 484.1,394.4 484.4,394.4 484.7,394.4 485.0,394.4 485.3,394.4 485.6,394.4 485.9,394.4 486.2,394.4 486.5,394.4 486.8,394.4 487.1,394.4 487.4,394.4 487.7,394.4 488.0,394.4 488.3,394.4 488.6,394.4 488.9,394.4 489.2,394.4 489.5,394.4 489.8,394.4 490.1,394.4 490.4,394.4 490.7,394.4 491.0,394.4 491.3,394.4 491.6,394.4 491.9,394.4 492.2,394.4 492.5,394.4 492.8,394.4 493.1,394.4 493.4,394.4 493.7,394.4 494.0,394.4 494.3,394.4 494.6,394.4 494.9,394.4 495.2,394.4 495.5,394.4 495.8,394.4 496.1,394.4 496.4,394.4 496.7,394.4 497.0,394.4 497.3,394.4 497.6,394.4 497.9,394.4 498.2,394.4 498.5,394.4 498.8,394.4 499.1,394.4 499.4,394.4 499.7,394.4 500.0,394.4 500.3,394.4 500.6,394.4 500.9,394.4 501.2,394.4 501.5,394.4 501.8,394.4 502.1,394.4 502.4,394.4 502.7,394.4 503.0,394.4 503.3,394.4 503.6,394.4 503.9,394.4 504.2,394.4 504.5,394.4 504.8,394.4 505.1,394.4 505.4,394.4 505.7,394.4 506.0,394.4 506.3,394.4 506.6,394.4 506.9,394.4 507.2,394.4 507.5,394.4 507.8,394.4 508.1,394.4 508.4,394.4 508.7,394.4 509.0,394.4 509.3,394.4 509.6,394.4 509.9,394.4 510.2,394.4 510.5,394.4 510.8,394.4 511.1,394.4 511.4,394.4 511.7,394.4 512.0,394.4 512.3,394.4 512.5,394.4" stroke="#f00" stroke-width="1.6" stroke-dasharray="3,2"/>
</g>
<path d="M278.05,394.40v-5M278.05,272.50v5M304.00,394.40v-5M304.00,272.50v5M329.95,394.40v-5M329.95,272.50v5M355.90,394.40v-5M355.90,272.50v5M381.85,394.40v-5M381.85,272.50v5M407.80,394.40v-5M407.80,272.50v5M433.75,394.40v-5M433.75,272.50v5M459.70,394.40v-5M459.70,272.50v5M485.65,394.40v-5M485.65,272.50v5M511.60,394.40v-5M511.60,272.50v5M278.05,394.40h5M511.60,394.40h-5M278.05,370.02h5M511.60,370.02h-5M278.05,345.64h5M511.60,345.64h-5M278.05,321.26h5M511.60,321.26h-5M278.05,296.88h5M511.60,296.88h-5M278.05,272.50h5M511.60,272.50h-5" stroke="#333" stroke-width="1"/>
<rect x="349.00" y="276.60" width="158.60" height="26.00" fill="#fff" stroke="#888" stroke-width="1"/>
<path d="M354.50,282.50h11.8" stroke="#444" stroke-width="1"/>
<path d="M354.50,294.90h12" stroke="#f00" stroke-width="1.6" stroke-dasharray="3,2"/>
<text x="375.30" y="285.70" font-size="8.45" textLength="70.35" lengthAdjust="spacingAndGlyphs">Observed V-band</text>
<text x="375.30" y="297.60" font-size="8.45" textLength="128.09" lengthAdjust="spacingAndGlyphs">Average Continuous Simulation</text>
<text x="275.57" y="405.00" font-size="9.10" textLength="5.57" lengthAdjust="spacingAndGlyphs">2</text>
<text x="301.52" y="405.00" font-size="9.10" textLength="5.57" lengthAdjust="spacingAndGlyphs">4</text>
<text x="327.47" y="405.00" font-size="9.10" textLength="5.57" lengthAdjust="spacingAndGlyphs">6</text>
<text x="353.42" y="405.00" font-size="9.10" textLength="5.57" lengthAdjust="spacingAndGlyphs">8</text>
<text x="376.59" y="405.00" font-size="9.10" textLength="11.13" lengthAdjust="spacingAndGlyphs">10</text>
<text x="402.54" y="405.00" font-size="9.10" textLength="11.13" lengthAdjust="spacingAndGlyphs">12</text>
<text x="428.49" y="405.00" font-size="9.10" textLength="11.13" lengthAdjust="spacingAndGlyphs">14</text>
<text x="454.44" y="405.00" font-size="9.10" textLength="11.13" lengthAdjust="spacingAndGlyphs">16</text>
<text x="480.38" y="405.00" font-size="9.10" textLength="11.13" lengthAdjust="spacingAndGlyphs">18</text>
<text x="506.34" y="405.00" font-size="9.10" textLength="11.13" lengthAdjust="spacingAndGlyphs">20</text>
<text x="373.03" y="421.60" font-size="9.10" textLength="43.20" lengthAdjust="spacingAndGlyphs">Period [d]</text>
<clipPath id="c22"><rect x="521.55" y="270.50" width="233.55" height="124.30"/></clipPath>
<rect x="521.55" y="272.50" width="233.55" height="121.90" fill="none" stroke="#9a9a9a" stroke-width="1"/>
<g clip-path="url(#c22)" fill="none" stroke-linejoin="round">
<polyline points="521.4,392.0 521.9,391.4 522.0,389.9 522.4,391.5 522.9,391.5 523.4,393.2 523.9,391.9 524.4,392.3 524.9,390.0 525.3,390.3 525.4,389.5 525.9,392.0 526.2,391.4 526.4,392.2 526.9,389.3 527.4,388.9 527.9,389.7 528.4,393.1 528.6,392.9 528.9,393.5 529.4,392.3 529.9,394.3 530.4,393.4 530.9,393.1 531.4,389.6 531.9,389.4 532.4,387.2 532.9,387.0 533.1,385.6 533.4,385.9 533.9,380.0 534.4,379.4 534.5,377.6 534.9,383.6 535.4,387.2 535.7,392.0 535.9,391.3 536.4,393.7 536.9,392.9 537.1,393.4 537.4,392.4 537.9,394.2 538.4,392.7 538.9,394.0 539.4,392.6 539.9,392.9 540.4,388.9 540.9,388.2 541.3,384.6 541.4,384.4 541.9,376.0 542.4,372.0 542.6,368.1 542.9,373.9 543.4,380.4 543.5,383.4 543.9,376.9 544.4,373.3 544.5,371.4 544.9,378.7 545.4,384.6 545.9,383.1 546.4,377.3 546.5,378.6 546.9,380.1 547.4,385.8 547.9,386.3 548.0,388.3 548.4,388.9 548.9,392.6 549.4,383.4 549.9,378.8 550.3,372.8 550.4,375.8 550.9,378.5 551.4,387.4 551.7,390.1 551.9,388.9 552.4,379.8 552.9,377.3 553.2,372.5 553.4,376.1 553.9,378.3 554.4,387.3 554.6,388.3 554.9,391.1 555.4,391.1 555.5,392.2 555.9,389.5 556.4,389.4 556.9,385.9 557.4,387.3 557.9,383.3 558.4,385.7 558.8,383.7 558.9,384.4 559.4,379.6 559.9,381.4 560.4,377.5 560.9,376.6 561.4,378.4 561.9,383.4 562.1,383.4 562.4,384.5 562.9,383.0 563.4,385.4 563.5,384.6 563.9,382.9 564.4,377.5 564.9,375.4 565.2,372.8 565.4,374.3 565.9,377.4 566.4,382.0 566.8,384.6 566.9,385.1 567.4,386.2 567.9,387.8 568.2,388.1 568.4,387.5 568.9,384.5 569.4,380.7 569.9,377.2 570.4,374.7 570.9,373.8 571.4,375.6 571.9,379.8 572.4,384.0 572.5,384.6 572.9,387.5 573.4,391.1 573.9,392.7 574.4,391.0 574.9,388.3 575.4,385.4 575.9,383.1 576.4,382.0 576.6,381.8 576.9,382.0 577.4,382.9 577.9,384.4 578.4,386.2 578.9,387.9 579.4,389.3 579.5,389.5 579.9,390.4 580.4,391.5 580.9,392.6 581.4,393.5 581.9,394.2 582.4,394.4 582.9,393.0 583.4,390.5 583.9,387.5 584.4,384.3 584.9,381.1 585.4,378.2 585.9,375.9 586.4,374.1 586.9,373.2 587.2,373.1 587.4,373.2 587.9,374.7 588.4,377.6 588.9,381.4 589.4,385.8 589.9,389.8 590.4,392.5 590.5,392.7 590.9,391.3 591.4,388.0 591.9,384.1 592.4,379.9 592.9,375.9 593.4,372.6 593.9,370.3 594.4,369.1 594.6,369.0 594.9,369.5 595.4,371.8 595.9,375.3 596.4,379.3 596.9,382.8 597.0,383.4 597.4,385.9 597.9,389.3 598.4,392.3 598.9,393.7 599.0,393.8 599.4,393.6 599.9,392.9 600.4,392.1 600.5,392.0 600.9,391.4 601.4,390.7 601.9,390.0 602.4,389.5 602.8,389.4 602.9,389.4 603.4,389.6 603.9,389.9 604.4,390.4 604.9,390.9 605.4,391.3 605.6,391.4 605.9,391.1 606.4,390.0 606.9,388.3 607.4,386.3 607.5,385.9 607.9,384.0 608.4,381.0 608.9,377.6 609.4,374.3 609.9,370.8 610.4,367.1 610.9,363.9 611.3,362.0 611.4,361.6 611.9,359.8 612.4,358.3 612.9,357.4 613.2,357.2 613.4,357.2 613.9,357.5 614.4,358.0 614.9,358.6 615.4,359.0 615.5,359.0 615.9,358.8 616.4,358.3 616.9,357.8 617.4,357.4 617.9,357.2 618.4,358.0 618.9,359.9 619.4,362.3 619.9,364.6 620.3,365.8 620.4,366.0 620.9,367.0 621.4,367.9 621.9,368.6 622.4,368.9 622.5,368.9 622.9,368.6 623.4,367.5 623.9,365.8 624.4,364.0 624.9,362.3 625.0,362.0 625.4,360.9 625.9,359.5 626.4,358.1 626.9,356.6 627.4,355.0 627.9,353.3 628.4,351.5 628.9,349.7 629.4,347.8 629.9,345.8 630.2,344.7 630.4,343.9 630.9,341.7 631.4,339.4 631.9,337.3 632.4,335.6 632.6,335.2 632.9,334.5 633.4,333.6 633.9,333.2 634.4,334.0 634.9,336.1 635.4,338.5 635.5,338.9 635.9,341.0 636.4,344.0 636.9,347.5 637.4,351.5 637.8,355.0 637.9,356.0 638.4,361.2 638.9,366.8 639.4,371.7 639.5,372.5 639.9,375.6 640.4,379.4 640.9,382.8 641.4,385.5 641.9,387.3 642.0,387.5 642.4,388.1 642.9,388.9 643.4,389.5 643.9,390.1 644.4,390.5 644.9,390.8 645.4,391.0 645.7,391.0 645.9,390.9 646.4,390.7 646.9,390.4 647.4,390.0 647.9,389.6 648.4,389.2 648.9,388.8 649.4,388.5 649.9,388.2 650.4,387.9 650.9,387.8 651.4,387.7 651.6,387.7 651.9,387.7 652.4,387.9 652.9,388.3 653.4,388.8 653.9,389.3 654.4,389.8 654.9,390.3 655.4,390.7 655.5,390.7 655.9,391.0 656.4,391.4 656.9,391.8 657.4,392.1 657.9,392.4 658.4,392.7 658.9,392.9 659.4,392.9 659.9,392.7 660.4,392.2 660.9,391.4 661.4,390.3 661.9,389.1 662.4,387.7 662.9,386.3 663.4,385.0 663.9,383.7 664.0,383.4 664.4,382.4 664.9,380.9 665.4,379.2 665.9,377.5 666.4,375.7 666.9,374.1 667.4,372.5 667.9,371.1 668.4,370.0 668.9,369.3 669.4,368.7 669.9,368.2 670.4,367.7 670.9,367.3 671.4,366.9 671.9,366.7 672.4,366.5 672.8,366.5 672.9,366.5 673.4,366.6 673.9,366.9 674.4,367.4 674.9,367.9 675.4,368.6 675.9,369.3 676.4,370.2 676.9,371.0 677.4,371.9 677.8,372.6 677.9,372.8 678.4,373.9 678.9,375.2 679.4,376.7 679.9,378.4 680.4,380.1 680.9,381.7 681.4,383.2 681.9,384.4 682.0,384.6 682.4,385.5 682.9,386.7 683.4,387.9 683.9,389.0 684.4,390.0 684.9,390.8 685.4,391.4 685.9,391.7 686.1,391.7 686.4,391.7 686.9,391.3 687.4,390.7 687.9,389.9 688.4,388.9 688.9,387.9 689.4,386.8 689.9,385.8 690.4,384.8 690.5,384.6 690.9,383.9 691.4,383.0 691.9,382.0 692.4,381.0 692.9,380.0 693.4,378.9 693.9,377.9 694.4,377.0 694.9,376.1 695.4,375.2 695.6,374.9 695.9,374.4 696.4,373.7 696.9,372.9 697.4,372.1 697.9,371.4 698.4,370.7 698.9,370.0 699.4,369.4 699.9,368.8 700.4,368.2 700.9,367.7 701.4,367.3 701.6,367.1 701.9,366.8 702.4,366.4 702.9,366.0 703.4,365.6 703.9,365.2 704.4,364.8 704.9,364.5 705.4,364.2 705.9,363.9 706.4,363.7 706.9,363.5 707.4,363.5 707.7,363.4 707.9,363.4 708.4,363.6 708.9,363.8 709.4,364.2 709.9,364.7 710.4,365.2 710.9,365.8 711.4,366.4 711.9,367.1 712.4,367.8 712.7,368.2 712.9,368.5 713.4,369.4 713.9,370.4 714.4,371.7 714.9,373.0 715.4,374.4 715.9,375.8 716.4,377.2 716.9,378.6 717.4,379.8 717.9,380.9 718.2,381.5 718.4,381.8 718.9,382.8 719.4,383.7 719.9,384.7 720.4,385.6 720.9,386.5 721.4,387.2 721.9,387.9 722.4,388.5 722.9,389.0 723.4,389.2 723.8,389.3 723.9,389.3 724.4,389.1 724.9,388.8 725.4,388.3 725.9,387.7 726.4,386.9 726.9,386.2 727.4,385.4 727.9,384.6 728.4,383.8 728.9,383.1 729.3,382.6 729.4,382.5 729.9,381.9 730.4,381.2 730.9,380.6 731.4,380.0 731.9,379.4 732.4,378.8 732.9,378.2 733.4,377.7 733.9,377.2 734.4,376.8 734.9,376.5 735.4,376.2 735.9,375.9 736.4,375.6 736.9,375.4 737.4,375.1 737.9,374.9 738.4,374.7 738.9,374.5 739.4,374.3 739.9,374.1 740.4,374.0 740.9,374.0 741.4,373.9 741.6,373.9 741.9,373.9 742.4,374.0 742.9,374.2 743.4,374.4 743.9,374.6 744.4,374.9 744.9,375.2 745.4,375.6 745.9,375.9 746.4,376.3 746.9,376.7 747.4,377.1 747.9,377.5 748.2,377.7 748.4,377.8 748.9,378.2 749.4,378.6 749.9,379.0 750.4,379.4 750.9,379.9 751.4,380.4 751.9,380.8 752.4,381.3 752.9,381.8 753.4,382.3 753.9,382.9 754.4,383.4 754.9,384.0 755.4,384.6 755.9,385.1 756.0,385.3" stroke="#111" stroke-width="1.0"/>
<polyline points="521.4,394.4 521.7,394.4 522.0,394.4 522.3,394.4 522.6,394.4 522.9,394.4 523.2,394.4 523.5,394.4 523.8,394.4 524.1,394.4 524.4,394.4 524.7,394.4 525.0,394.4 525.3,394.4 525.6,394.4 525.9,394.4 526.2,394.4 526.5,394.4 526.8,394.4 527.1,394.4 527.4,394.4 527.7,394.4 528.0,394.4 528.3,394.4 528.6,394.4 528.9,394.4 529.2,394.4 529.5,394.4 529.8,394.4 530.1,394.4 530.4,394.4 530.7,394.4 531.0,394.4 531.3,394.4 531.6,394.4 531.9,394.4 532.2,394.4 532.5,394.4 532.8,394.4 533.1,394.4 533.4,394.4 533.7,394.4 534.0,394.4 534.3,394.4 534.6,394.4 534.9,394.4 535.2,394.4 535.5,394.4 535.8,394.4 536.1,394.4 536.4,394.4 536.7,394.4 537.0,394.4 537.3,394.4 537.6,394.4 537.9,394.4 538.2,394.4 538.5,394.4 538.8,394.4 539.1,394.4 539.4,394.4 539.7,394.4 540.0,394.4 540.3,394.4 540.6,394.4 540.9,394.4 541.2,394.4 541.5,394.4 541.8,394.4 542.1,394.4 542.4,394.4 542.7,394.4 543.0,394.4 543.3,394.4 543.6,394.4 543.9,394.4 544.2,394.4 544.5,394.4 544.8,394.4 545.1,394.4 545.4,394.4 545.7,394.4 546.0,394.4 546.3,394.4 546.6,394.4 546.9,394.4 547.2,394.4 547.5,394.4 547.8,394.4 548.1,394.4 548.4,394.4 548.7,394.4 549.0,394.4 549.3,394.4 549.6,394.4 549.9,394.4 550.2,394.4 550.5,394.4 550.8,394.4 551.1,394.4 551.4,394.4 551.7,394.4 552.0,394.4 552.3,394.4 552.6,394.4 552.9,394.4 553.2,394.4 553.5,394.4 553.5,394.4 553.8,393.4 554.1,391.1 554.4,388.8 554.5,388.3 554.7,387.3 555.0,385.9 555.3,384.9 555.5,384.6 555.6,384.7 555.9,385.5 556.2,386.8 556.5,388.3 556.5,388.3 556.8,390.3 557.1,392.7 557.4,394.3 557.5,394.4 557.7,394.4 558.0,394.4 558.3,394.4 558.6,394.4 558.9,394.4 559.2,394.4 559.5,394.4 559.8,394.4 560.1,394.4 560.4,394.4 560.7,394.4 561.0,394.4 561.3,394.4 561.5,394.4 561.6,394.3 561.9,392.7 562.2,390.3 562.5,388.3 562.5,388.3 562.8,386.8 563.1,385.5 563.4,384.7 563.5,384.6 563.7,384.8 564.0,385.5 564.3,386.5 564.6,387.6 564.8,388.3 564.9,388.6 565.2,389.7 565.5,390.8 565.8,391.9 566.1,392.8 566.3,393.2 566.4,393.3 566.7,393.8 567.0,394.1 567.3,394.4 567.5,394.4 567.6,394.4 567.9,394.4 568.2,394.4 568.5,394.4 568.8,394.4 569.1,394.4 569.4,394.4 569.7,394.4 570.0,394.4 570.3,394.4 570.6,394.4 570.9,394.4 571.2,394.4 571.5,394.4 571.8,394.4 572.1,394.4 572.4,394.4 572.7,394.4 573.0,394.4 573.3,394.4 573.6,394.4 573.9,394.4 574.2,394.4 574.5,394.4 574.8,394.4 575.1,394.4 575.4,394.4 575.7,394.4 576.0,394.4 576.3,394.4 576.6,394.4 576.9,394.4 577.2,394.4 577.5,394.4 577.8,394.4 578.1,394.4 578.4,394.4 578.7,394.4 579.0,394.4 579.3,394.4 579.6,394.4 579.9,394.4 580.2,394.4 580.5,394.4 580.8,394.4 581.1,394.4 581.4,394.4 581.7,394.4 582.0,394.4 582.3,394.4 582.6,394.4 582.9,394.4 583.2,394.4 583.5,394.4 583.8,394.4 584.1,394.4 584.4,394.4 584.7,394.4 585.0,394.4 585.3,394.4 585.6,394.4 585.9,394.4 586.2,394.4 586.5,394.4 586.8,394.4 587.1,394.4 587.4,394.4 587.7,394.4 588.0,394.4 588.3,394.4 588.6,394.4 588.9,394.4 589.2,394.4 589.5,394.4 589.8,394.4 590.1,394.4 590.4,394.4 590.7,394.4 591.0,394.4 591.3,394.4 591.6,394.4 591.9,394.4 592.2,394.4 592.5,394.4 592.8,394.4 593.1,394.4 593.4,394.4 593.7,394.4 594.0,394.4 594.3,394.4 594.6,394.4 594.9,394.4 595.2,394.4 595.5,394.4 595.8,394.4 596.1,394.4 596.4,394.4 596.7,394.4 597.0,394.4 597.3,394.4 597.6,394.4 597.9,394.4 598.2,394.4 598.5,394.4 598.8,394.4 599.1,394.4 599.4,394.4 599.7,394.4 600.0,394.4 600.3,394.4 600.6,394.4 600.9,394.4 601.2,394.4 601.5,394.4 601.8,394.4 602.1,394.4 602.4,394.4 602.7,394.4 603.0,394.4 603.3,394.4 603.6,394.4 603.9,394.4 604.0,394.4 604.2,394.4 604.5,394.3 604.8,394.2 605.1,394.0 605.4,393.8 605.7,393.6 606.0,393.4 606.2,393.2 606.3,393.1 606.6,392.7 606.9,392.2 607.2,391.6 607.5,391.0 607.8,390.2 608.1,389.3 608.4,388.4 608.7,387.4 609.0,386.3 609.3,385.2 609.6,384.0 609.6,384.0 609.9,382.7 610.2,381.0 610.5,379.0 610.8,376.9 611.1,374.7 611.4,372.4 611.7,370.2 612.0,368.1 612.2,366.9 612.3,366.2 612.6,364.3 612.9,362.2 613.2,360.2 613.5,358.2 613.8,356.4 614.1,354.7 614.4,353.4 614.7,352.3 614.7,352.3 615.0,351.5 615.3,350.7 615.6,350.0 615.9,349.4 616.2,349.1 616.5,348.9 616.5,348.9 616.8,349.1 617.1,349.5 617.4,350.2 617.7,351.1 618.0,352.2 618.3,353.4 618.6,354.6 618.7,355.0 618.9,356.1 619.2,358.2 619.5,360.9 619.8,363.9 620.1,366.9 620.4,369.7 620.7,372.0 620.7,372.0 621.0,374.0 621.3,376.2 621.6,378.3 621.9,380.4 622.2,382.2 622.5,383.8 622.8,384.9 623.1,385.6 623.3,385.7 623.4,385.7 623.7,385.3 624.0,384.4 624.3,383.2 624.6,381.8 624.9,380.2 625.2,378.5 625.5,376.9 625.8,375.4 625.8,375.4 626.1,373.9 626.4,372.2 626.7,370.5 627.0,368.6 627.3,366.8 627.6,364.9 627.9,363.1 628.2,361.3 628.5,359.7 628.8,358.2 629.1,357.0 629.2,356.6 629.4,355.9 629.7,354.8 630.0,353.7 630.3,352.6 630.6,351.6 630.9,350.8 631.2,350.0 631.5,349.4 631.8,349.1 632.1,348.9 632.1,348.9 632.4,349.1 632.7,349.5 633.0,350.2 633.3,351.1 633.6,352.1 633.9,353.2 634.2,354.3 634.4,355.0 634.5,355.4 634.8,356.7 635.1,358.1 635.4,359.8 635.7,361.5 636.0,363.3 636.3,365.1 636.6,366.9 636.9,368.6 637.2,370.2 637.5,371.9 637.8,373.5 638.1,375.2 638.4,376.9 638.7,378.5 639.0,380.0 639.3,381.4 639.5,382.2 639.6,382.6 639.9,383.9 640.2,385.1 640.5,386.2 640.8,387.3 641.1,388.3 641.4,389.2 641.7,390.1 642.0,390.7 642.0,390.7 642.3,391.4 642.6,392.0 642.9,392.6 643.2,393.1 643.5,393.6 643.8,394.0 644.1,394.3 644.4,394.4 644.5,394.4 644.7,394.4 645.0,394.4 645.3,394.4 645.6,394.4 645.9,394.4 646.2,394.4 646.5,394.4 646.8,394.4 647.0,394.4 647.1,394.4 647.4,394.3 647.7,394.2 648.0,394.0 648.3,393.8 648.6,393.6 648.9,393.4 649.2,393.2 649.5,393.0 649.8,393.0 650.0,392.9 650.1,392.9 650.4,392.9 650.7,393.0 651.0,393.0 651.3,393.0 651.6,393.0 651.9,393.0 652.2,393.1 652.5,393.1 652.8,393.2 653.0,393.2 653.1,393.2 653.4,393.3 653.7,393.4 654.0,393.6 654.3,393.7 654.6,393.9 654.9,394.1 655.2,394.2 655.5,394.3 655.8,394.4 656.0,394.4 656.1,394.4 656.4,394.4 656.7,394.4 657.0,394.4 657.3,394.4 657.6,394.4 657.9,394.4 658.2,394.4 658.5,394.4 658.8,394.4 659.1,394.4 659.4,394.4 659.7,394.4 660.0,394.4 660.3,394.4 660.6,394.4 660.9,394.4 661.2,394.4 661.5,394.4 661.8,394.4 662.1,394.4 662.4,394.4 662.7,394.4 663.0,394.4 663.3,394.4 663.6,394.4 663.9,394.4 664.2,394.4 664.5,394.4 664.8,394.4 665.1,394.4 665.4,394.4 665.7,394.4 666.0,394.4 666.3,394.4 666.6,394.4 666.9,394.4 667.2,394.4 667.5,394.4 667.8,394.4 668.1,394.4 668.4,394.4 668.7,394.4 669.0,394.4 669.3,394.4 669.6,394.4 669.9,394.4 670.2,394.4 670.5,394.4 670.8,394.4 671.1,394.4 671.4,394.4 671.7,394.4 672.0,394.4 672.3,394.4 672.6,394.4 672.9,394.4 673.2,394.4 673.5,394.4 673.8,394.4 674.1,394.4 674.4,394.4 674.7,394.4 675.0,394.4 675.3,394.4 675.6,394.4 675.9,394.4 676.2,394.4 676.5,394.4 676.8,394.4 677.1,394.4 677.4,394.4 677.7,394.4 678.0,394.4 678.3,394.4 678.6,394.4 678.9,394.4 679.2,394.4 679.5,394.4 679.8,394.4 680.1,394.4 680.4,394.4 680.7,394.4 681.0,394.4 681.3,394.4 681.6,394.4 681.9,394.4 682.2,394.4 682.5,394.4 682.8,394.4 683.1,394.4 683.4,394.4 683.7,394.4 684.0,394.4 684.3,394.4 684.6,394.4 684.9,394.4 685.2,394.4 685.5,394.4 685.8,394.4 686.1,394.4 686.4,394.4 686.7,394.4 687.0,394.4 687.3,394.4 687.6,394.4 687.9,394.4 688.2,394.4 688.5,394.4 688.8,394.4 689.1,394.4 689.4,394.4 689.7,394.4 690.0,394.4 690.3,394.4 690.6,394.4 690.9,394.4 691.2,394.4 691.5,394.4 691.8,394.4 692.1,394.4 692.4,394.4 692.7,394.4 693.0,394.4 693.3,394.4 693.6,394.4 693.9,394.4 694.2,394.4 694.5,394.4 694.8,394.4 695.1,394.4 695.4,394.4 695.7,394.4 696.0,394.4 696.3,394.4 696.6,394.4 696.9,394.4 697.2,394.4 697.5,394.4 697.8,394.4 698.1,394.4 698.4,394.4 698.7,394.4 699.0,394.4 699.3,394.4 699.6,394.4 699.9,394.4 700.2,394.4 700.5,394.4 700.8,394.4 701.1,394.4 701.4,394.4 701.7,394.4 702.0,394.4 702.3,394.4 702.6,394.4 702.9,394.4 703.2,394.4 703.5,394.4 703.8,394.4 704.1,394.4 704.4,394.4 704.7,394.4 705.0,394.4 705.3,394.4 705.6,394.4 705.9,394.4 706.2,394.4 706.5,394.4 706.8,394.4 707.1,394.4 707.4,394.4 707.7,394.4 708.0,394.4 708.3,394.4 708.6,394.4 708.9,394.4 709.2,394.4 709.5,394.4 709.8,394.4 710.1,394.4 710.4,394.4 710.7,394.4 711.0,394.4 711.3,394.4 711.6,394.4 711.9,394.4 712.2,394.4 712.5,394.4 712.8,394.4 713.1,394.4 713.4,394.4 713.7,394.4 714.0,394.4 714.3,394.4 714.6,394.4 714.9,394.4 715.2,394.4 715.5,394.4 715.8,394.4 716.1,394.4 716.4,394.4 716.7,394.4 717.0,394.4 717.3,394.4 717.6,394.4 717.9,394.4 718.2,394.4 718.5,394.4 718.8,394.4 719.1,394.4 719.4,394.4 719.7,394.4 720.0,394.4 720.3,394.4 720.6,394.4 720.9,394.4 721.2,394.4 721.5,394.4 721.8,394.4 722.1,394.4 722.4,394.4 722.7,394.4 723.0,394.4 723.3,394.4 723.6,394.4 723.9,394.4 724.2,394.4 724.5,394.4 724.8,394.4 725.1,394.4 725.4,394.4 725.7,394.4 726.0,394.4 726.3,394.4 726.6,394.4 726.9,394.4 727.2,394.4 727.5,394.4 727.8,394.4 728.1,394.4 728.4,394.4 728.7,394.4 729.0,394.4 729.3,394.4 729.6,394.4 729.9,394.4 730.2,394.4 730.5,394.4 730.8,394.4 731.1,394.4 731.4,394.4 731.7,394.4 732.0,394.4 732.3,394.4 732.6,394.4 732.9,394.4 733.2,394.4 733.5,394.4 733.8,394.4 734.1,394.4 734.4,394.4 734.7,394.4 735.0,394.4 735.3,394.4 735.6,394.4 735.9,394.4 736.2,394.4 736.5,394.4 736.8,394.4 737.1,394.4 737.4,394.4 737.7,394.4 738.0,394.4 738.3,394.4 738.6,394.4 738.9,394.4 739.2,394.4 739.5,394.4 739.8,394.4 740.1,394.4 740.4,394.4 740.7,394.4 741.0,394.4 741.3,394.4 741.6,394.4 741.9,394.4 742.2,394.4 742.5,394.4 742.8,394.4 743.1,394.4 743.4,394.4 743.7,394.4 744.0,394.4 744.3,394.4 744.6,394.4 744.9,394.4 745.2,394.4 745.5,394.4 745.8,394.4 746.1,394.4 746.4,394.4 746.7,394.4 747.0,394.4 747.3,394.4 747.6,394.4 747.9,394.4 748.2,394.4 748.5,394.4 748.8,394.4 749.1,394.4 749.4,394.4 749.7,394.4 750.0,394.4 750.3,394.4 750.6,394.4 750.9,394.4 751.2,394.4 751.5,394.4 751.8,394.4 752.1,394.4 752.4,394.4 752.7,394.4 753.0,394.4 753.3,394.4 753.6,394.4 753.9,394.4 754.2,394.4 754.5,394.4 754.8,394.4 755.1,394.4 755.4,394.4 755.7,394.4 756.0,394.4 756.0,394.4" stroke="#f00" stroke-width="1.6" stroke-dasharray="3,2"/>
</g>
<path d="M521.55,394.40v-5M521.55,272.50v5M547.50,394.40v-5M547.50,272.50v5M573.45,394.40v-5M573.45,272.50v5M599.40,394.40v-5M599.40,272.50v5M625.35,394.40v-5M625.35,272.50v5M651.30,394.40v-5M651.30,272.50v5M677.25,394.40v-5M677.25,272.50v5M703.20,394.40v-5M703.20,272.50v5M729.15,394.40v-5M729.15,272.50v5M755.10,394.40v-5M755.10,272.50v5M521.55,394.40h5M755.10,394.40h-5M521.55,370.02h5M755.10,370.02h-5M521.55,345.64h5M755.10,345.64h-5M521.55,321.26h5M755.10,321.26h-5M521.55,296.88h5M755.10,296.88h-5M521.55,272.50h5M755.10,272.50h-5" stroke="#333" stroke-width="1"/>
<rect x="592.50" y="276.60" width="158.60" height="26.00" fill="#fff" stroke="#888" stroke-width="1"/>
<path d="M598.00,282.50h11.8" stroke="#444" stroke-width="1"/>
<path d="M598.00,294.90h12" stroke="#f00" stroke-width="1.6" stroke-dasharray="3,2"/>
<text x="618.80" y="285.70" font-size="8.45" textLength="67.66" lengthAdjust="spacingAndGlyphs">Observed I-band</text>
<text x="618.80" y="297.60" font-size="8.45" textLength="128.09" lengthAdjust="spacingAndGlyphs">Average Continuous Simulation</text>
<text x="519.07" y="405.00" font-size="9.10" textLength="5.57" lengthAdjust="spacingAndGlyphs">2</text>
<text x="545.02" y="405.00" font-size="9.10" textLength="5.57" lengthAdjust="spacingAndGlyphs">4</text>
<text x="570.97" y="405.00" font-size="9.10" textLength="5.57" lengthAdjust="spacingAndGlyphs">6</text>
<text x="596.92" y="405.00" font-size="9.10" textLength="5.57" lengthAdjust="spacingAndGlyphs">8</text>
<text x="620.08" y="405.00" font-size="9.10" textLength="11.13" lengthAdjust="spacingAndGlyphs">10</text>
<text x="646.03" y="405.00" font-size="9.10" textLength="11.13" lengthAdjust="spacingAndGlyphs">12</text>
<text x="671.98" y="405.00" font-size="9.10" textLength="11.13" lengthAdjust="spacingAndGlyphs">14</text>
<text x="697.93" y="405.00" font-size="9.10" textLength="11.13" lengthAdjust="spacingAndGlyphs">16</text>
<text x="723.88" y="405.00" font-size="9.10" textLength="11.13" lengthAdjust="spacingAndGlyphs">18</text>
<text x="749.83" y="405.00" font-size="9.10" textLength="11.13" lengthAdjust="spacingAndGlyphs">20</text>
<text x="616.52" y="421.60" font-size="9.10" textLength="43.20" lengthAdjust="spacingAndGlyphs">Period [d]</text>
</svg></body></html>
